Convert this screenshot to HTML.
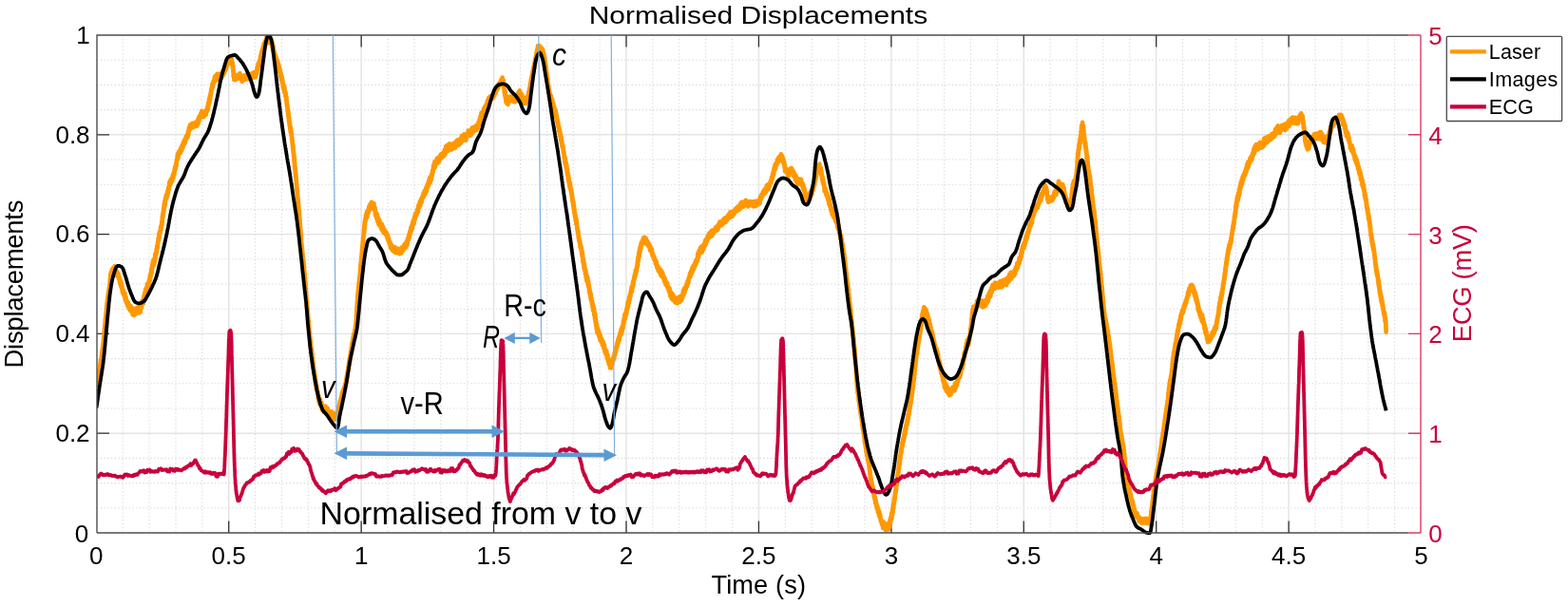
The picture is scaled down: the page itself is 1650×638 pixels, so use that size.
<!DOCTYPE html>
<html lang="en"><head><meta charset="utf-8"><title>Normalised Displacements</title>
<style>html,body{margin:0;padding:0;background:#fff}body{width:1650px;height:638px;overflow:hidden}svg{display:block}text{font-family:"Liberation Sans",sans-serif}</style></head><body>
<svg width="1650" height="638" viewBox="0 0 1650 638">
<rect x="0" y="0" width="1650" height="638" fill="#fff"/>
<path d="M129.19,37.0V561.0 M157.07,37.0V561.0 M184.96,37.0V561.0 M212.84,37.0V561.0 M268.61,37.0V561.0 M296.50,37.0V561.0 M324.38,37.0V561.0 M352.27,37.0V561.0 M408.04,37.0V561.0 M435.92,37.0V561.0 M463.81,37.0V561.0 M491.69,37.0V561.0 M547.46,37.0V561.0 M575.35,37.0V561.0 M603.23,37.0V561.0 M631.12,37.0V561.0 M686.88,37.0V561.0 M714.77,37.0V561.0 M742.66,37.0V561.0 M770.54,37.0V561.0 M826.31,37.0V561.0 M854.20,37.0V561.0 M882.08,37.0V561.0 M909.97,37.0V561.0 M965.74,37.0V561.0 M993.62,37.0V561.0 M1021.51,37.0V561.0 M1049.39,37.0V561.0 M1105.16,37.0V561.0 M1133.05,37.0V561.0 M1160.93,37.0V561.0 M1188.82,37.0V561.0 M1244.59,37.0V561.0 M1272.47,37.0V561.0 M1300.36,37.0V561.0 M1328.24,37.0V561.0 M1384.01,37.0V561.0 M1411.90,37.0V561.0 M1439.78,37.0V561.0 M1467.67,37.0V561.0" stroke="#d8d8d8" stroke-width="1.1" stroke-dasharray="1.3 2.45" fill="none"/>
<path d="M102.0,534.80H1495.0 M102.0,508.60H1495.0 M102.0,482.40H1495.0 M102.0,430.00H1495.0 M102.0,403.80H1495.0 M102.0,377.60H1495.0 M102.0,325.20H1495.0 M102.0,299.00H1495.0 M102.0,272.80H1495.0 M102.0,220.40H1495.0 M102.0,194.20H1495.0 M102.0,168.00H1495.0 M102.0,115.60H1495.0 M102.0,89.40H1495.0 M102.0,63.20H1495.0" stroke="#d8d8d8" stroke-width="1.1" stroke-dasharray="1.3 2.45" fill="none"/>
<path d="M240.73,37.0V561.0 M380.15,37.0V561.0 M519.58,37.0V561.0 M659.00,37.0V561.0 M798.42,37.0V561.0 M937.85,37.0V561.0 M1077.28,37.0V561.0 M1216.70,37.0V561.0 M1356.12,37.0V561.0 M102.0,456.20H1495.0 M102.0,351.40H1495.0 M102.0,246.60H1495.0 M102.0,141.80H1495.0" stroke="#e3e3e3" stroke-width="1.4" fill="none"/>
<path d="M240.73,561.0v-12.5 M240.73,37.0v12.5 M380.15,561.0v-12.5 M380.15,37.0v12.5 M519.58,561.0v-12.5 M519.58,37.0v12.5 M659.00,561.0v-12.5 M659.00,37.0v12.5 M798.42,561.0v-12.5 M798.42,37.0v12.5 M937.85,561.0v-12.5 M937.85,37.0v12.5 M1077.28,561.0v-12.5 M1077.28,37.0v12.5 M1216.70,561.0v-12.5 M1216.70,37.0v12.5 M1356.12,561.0v-12.5 M1356.12,37.0v12.5 M102.0,456.20h13 M102.0,351.40h13 M102.0,246.60h13 M102.0,141.80h13" stroke="#333" stroke-width="1.3" fill="none"/>
<clipPath id="pc"><rect x="102.0" y="37.0" width="1393.0" height="526.2"/></clipPath>
<g clip-path="url(#pc)">
<path d="M101.5,411.0 L101.8,406.7 L102.0,409.8 L102.3,404.3 L102.6,406.7 L102.9,400.2 L103.1,404.4 L103.4,397.6 L103.6,400.8 L103.9,393.2 L104.2,396.8 L104.5,389.1 L104.7,392.7 L105.0,386.3 L105.2,389.5 L105.4,383.1 L105.7,387.4 L105.9,379.0 L106.1,384.0 L106.4,377.6 L106.6,380.8 L106.8,374.2 L107.0,376.6 L107.2,371.0 L107.5,374.7 L107.7,367.4 L107.9,371.7 L108.1,365.2 L108.3,366.7 L108.5,361.4 L108.7,364.0 L108.9,357.8 L109.1,360.6 L109.2,353.4 L109.4,356.2 L109.5,349.9 L109.7,353.7 L109.9,346.0 L110.0,349.5 L110.2,342.9 L110.3,347.6 L110.5,340.8 L110.6,343.7 L110.8,336.3 L110.9,340.8 L111.1,334.5 L111.2,338.3 L111.4,331.7 L111.5,334.7 L111.7,328.3 L111.8,331.7 L112.0,324.8 L112.1,328.6 L112.3,321.9 L112.4,325.3 L112.6,318.6 L112.8,322.0 L113.0,315.2 L113.2,318.2 L113.5,312.3 L113.7,315.2 L113.9,308.2 L114.1,312.3 L114.4,306.1 L114.6,308.4 L114.8,302.8 L115.1,306.6 L115.3,299.3 L115.5,302.1 L115.7,295.8 L115.8,299.3 L115.9,293.4 L116.0,295.9 L116.2,289.1 L116.3,293.5 L116.6,287.0 L117.1,289.9 L117.8,283.9 L118.4,286.2 L119.1,282.1 L119.8,285.2 L120.5,280.4 L121.2,285.6 L121.9,283.9 L122.5,290.0 L123.1,285.8 L123.8,290.9 L124.4,287.7 L125.0,293.5 L125.5,291.1 L126.0,298.4 L126.5,294.1 L127.0,301.1 L127.5,296.8 L128.0,303.9 L128.4,300.2 L128.8,307.7 L129.3,304.5 L129.7,309.8 L130.3,306.8 L130.8,312.1 L131.4,308.7 L131.9,316.1 L132.5,312.6 L133.0,318.9 L133.7,316.6 L134.3,322.0 L135.0,318.4 L135.6,324.8 L136.2,321.1 L136.9,326.6 L137.6,322.1 L138.3,328.2 L138.9,324.0 L139.6,331.4 L140.4,326.9 L141.0,332.0 L141.6,324.8 L142.3,330.8 L142.9,325.2 L143.6,330.3 L144.3,323.9 L145.0,328.4 L145.6,323.3 L146.2,329.5 L147.0,323.7 L147.7,328.4 L148.3,321.7 L148.9,324.0 L149.6,317.0 L150.1,320.1 L150.6,315.0 L151.0,319.4 L151.3,311.8 L151.7,314.8 L152.2,308.5 L152.6,311.9 L153.1,304.5 L153.6,307.4 L154.0,303.0 L154.5,304.8 L155.0,298.8 L155.5,304.7 L156.0,298.6 L156.4,301.3 L156.9,295.0 L157.3,297.0 L157.7,290.6 L158.1,294.5 L158.4,288.0 L158.8,290.5 L159.2,283.9 L159.6,287.7 L160.0,279.6 L160.4,282.4 L160.8,275.6 L161.2,279.9 L161.6,273.5 L162.0,279.1 L162.3,272.8 L162.8,276.0 L163.2,267.7 L163.6,272.4 L164.0,265.8 L164.3,268.4 L164.7,261.7 L165.0,265.9 L165.3,258.7 L165.7,261.4 L166.0,254.9 L166.3,256.6 L166.6,250.9 L167.0,253.8 L167.3,246.2 L167.6,250.5 L167.9,244.1 L168.2,246.4 L168.5,242.9 L168.8,245.0 L169.1,238.9 L169.4,242.3 L169.7,237.1 L170.0,239.0 L170.3,233.0 L170.6,236.6 L170.8,227.7 L171.1,230.6 L171.4,224.7 L171.6,228.1 L171.8,222.3 L172.1,224.6 L172.3,217.8 L172.6,221.6 L172.8,214.4 L173.1,218.9 L173.5,211.2 L173.8,215.6 L174.1,208.2 L174.5,210.6 L174.8,205.3 L175.2,209.4 L175.6,204.2 L176.0,207.2 L176.4,201.0 L176.8,203.8 L177.3,197.1 L177.8,199.6 L178.3,191.9 L178.9,195.5 L179.5,189.1 L180.1,192.8 L180.7,187.6 L181.2,190.5 L181.8,184.3 L182.3,187.5 L182.8,182.0 L183.3,183.7 L183.6,178.4 L184.0,180.6 L184.3,175.5 L184.7,177.8 L185.1,172.4 L185.5,174.8 L185.9,168.1 L186.4,169.1 L186.9,162.4 L187.4,166.7 L187.9,160.1 L188.5,162.0 L189.1,158.4 L189.8,161.0 L190.4,155.2 L191.1,158.8 L191.8,152.4 L192.4,155.4 L193.1,149.3 L193.7,152.4 L194.4,146.8 L195.0,150.0 L195.7,143.8 L196.3,146.4 L196.9,141.7 L197.5,144.6 L198.0,138.0 L198.4,141.8 L198.8,134.6 L199.3,137.6 L200.0,131.5 L200.6,135.5 L201.3,130.5 L202.0,134.5 L202.6,129.7 L203.3,134.3 L204.0,130.5 L204.7,132.9 L205.4,128.9 L206.0,132.9 L206.7,129.1 L207.3,132.4 L208.0,126.5 L208.5,130.3 L208.8,124.2 L209.2,128.4 L209.7,122.5 L210.3,124.8 L211.0,120.1 L211.6,121.5 L212.3,116.8 L212.9,121.0 L213.6,118.8 L214.2,123.3 L214.8,118.6 L215.5,121.7 L216.2,116.8 L216.8,120.8 L217.4,115.1 L218.1,117.2 L218.5,111.6 L219.0,115.1 L219.3,108.0 L219.7,111.0 L220.1,104.1 L220.5,108.4 L220.8,101.0 L221.1,104.6 L221.4,98.7 L221.7,101.4 L222.0,95.5 L222.2,98.6 L222.5,92.8 L222.9,95.0 L223.4,88.5 L223.9,91.8 L224.6,85.6 L225.2,86.7 L225.9,80.9 L226.6,85.2 L227.2,79.4 L227.8,83.0 L228.5,77.8 L229.2,83.9 L230.0,79.0 L230.6,82.5 L231.3,78.0 L231.9,83.0 L232.5,78.2 L233.3,82.0 L234.0,75.4 L234.7,79.6 L235.3,74.2 L235.9,77.2 L236.5,71.5 L237.0,74.8 L237.5,68.9 L238.0,72.7 L238.6,65.5 L239.3,69.1 L240.0,61.3 L240.6,66.2 L241.3,60.7 L241.9,64.5 L242.5,59.7 L243.2,65.5 L243.7,60.9 L244.2,68.0 L244.6,65.7 L245.0,72.4 L245.2,68.9 L245.4,76.2 L245.6,73.9 L245.7,80.6 L246.0,78.0 L246.3,84.0 L247.0,79.4 L247.6,84.2 L248.4,79.1 L249.0,83.4 L249.7,79.1 L250.4,82.5 L251.1,78.2 L251.7,81.4 L252.5,77.0 L253.2,83.0 L254.0,80.4 L254.8,85.9 L255.5,80.6 L256.3,84.0 L257.1,79.4 L257.8,83.9 L258.6,79.2 L259.4,83.4 L260.2,78.3 L261.0,83.3 L261.6,78.4 L262.3,82.3 L262.9,78.1 L263.6,82.1 L264.3,77.9 L264.9,82.8 L265.6,77.1 L266.3,81.6 L267.0,76.4 L267.7,80.8 L268.3,77.4 L269.0,81.3 L269.6,75.3 L270.1,77.9 L270.6,71.0 L271.1,73.5 L271.6,67.1 L272.1,70.1 L272.6,65.3 L273.0,68.9 L273.4,63.1 L273.8,66.0 L274.1,59.3 L274.5,63.6 L274.9,55.6 L275.3,59.3 L275.8,52.6 L276.3,56.8 L276.8,49.2 L277.3,53.7 L277.8,45.7 L278.4,50.8 L279.0,43.2 L279.7,46.8 L280.3,39.8 L280.9,45.7 L281.6,37.2 L282.3,42.5 L283.0,36.3 L283.7,43.7 L284.3,39.8 L285.0,45.6 L285.6,41.7 L286.2,48.7 L286.7,45.3 L287.2,53.3 L287.6,48.5 L288.0,56.1 L288.3,52.7 L288.7,58.2 L289.1,56.0 L289.5,61.7 L290.0,58.4 L290.4,64.1 L290.9,61.0 L291.4,67.0 L291.9,63.6 L292.4,70.8 L292.9,66.6 L293.3,72.5 L293.8,69.5 L294.3,76.4 L294.8,73.5 L295.3,81.2 L295.7,77.2 L296.1,84.6 L296.5,80.4 L296.8,87.2 L297.2,83.2 L297.6,91.1 L297.9,87.3 L298.3,93.5 L298.7,89.8 L299.0,96.1 L299.4,91.8 L299.8,98.0 L300.1,95.6 L300.5,101.9 L300.8,98.1 L301.1,105.7 L301.4,102.1 L301.7,109.7 L301.9,106.8 L302.1,112.6 L302.4,110.6 L302.6,116.7 L302.8,112.9 L303.0,119.8 L303.3,116.6 L303.5,123.4 L303.7,120.0 L303.9,127.4 L304.2,123.5 L304.4,129.9 L304.6,126.8 L304.8,132.8 L305.1,129.8 L305.3,136.1 L305.5,132.9 L305.7,139.3 L306.0,134.6 L306.2,140.3 L306.4,137.9 L306.6,143.0 L306.8,140.0 L307.1,147.2 L307.3,144.5 L307.5,150.0 L307.7,147.6 L307.9,154.2 L308.1,151.2 L308.3,157.7 L308.5,154.4 L308.7,161.6 L308.9,158.7 L309.1,165.4 L309.2,161.6 L309.4,169.1 L309.6,164.5 L309.7,171.2 L309.9,167.6 L310.0,175.2 L310.2,171.0 L310.4,178.8 L310.5,175.4 L310.7,181.3 L310.8,176.7 L311.0,183.6 L311.1,181.3 L311.3,187.3 L311.5,184.0 L311.6,190.5 L311.7,187.3 L311.9,194.2 L312.0,190.2 L312.2,196.4 L312.3,194.2 L312.5,200.6 L312.6,198.1 L312.8,204.4 L312.9,200.5 L313.0,207.0 L313.2,204.2 L313.3,209.7 L313.5,207.9 L313.6,213.5 L313.7,209.7 L313.9,216.6 L314.0,214.0 L314.1,218.5 L314.3,216.4 L314.4,222.4 L314.5,219.5 L314.7,226.3 L314.8,221.7 L314.9,228.3 L315.1,225.8 L315.2,232.7 L315.3,228.7 L315.4,234.6 L315.6,231.5 L315.7,238.7 L315.8,235.8 L316.0,241.5 L316.1,238.3 L316.2,245.2 L316.4,241.8 L316.5,248.7 L316.6,244.9 L316.8,252.4 L316.9,247.6 L317.0,256.4 L317.2,254.4 L317.4,261.2 L317.5,256.9 L317.7,264.7 L317.9,260.3 L318.0,266.3 L318.2,263.9 L318.3,270.3 L318.5,266.9 L318.7,273.2 L318.8,269.3 L319.0,276.6 L319.2,271.9 L319.3,278.1 L319.5,274.2 L319.6,280.9 L319.8,278.8 L320.0,284.5 L320.1,281.2 L320.3,289.3 L320.4,285.9 L320.6,291.3 L320.7,288.5 L320.8,294.9 L321.0,292.0 L321.1,297.5 L321.2,294.4 L321.4,301.8 L321.5,297.6 L321.6,305.0 L321.7,300.7 L321.9,309.3 L322.0,304.6 L322.1,312.5 L322.3,309.0 L322.4,316.6 L322.5,313.9 L322.7,321.3 L322.8,317.0 L322.9,323.2 L323.0,318.9 L323.2,326.1 L323.3,321.9 L323.4,328.5 L323.5,324.2 L323.7,330.6 L323.8,326.7 L323.9,332.8 L324.1,330.5 L324.2,336.1 L324.4,334.7 L324.5,339.6 L324.7,337.4 L324.9,343.8 L325.0,341.5 L325.2,347.9 L325.3,344.6 L325.5,351.5 L325.6,348.2 L325.8,354.6 L326.0,350.8 L326.1,356.8 L326.3,354.4 L326.5,359.9 L326.6,357.3 L326.8,363.4 L327.0,360.0 L327.2,367.0 L327.4,364.5 L327.6,370.8 L327.8,367.0 L328.0,372.4 L328.1,369.4 L328.3,374.7 L328.5,372.9 L328.7,378.5 L328.9,376.1 L329.1,382.2 L329.3,379.6 L329.5,385.5 L329.7,382.9 L329.9,389.1 L330.2,386.0 L330.4,392.7 L330.7,390.2 L330.9,395.3 L331.1,393.5 L331.4,398.8 L331.6,396.3 L331.8,402.4 L332.1,398.8 L332.3,405.6 L332.5,402.7 L332.8,409.3 L333.1,405.6 L333.4,411.5 L333.7,409.5 L334.1,414.6 L334.4,412.1 L334.8,419.6 L335.2,416.6 L335.6,423.1 L336.0,419.2 L336.5,425.7 L337.1,420.4 L337.7,427.1 L338.4,424.0 L339.0,431.5 L339.7,428.7 L340.4,433.5 L341.1,430.0 L341.7,433.1 L342.3,427.5 L343.1,434.2 L343.7,428.7 L344.3,435.5 L345.0,430.0 L345.6,435.7 L346.3,433.4 L346.9,438.6 L347.6,434.8 L348.2,438.0 L348.9,433.2 L349.5,439.4 L350.2,434.4 L350.9,440.3 L351.5,437.0 L352.2,441.7 L352.9,436.4 L353.5,441.2 L354.1,434.9 L354.8,438.4 L355.2,433.5 L355.7,436.6 L356.1,428.8 L356.6,433.9 L357.0,425.6 L357.5,429.3 L357.8,422.1 L358.1,426.7 L358.4,420.3 L358.7,422.7 L359.1,417.4 L359.4,421.0 L359.9,413.4 L360.4,417.4 L361.0,410.5 L361.6,413.5 L362.3,407.1 L362.9,410.1 L363.4,404.0 L363.9,405.6 L364.3,398.8 L364.6,403.2 L364.9,395.5 L365.2,398.4 L365.5,392.5 L365.7,395.3 L366.0,390.0 L366.2,391.5 L366.4,386.5 L366.6,389.6 L366.9,383.2 L367.1,385.6 L367.4,380.2 L367.6,382.9 L367.9,376.5 L368.2,379.9 L368.4,374.3 L368.7,377.1 L368.9,370.4 L369.2,374.3 L369.5,368.0 L369.7,370.6 L370.0,364.5 L370.3,368.0 L370.5,361.0 L370.8,364.9 L371.1,358.5 L371.3,360.9 L371.6,355.1 L371.9,357.7 L372.2,351.7 L372.5,355.2 L372.8,350.8 L373.1,354.3 L373.4,347.1 L373.7,349.7 L374.0,343.3 L374.2,347.4 L374.4,340.7 L374.5,343.5 L374.7,336.5 L374.9,340.5 L375.0,331.4 L375.2,334.4 L375.3,327.6 L375.4,331.4 L375.5,323.6 L375.6,327.1 L375.7,321.1 L375.8,324.1 L375.9,317.0 L376.1,320.4 L376.2,314.4 L376.3,318.0 L376.4,311.0 L376.5,313.9 L376.6,308.0 L376.7,311.2 L376.9,305.1 L377.0,308.8 L377.2,302.7 L377.3,305.6 L377.5,298.5 L377.7,302.6 L377.8,296.2 L378.0,299.2 L378.2,293.0 L378.3,297.3 L378.5,290.8 L378.6,294.0 L378.8,287.7 L379.0,290.2 L379.1,283.5 L379.3,286.9 L379.4,278.9 L379.6,282.0 L379.7,276.3 L379.9,279.8 L380.0,273.9 L380.2,276.8 L380.3,270.4 L380.5,272.7 L380.6,266.9 L380.7,269.6 L380.9,263.5 L381.0,265.4 L381.2,260.4 L381.3,263.0 L381.5,257.1 L381.6,260.5 L381.8,254.2 L382.0,257.1 L382.1,250.9 L382.3,254.4 L382.4,248.0 L382.5,249.9 L382.7,244.9 L382.8,247.7 L383.0,240.8 L383.2,245.2 L383.4,237.0 L383.6,241.1 L383.8,233.0 L384.1,236.9 L384.4,230.3 L384.7,232.8 L385.1,226.0 L385.5,230.0 L385.9,223.3 L386.4,228.6 L387.0,221.5 L387.6,224.6 L388.3,217.4 L388.9,221.2 L389.6,214.8 L390.3,219.5 L390.9,212.9 L391.5,218.2 L392.2,213.6 L392.8,219.0 L393.4,214.0 L394.0,221.2 L394.6,218.8 L395.1,227.0 L395.7,223.2 L396.3,230.0 L396.8,225.3 L397.3,233.4 L397.9,228.9 L398.5,236.6 L399.2,231.4 L399.9,237.8 L400.5,234.2 L401.1,240.8 L401.8,235.9 L402.4,242.8 L403.1,238.6 L403.7,245.3 L404.4,241.2 L405.0,245.7 L405.6,243.3 L406.2,247.3 L406.9,245.1 L407.5,250.8 L408.0,247.3 L408.5,253.3 L409.1,250.9 L409.6,256.3 L410.3,254.5 L410.9,260.7 L411.5,256.9 L412.2,262.6 L412.8,259.5 L413.5,264.0 L414.2,259.7 L414.8,265.2 L415.6,260.1 L416.4,266.1 L417.2,262.1 L417.9,266.2 L418.6,261.7 L419.3,266.2 L420.0,263.1 L420.6,267.3 L421.3,262.7 L421.9,266.7 L422.5,260.6 L423.2,265.2 L423.9,260.1 L424.6,263.3 L425.3,257.7 L426.0,261.5 L426.6,256.0 L427.3,260.6 L427.9,253.9 L428.5,258.0 L429.2,250.7 L429.8,252.9 L430.3,247.0 L430.8,250.0 L431.3,243.5 L431.8,246.2 L432.4,239.8 L432.9,242.9 L433.3,237.4 L433.8,240.7 L434.2,234.1 L434.7,236.9 L435.1,231.5 L435.7,235.5 L436.1,228.4 L436.6,231.2 L437.1,224.9 L437.6,227.8 L438.1,224.2 L438.6,226.1 L439.2,220.5 L439.8,223.4 L440.4,216.1 L441.1,218.6 L441.8,212.3 L442.4,216.3 L443.0,209.7 L443.6,213.3 L444.3,207.3 L444.9,208.4 L445.6,203.3 L446.2,206.7 L446.9,200.5 L447.6,204.3 L448.3,197.6 L448.9,201.4 L449.6,194.6 L450.2,197.3 L450.8,191.1 L451.4,194.4 L452.0,187.5 L452.6,192.2 L453.2,185.8 L453.8,189.4 L454.3,183.1 L454.8,185.2 L455.2,179.2 L455.7,181.4 L456.1,174.0 L456.7,177.4 L457.3,170.5 L457.9,175.8 L458.5,169.3 L459.2,172.1 L459.8,166.7 L460.4,171.6 L461.1,165.9 L461.8,170.8 L462.5,164.7 L463.1,168.0 L463.8,162.6 L464.4,166.2 L465.0,161.8 L465.7,165.5 L466.3,160.7 L467.0,164.6 L467.8,157.8 L468.5,162.6 L469.2,154.0 L469.8,159.1 L470.4,153.1 L471.1,159.0 L471.7,152.3 L472.3,157.9 L472.9,151.2 L473.6,157.4 L474.3,153.2 L474.9,157.7 L475.6,153.0 L476.3,155.7 L477.0,151.0 L477.7,156.3 L478.4,150.2 L479.1,155.6 L479.7,149.3 L480.4,153.5 L481.1,147.6 L481.7,152.9 L482.4,147.4 L483.0,152.5 L483.6,146.9 L484.2,151.2 L484.8,145.2 L485.4,150.0 L486.1,142.7 L486.7,148.4 L487.3,142.9 L487.9,147.5 L488.5,141.4 L489.1,146.2 L489.7,143.1 L490.4,147.7 L491.2,141.9 L491.9,143.0 L492.7,137.6 L493.4,142.8 L494.1,138.7 L494.9,143.0 L495.5,137.1 L496.1,141.8 L496.7,134.5 L497.4,139.5 L498.1,134.0 L498.8,138.5 L499.5,134.0 L500.1,137.6 L500.8,132.2 L501.5,136.9 L502.1,131.6 L502.8,135.0 L503.4,128.9 L504.1,131.5 L504.6,125.9 L505.0,128.7 L505.5,122.6 L506.0,124.3 L506.5,118.8 L507.1,121.5 L507.7,117.9 L508.4,119.9 L509.0,114.4 L509.6,117.3 L510.2,112.2 L510.9,115.0 L511.6,110.0 L512.3,111.8 L512.9,106.0 L513.5,108.5 L514.2,103.1 L514.9,106.6 L515.6,101.5 L516.3,105.3 L517.0,101.2 L517.6,104.5 L518.2,100.6 L518.9,103.3 L519.5,97.9 L520.2,100.8 L520.8,95.8 L521.5,98.1 L522.2,92.9 L522.8,95.3 L523.5,90.5 L524.1,93.2 L524.8,88.1 L525.4,90.5 L526.1,86.5 L526.7,89.3 L527.4,83.9 L528.0,86.5 L528.6,81.6 L529.3,88.3 L529.7,84.4 L530.0,91.3 L530.3,89.8 L530.7,97.3 L531.0,93.5 L531.3,100.8 L531.7,96.4 L531.9,104.0 L532.2,99.9 L532.4,107.4 L532.7,101.6 L533.1,108.6 L533.8,104.8 L534.5,110.0 L535.1,102.2 L535.8,106.7 L536.5,101.6 L537.3,106.5 L538.1,101.6 L538.9,105.6 L539.7,101.7 L540.3,106.9 L541.0,101.7 L541.6,107.4 L542.3,101.9 L543.0,106.6 L543.7,102.3 L544.3,106.1 L544.8,99.1 L545.2,102.3 L545.7,96.7 L546.3,99.5 L546.9,95.4 L547.6,101.4 L548.2,97.9 L548.9,103.8 L549.5,99.9 L550.1,107.0 L550.8,102.8 L551.4,108.5 L552.1,103.5 L552.7,109.2 L553.3,103.6 L553.9,108.3 L554.6,101.7 L555.1,104.7 L555.5,100.5 L555.9,103.9 L556.3,96.7 L556.7,99.7 L557.1,93.2 L557.5,95.4 L557.9,88.6 L558.3,91.1 L558.7,83.9 L559.0,88.0 L559.3,81.3 L559.6,84.3 L559.9,78.5 L560.2,81.3 L560.5,75.1 L560.9,78.8 L561.1,72.4 L561.4,75.9 L561.7,69.5 L561.9,73.5 L562.2,67.3 L562.5,71.4 L562.7,64.8 L563.1,66.8 L563.4,60.8 L563.8,64.0 L564.2,56.3 L564.7,58.0 L565.1,52.3 L565.5,54.4 L566.0,48.2 L566.6,54.4 L567.2,48.0 L567.8,52.3 L568.5,49.0 L569.2,54.3 L569.9,50.2 L570.5,57.0 L571.1,52.0 L571.6,57.8 L572.0,55.3 L572.3,61.0 L572.7,58.4 L572.9,64.5 L573.2,60.9 L573.4,67.8 L573.6,64.4 L573.9,71.7 L574.1,66.9 L574.3,73.4 L574.5,69.4 L574.7,75.8 L575.0,73.2 L575.2,78.6 L575.5,76.9 L575.7,84.4 L575.9,80.4 L576.2,87.8 L576.4,83.4 L576.6,91.1 L576.9,88.3 L577.1,93.9 L577.4,90.7 L577.7,98.3 L578.0,94.7 L578.4,101.3 L578.8,98.1 L579.3,105.2 L579.9,100.9 L580.5,108.2 L581.2,104.4 L581.8,111.7 L582.3,108.7 L582.8,116.0 L583.2,111.8 L583.6,118.3 L584.0,115.0 L584.3,119.4 L584.6,115.7 L584.9,123.0 L585.2,119.2 L585.5,124.4 L585.9,121.7 L586.2,128.0 L586.5,125.1 L586.9,131.0 L587.2,128.2 L587.5,134.0 L587.9,131.8 L588.2,138.2 L588.5,134.5 L588.9,141.1 L589.2,137.6 L589.5,143.7 L589.9,140.9 L590.2,147.9 L590.6,143.9 L590.9,150.7 L591.2,148.4 L591.6,154.6 L591.9,151.7 L592.3,157.1 L592.6,154.8 L593.0,161.2 L593.4,159.8 L593.7,166.5 L594.0,164.1 L594.4,170.8 L594.7,166.0 L594.9,172.9 L595.2,169.6 L595.5,175.0 L595.8,171.3 L596.1,177.5 L596.4,173.9 L596.7,182.0 L597.0,178.2 L597.3,184.7 L597.6,182.3 L597.9,189.4 L598.2,184.6 L598.5,192.0 L598.8,188.0 L599.1,195.6 L599.5,191.7 L599.8,198.1 L600.1,193.6 L600.4,199.9 L600.7,197.5 L601.1,203.5 L601.4,200.6 L601.7,207.1 L601.9,204.1 L602.2,210.8 L602.4,207.5 L602.7,213.5 L603.0,211.1 L603.2,217.1 L603.5,212.7 L603.7,219.4 L604.0,216.1 L604.3,224.1 L604.5,220.1 L604.8,227.2 L605.0,224.0 L605.3,229.2 L605.6,226.7 L605.8,232.3 L606.1,229.5 L606.3,235.6 L606.6,231.0 L606.9,237.2 L607.1,234.4 L607.4,242.0 L607.7,239.7 L608.0,245.3 L608.4,243.2 L608.7,250.4 L609.0,248.3 L609.3,253.6 L609.6,251.4 L609.9,255.9 L610.2,253.3 L610.5,260.2 L610.8,256.9 L611.1,260.8 L611.4,259.0 L611.7,264.2 L612.0,261.2 L612.2,268.1 L612.5,264.2 L612.8,270.6 L613.1,267.5 L613.4,276.0 L613.7,272.1 L614.0,278.2 L614.3,275.2 L614.6,282.8 L615.0,278.0 L615.3,285.0 L615.7,282.6 L616.0,288.9 L616.4,284.6 L616.7,292.2 L617.0,288.7 L617.4,295.8 L617.7,290.5 L618.1,296.9 L618.4,292.2 L618.8,300.4 L619.1,296.4 L619.4,302.4 L619.8,299.7 L620.1,307.6 L620.4,303.4 L620.8,310.4 L621.1,307.2 L621.5,314.1 L621.8,309.7 L622.1,316.8 L622.5,313.8 L622.8,319.6 L623.2,317.3 L623.5,322.8 L623.8,319.7 L624.1,326.9 L624.4,322.1 L624.7,327.9 L625.0,324.0 L625.3,332.0 L625.7,328.5 L626.0,335.7 L626.3,330.6 L626.6,339.7 L626.9,335.9 L627.2,342.6 L627.5,339.3 L627.8,346.6 L628.1,342.0 L628.5,350.3 L628.9,345.4 L629.4,351.8 L629.9,347.8 L630.4,354.6 L630.9,350.8 L631.5,358.2 L632.0,353.5 L632.7,359.9 L633.3,357.0 L634.0,363.6 L634.6,359.5 L635.3,366.7 L635.9,363.1 L636.5,370.8 L637.2,368.2 L637.7,373.4 L638.3,369.4 L638.8,377.1 L639.4,373.5 L639.9,380.7 L640.4,377.4 L640.8,383.6 L641.3,381.1 L641.9,387.3 L642.5,383.3 L643.1,387.5 L643.8,381.4 L644.3,383.5 L644.8,377.6 L645.3,380.1 L645.8,374.6 L646.3,377.6 L646.8,370.7 L647.3,373.4 L647.8,367.4 L648.2,370.4 L648.6,364.7 L649.1,366.5 L649.6,360.3 L650.0,363.5 L650.5,357.0 L650.9,360.5 L651.4,354.4 L651.9,357.3 L652.4,350.9 L652.9,353.2 L653.4,347.3 L653.8,352.2 L654.2,345.2 L654.7,349.0 L655.1,343.1 L655.5,345.5 L656.0,337.6 L656.4,340.3 L656.8,335.0 L657.2,336.7 L657.5,330.7 L657.9,335.9 L658.3,329.5 L658.6,332.6 L659.0,327.0 L659.4,329.8 L659.8,323.5 L660.2,325.6 L660.6,318.6 L661.0,323.0 L661.4,316.3 L661.8,319.2 L662.2,312.6 L662.6,315.6 L663.0,310.0 L663.4,312.1 L663.8,306.0 L664.2,308.0 L664.6,302.1 L665.0,307.0 L665.4,300.5 L665.7,303.1 L666.1,296.5 L666.4,300.6 L666.8,293.8 L667.1,295.8 L667.5,290.9 L667.8,293.3 L668.1,288.1 L668.5,290.2 L668.8,284.6 L669.2,288.4 L669.5,283.5 L669.8,285.6 L670.2,280.0 L670.5,282.2 L670.8,275.4 L671.2,279.3 L671.5,270.3 L671.8,274.3 L672.2,266.6 L672.5,270.6 L672.8,263.7 L673.1,267.2 L673.4,260.7 L673.6,265.5 L673.9,258.9 L674.3,262.7 L674.7,255.7 L675.2,258.5 L675.8,253.4 L676.5,256.4 L677.1,250.4 L677.7,256.0 L678.3,249.7 L679.0,253.7 L679.7,250.7 L680.4,256.7 L681.1,253.6 L681.7,258.4 L682.3,255.6 L682.9,259.7 L683.6,257.9 L684.2,263.8 L684.8,260.3 L685.3,265.1 L685.9,262.3 L686.5,269.1 L687.1,267.3 L687.7,271.9 L688.3,270.0 L688.9,274.6 L689.5,273.0 L690.1,278.2 L690.8,275.5 L691.5,282.1 L692.1,280.0 L692.7,285.3 L693.4,281.6 L694.0,286.8 L694.6,283.8 L695.3,289.8 L695.9,284.6 L696.5,291.2 L697.2,286.9 L697.8,292.4 L698.4,290.5 L699.0,296.3 L699.7,292.9 L700.3,299.2 L700.9,296.4 L701.5,301.0 L702.1,297.8 L702.8,303.7 L703.4,301.9 L704.0,307.0 L704.6,303.2 L705.3,311.7 L705.9,307.4 L706.5,314.1 L707.2,308.7 L707.8,315.7 L708.4,310.6 L709.1,316.6 L709.7,312.7 L710.4,318.5 L711.1,313.2 L711.8,318.7 L712.4,315.0 L713.0,319.5 L713.7,315.2 L714.4,317.5 L715.0,312.4 L715.6,317.8 L716.3,312.7 L716.9,316.5 L717.6,310.5 L718.2,313.8 L718.9,305.9 L719.5,310.3 L720.0,303.7 L720.6,307.7 L721.2,302.0 L721.8,304.5 L722.5,298.8 L723.1,301.5 L723.7,295.5 L724.3,298.1 L724.8,292.4 L725.4,292.9 L726.0,287.7 L726.6,290.9 L727.2,285.0 L727.8,288.2 L728.4,281.9 L729.0,285.5 L729.6,279.8 L730.2,283.2 L730.8,277.9 L731.4,280.1 L731.9,274.8 L732.5,277.7 L733.1,272.9 L733.7,275.0 L734.4,266.5 L735.0,270.8 L735.6,263.9 L736.3,267.1 L736.9,261.0 L737.5,264.5 L738.1,259.6 L738.8,265.6 L739.4,258.9 L740.1,263.1 L740.7,257.1 L741.4,259.7 L742.0,253.4 L742.7,257.5 L743.4,251.2 L744.0,254.3 L744.7,248.8 L745.3,250.5 L746.0,245.8 L746.6,249.9 L747.3,244.9 L748.0,249.1 L748.8,242.9 L749.5,248.1 L750.3,242.3 L751.0,245.6 L751.7,241.7 L752.4,243.3 L753.1,239.2 L753.8,243.0 L754.5,238.3 L755.3,242.0 L756.0,236.2 L756.7,238.7 L757.4,233.5 L758.1,237.6 L758.8,234.2 L759.5,237.2 L760.2,232.4 L760.9,235.4 L761.6,230.5 L762.3,234.4 L763.0,229.2 L763.7,233.8 L764.4,229.3 L765.1,232.0 L765.9,226.7 L766.6,230.0 L767.2,225.4 L767.8,228.9 L768.4,223.4 L769.1,228.2 L769.7,222.7 L770.3,228.2 L771.0,223.6 L771.6,226.5 L772.2,222.3 L772.8,224.8 L773.5,220.4 L774.2,222.9 L774.9,219.1 L775.6,222.3 L776.3,217.5 L776.9,221.1 L777.6,216.7 L778.4,220.6 L779.0,214.9 L779.6,218.7 L780.3,212.8 L781.0,217.4 L781.8,212.9 L782.5,217.6 L783.3,212.2 L784.1,215.9 L784.9,210.8 L785.6,216.0 L786.4,213.6 L787.2,217.4 L787.8,213.3 L788.4,216.2 L789.0,212.1 L789.6,216.2 L790.2,212.3 L791.0,216.2 L791.8,212.4 L792.6,217.2 L793.3,212.4 L794.0,217.3 L794.8,211.7 L795.5,217.0 L796.2,212.1 L796.9,215.5 L797.6,211.7 L798.2,215.2 L798.9,210.1 L799.5,214.2 L800.2,207.0 L800.9,209.6 L801.5,204.7 L802.1,207.5 L802.8,202.0 L803.4,204.4 L804.1,200.1 L804.8,203.7 L805.5,198.2 L806.1,202.2 L806.8,195.3 L807.5,198.9 L808.1,194.3 L808.8,199.2 L809.4,193.5 L810.0,195.9 L810.7,190.7 L811.4,192.8 L812.0,186.5 L812.6,189.0 L813.1,182.7 L813.5,185.8 L813.9,179.9 L814.2,183.5 L814.6,176.8 L815.0,179.5 L815.5,173.6 L816.1,177.4 L816.7,171.7 L817.3,173.9 L818.0,168.0 L818.7,171.0 L819.3,165.7 L820.0,169.8 L820.6,164.5 L821.3,169.0 L821.9,162.4 L822.6,168.3 L823.2,164.0 L823.9,170.7 L824.4,167.4 L824.8,172.7 L825.2,170.7 L825.6,176.5 L825.9,173.3 L826.1,180.4 L826.4,176.1 L826.9,180.7 L827.6,178.5 L828.2,182.8 L829.0,178.8 L829.6,185.7 L830.3,180.4 L831.0,183.7 L831.6,177.5 L832.2,182.0 L833.0,176.9 L833.6,183.1 L834.3,179.2 L834.9,185.3 L835.5,181.2 L835.9,186.5 L836.3,183.7 L837.0,189.8 L837.6,184.7 L838.3,192.0 L839.0,187.7 L839.6,194.0 L840.3,188.8 L840.9,193.8 L841.7,188.5 L842.3,194.3 L843.0,188.8 L843.6,194.9 L844.3,192.5 L844.9,198.6 L845.4,194.4 L846.0,200.8 L846.5,198.3 L847.0,204.5 L847.5,202.7 L847.9,210.9 L848.4,206.1 L849.1,212.2 L849.7,207.0 L850.4,211.1 L851.1,205.0 L851.7,208.9 L852.4,202.6 L853.0,206.8 L853.7,200.6 L854.3,204.7 L854.9,198.0 L855.5,200.5 L856.0,194.9 L856.4,196.9 L856.7,191.7 L857.1,195.4 L857.4,188.7 L857.8,191.4 L858.1,185.7 L858.4,188.6 L858.7,182.4 L859.0,186.1 L859.3,179.1 L859.7,182.9 L860.2,175.8 L860.6,180.0 L861.2,174.0 L861.8,176.8 L862.4,172.6 L863.1,179.5 L863.6,176.4 L864.1,183.9 L864.5,179.8 L864.8,186.3 L865.0,183.7 L865.3,189.5 L865.6,185.8 L865.8,192.3 L866.2,188.5 L866.7,195.1 L867.2,192.7 L867.6,201.1 L868.1,197.3 L868.6,202.4 L869.0,199.0 L869.5,205.5 L869.9,202.2 L870.4,207.5 L870.8,204.6 L871.3,210.6 L871.7,206.9 L872.3,214.7 L872.8,209.9 L873.4,217.5 L874.0,215.9 L874.6,222.3 L875.2,219.0 L875.7,225.8 L876.3,221.0 L876.9,228.0 L877.4,223.1 L878.0,229.8 L878.6,225.6 L879.2,232.7 L879.8,229.2 L880.4,234.9 L880.9,232.7 L881.4,239.6 L881.9,235.9 L882.3,241.8 L882.8,239.7 L883.3,246.1 L883.7,242.5 L884.1,250.3 L884.5,247.6 L884.8,252.4 L885.1,247.7 L885.4,254.2 L885.7,251.6 L886.0,257.8 L886.2,254.5 L886.5,260.4 L886.8,257.2 L887.1,264.6 L887.3,261.5 L887.6,267.0 L887.9,264.9 L888.2,271.7 L888.4,267.7 L888.7,274.8 L889.0,271.7 L889.3,278.4 L889.5,277.0 L889.7,283.3 L890.0,280.8 L890.2,287.6 L890.4,284.8 L890.5,291.0 L890.7,286.8 L890.9,293.6 L891.0,289.9 L891.2,295.9 L891.4,293.9 L891.5,299.0 L891.7,297.1 L891.9,300.7 L892.1,297.7 L892.2,303.9 L892.4,302.1 L892.6,308.4 L892.8,304.0 L892.9,311.1 L893.1,308.2 L893.3,315.1 L893.5,311.5 L893.6,317.3 L893.8,313.1 L894.0,321.8 L894.2,317.4 L894.4,324.8 L894.5,320.9 L894.7,328.1 L894.9,323.3 L895.1,331.3 L895.3,326.6 L895.4,334.0 L895.6,330.8 L895.8,336.8 L896.0,334.2 L896.2,341.1 L896.3,337.0 L896.5,343.7 L896.7,340.2 L896.9,347.5 L897.1,344.5 L897.2,350.7 L897.4,348.4 L897.6,353.4 L897.8,350.8 L897.9,356.8 L898.1,354.5 L898.2,360.4 L898.4,355.5 L898.5,362.0 L898.6,358.7 L898.8,364.9 L898.9,363.1 L899.1,368.2 L899.2,365.5 L899.4,371.4 L899.5,368.1 L899.6,374.9 L899.8,371.9 L899.9,378.3 L900.0,375.2 L900.2,380.6 L900.3,378.7 L900.4,384.0 L900.5,381.8 L900.7,389.2 L900.8,387.1 L900.9,393.1 L901.0,389.6 L901.1,395.6 L901.2,393.9 L901.4,398.7 L901.5,397.5 L901.6,402.5 L901.7,400.6 L901.8,406.1 L902.0,404.1 L902.1,409.7 L902.3,406.8 L902.5,413.5 L902.6,409.7 L902.8,413.9 L903.0,411.3 L903.2,416.7 L903.4,414.7 L903.6,421.9 L903.9,419.0 L904.1,424.0 L904.3,422.1 L904.5,428.0 L904.7,425.2 L905.0,431.6 L905.2,428.4 L905.5,435.2 L905.7,431.7 L905.9,437.2 L906.2,433.4 L906.4,440.3 L906.6,437.1 L906.9,443.6 L907.1,441.4 L907.4,448.4 L907.6,444.1 L907.9,452.0 L908.1,446.8 L908.3,453.6 L908.6,450.6 L908.8,457.1 L909.1,454.0 L909.3,460.3 L909.6,457.5 L909.8,465.1 L910.1,460.8 L910.4,467.8 L910.7,465.1 L910.9,471.3 L911.2,468.3 L911.5,475.9 L911.8,472.2 L912.1,478.9 L912.4,474.8 L912.6,480.8 L912.9,478.0 L913.2,484.9 L913.5,482.0 L913.8,487.2 L914.1,484.4 L914.3,490.5 L914.5,487.7 L914.7,493.6 L914.9,490.9 L915.1,496.6 L915.3,494.1 L915.5,500.0 L915.7,496.3 L915.9,503.7 L916.2,500.9 L916.4,506.7 L916.7,503.0 L917.0,510.7 L917.3,506.8 L917.6,513.2 L918.0,511.1 L918.3,516.0 L918.6,512.9 L919.0,519.9 L919.4,516.6 L919.8,523.5 L920.1,520.6 L920.5,526.2 L920.9,523.6 L921.2,529.8 L921.6,526.5 L922.0,532.3 L922.4,530.5 L922.9,536.0 L923.4,532.9 L923.9,539.3 L924.4,536.3 L924.8,542.4 L925.3,538.7 L925.8,544.9 L926.3,541.9 L926.8,548.5 L927.3,547.0 L928.0,552.2 L928.6,548.8 L929.2,556.0 L929.8,549.5 L930.5,556.6 L931.2,552.0 L931.8,558.1 L932.5,552.9 L933.2,557.9 L933.9,551.4 L934.6,557.8 L935.3,552.6 L935.9,555.3 L936.5,547.4 L937.0,550.3 L937.4,544.3 L937.8,547.0 L938.1,540.6 L938.4,546.1 L938.7,539.2 L939.0,542.5 L939.3,535.3 L939.6,539.8 L939.9,532.6 L940.2,535.2 L940.5,529.3 L940.8,530.6 L941.0,524.9 L941.3,528.0 L941.5,522.0 L941.7,525.1 L942.0,517.8 L942.2,521.0 L942.4,515.7 L942.6,519.2 L942.9,511.5 L943.1,515.7 L943.3,508.4 L943.5,511.4 L943.8,504.8 L944.0,508.4 L944.2,501.6 L944.5,505.7 L944.7,499.3 L944.9,501.9 L945.2,496.0 L945.4,498.2 L945.6,492.5 L945.8,494.6 L946.0,488.3 L946.2,493.1 L946.4,485.3 L946.6,489.6 L946.9,481.2 L947.1,485.0 L947.3,479.5 L947.5,482.4 L947.8,475.3 L948.0,479.2 L948.3,472.8 L948.6,476.4 L948.9,469.4 L949.2,471.4 L949.5,465.6 L949.8,469.5 L950.1,462.7 L950.4,465.8 L950.7,460.7 L951.1,463.2 L951.4,457.3 L951.7,460.5 L952.0,453.7 L952.4,457.3 L952.7,450.9 L953.0,453.6 L953.4,447.8 L953.7,451.1 L954.1,444.2 L954.4,447.8 L954.8,441.4 L955.2,444.1 L955.5,436.9 L955.9,440.3 L956.2,434.6 L956.5,437.0 L956.7,430.2 L957.0,433.6 L957.3,427.0 L957.5,430.6 L957.8,424.6 L958.1,427.0 L958.3,421.4 L958.6,424.3 L958.8,418.3 L959.1,420.9 L959.3,415.6 L959.6,417.8 L959.8,411.1 L960.0,414.0 L960.3,408.4 L960.5,410.6 L960.7,405.5 L960.9,407.7 L961.1,402.0 L961.2,404.4 L961.4,397.6 L961.6,401.7 L961.8,394.5 L962.0,398.7 L962.2,391.6 L962.4,394.7 L962.6,389.3 L962.8,390.1 L963.0,384.2 L963.2,386.2 L963.4,380.8 L963.5,383.9 L963.7,376.8 L963.9,379.8 L964.1,374.4 L964.3,377.0 L964.5,371.8 L964.7,373.2 L964.9,368.0 L965.1,372.7 L965.3,366.2 L965.5,368.7 L965.7,362.7 L966.0,365.3 L966.2,359.1 L966.5,361.8 L966.7,356.4 L967.0,359.5 L967.3,353.2 L967.6,355.1 L967.8,350.1 L968.1,352.4 L968.4,346.3 L968.7,349.1 L968.9,342.9 L969.1,346.3 L969.3,340.4 L969.5,344.2 L969.6,337.4 L969.8,339.7 L970.0,334.1 L970.2,336.7 L970.5,330.2 L970.8,334.0 L971.1,327.8 L971.6,331.1 L972.2,323.4 L972.8,327.8 L973.5,324.4 L974.1,329.7 L974.8,326.5 L975.4,333.0 L976.0,330.6 L976.5,337.2 L976.9,334.1 L977.4,339.9 L977.9,336.6 L978.3,343.0 L978.7,341.1 L979.1,348.0 L979.5,344.1 L979.8,350.7 L980.2,347.9 L980.5,353.6 L980.9,349.3 L981.3,355.1 L981.6,352.2 L982.0,359.2 L982.4,356.7 L982.8,361.7 L983.2,359.8 L983.6,365.4 L984.0,362.9 L984.3,368.2 L984.7,365.6 L985.1,370.3 L985.5,366.7 L985.9,373.3 L986.3,369.9 L986.7,376.1 L987.1,372.5 L987.5,380.4 L987.8,378.3 L988.2,384.0 L988.6,380.1 L989.0,387.2 L989.4,383.4 L989.7,389.9 L990.1,387.0 L990.5,393.3 L991.0,390.4 L991.4,396.4 L991.9,395.0 L992.3,401.0 L992.7,398.1 L993.1,403.3 L993.5,400.2 L993.9,407.9 L994.4,402.5 L995.0,409.7 L995.6,404.6 L996.3,412.4 L996.9,407.4 L997.6,414.0 L998.3,410.4 L999.0,416.2 L999.7,410.1 L1000.5,415.5 L1001.1,409.2 L1001.8,412.5 L1002.5,407.5 L1003.1,411.8 L1003.8,407.1 L1004.5,411.3 L1005.1,403.5 L1005.8,408.5 L1006.4,402.7 L1007.0,405.5 L1007.5,399.4 L1008.1,401.3 L1008.7,393.9 L1009.2,398.2 L1009.7,391.5 L1010.1,397.0 L1010.6,390.0 L1011.0,394.1 L1011.4,386.8 L1011.8,389.8 L1012.2,384.1 L1012.6,388.0 L1013.1,379.4 L1013.5,384.2 L1014.0,377.1 L1014.3,379.2 L1014.7,371.3 L1015.1,375.8 L1015.5,369.4 L1015.9,371.4 L1016.3,365.1 L1016.6,368.1 L1017.0,361.4 L1017.4,366.5 L1017.8,358.1 L1018.3,363.2 L1018.7,359.0 L1019.2,362.9 L1019.6,355.3 L1020.1,358.4 L1020.5,353.3 L1020.9,352.7 L1021.3,345.7 L1021.6,349.3 L1021.9,342.1 L1022.0,346.8 L1022.2,339.4 L1022.3,343.4 L1022.4,335.2 L1022.5,338.9 L1022.7,333.6 L1022.8,337.3 L1023.0,329.2 L1023.2,333.6 L1023.5,325.8 L1023.8,329.9 L1024.4,322.9 L1025.0,327.5 L1025.6,323.3 L1026.3,326.6 L1026.9,321.0 L1027.5,324.6 L1028.2,316.7 L1028.8,320.8 L1029.5,315.3 L1030.2,321.0 L1030.8,316.6 L1031.6,321.8 L1032.4,316.4 L1033.1,322.5 L1033.9,316.7 L1034.6,323.4 L1035.2,316.9 L1035.8,321.2 L1036.5,316.2 L1037.2,322.1 L1037.9,316.2 L1038.5,319.4 L1039.2,311.8 L1039.8,317.3 L1040.5,309.1 L1041.1,313.3 L1041.8,306.3 L1042.4,311.9 L1043.1,303.6 L1043.8,307.2 L1044.4,300.1 L1045.1,304.5 L1045.8,299.3 L1046.5,304.2 L1047.1,297.5 L1047.7,302.2 L1048.4,299.2 L1049.1,302.8 L1049.8,298.3 L1050.5,303.0 L1051.2,297.4 L1051.9,301.8 L1052.6,296.1 L1053.3,302.5 L1054.0,296.0 L1054.8,301.7 L1055.5,295.1 L1056.3,299.7 L1056.9,294.7 L1057.6,299.5 L1058.2,294.0 L1059.0,300.3 L1059.7,292.7 L1060.3,297.6 L1060.9,291.9 L1061.7,296.1 L1062.3,288.7 L1063.0,292.9 L1063.6,286.8 L1064.3,293.4 L1065.0,286.7 L1065.6,291.5 L1066.4,286.9 L1067.0,290.5 L1067.7,284.3 L1068.3,288.4 L1069.0,281.2 L1069.6,284.4 L1070.3,277.0 L1070.9,281.9 L1071.5,276.1 L1072.1,278.3 L1072.6,271.7 L1073.0,276.6 L1073.4,270.5 L1073.9,272.8 L1074.3,266.8 L1074.7,270.1 L1075.2,263.0 L1075.7,265.8 L1076.1,259.6 L1076.6,262.3 L1077.0,257.1 L1077.5,261.4 L1078.0,255.3 L1078.4,258.2 L1078.9,252.2 L1079.3,255.2 L1079.8,249.1 L1080.3,252.0 L1080.7,246.0 L1081.2,249.2 L1081.6,243.6 L1082.1,245.8 L1082.6,240.5 L1083.0,243.0 L1083.4,236.5 L1083.9,239.3 L1084.3,235.4 L1084.9,237.4 L1085.4,231.2 L1086.0,234.5 L1086.5,226.1 L1087.1,228.9 L1087.6,222.9 L1088.2,225.8 L1088.8,218.7 L1089.5,222.3 L1090.1,216.4 L1090.7,219.7 L1091.4,216.0 L1092.0,219.0 L1092.6,213.7 L1093.3,214.8 L1093.9,209.1 L1094.4,212.3 L1095.0,206.1 L1095.5,210.8 L1096.1,203.7 L1096.8,206.5 L1097.4,201.3 L1098.1,203.1 L1098.8,197.8 L1099.4,200.0 L1100.0,195.3 L1100.7,199.4 L1101.1,197.3 L1101.4,202.5 L1101.6,200.4 L1101.8,205.4 L1102.0,204.6 L1102.2,209.8 L1102.6,207.9 L1103.1,212.8 L1103.7,209.9 L1104.5,212.2 L1105.2,207.8 L1106.0,210.8 L1106.8,207.6 L1107.4,211.1 L1108.0,206.1 L1108.7,208.8 L1109.3,202.6 L1110.0,205.2 L1110.6,200.2 L1111.3,205.3 L1111.8,199.1 L1112.3,201.7 L1112.8,196.1 L1113.3,196.4 L1114.0,190.9 L1114.7,195.3 L1115.5,192.9 L1116.2,198.9 L1117.0,193.9 L1117.7,197.6 L1118.4,194.2 L1119.0,200.6 L1119.6,197.7 L1120.0,205.7 L1120.4,201.9 L1120.8,208.8 L1121.1,205.2 L1121.6,211.5 L1122.1,208.2 L1122.7,214.6 L1123.4,211.3 L1124.1,216.3 L1124.7,212.0 L1125.4,218.2 L1126.0,212.4 L1126.6,217.0 L1126.9,210.8 L1127.2,214.5 L1127.4,207.7 L1127.6,211.3 L1127.7,203.6 L1127.9,206.6 L1128.1,200.1 L1128.3,202.9 L1128.5,197.1 L1128.8,199.9 L1129.1,193.4 L1129.4,196.5 L1130.0,190.6 L1130.6,193.6 L1131.2,189.1 L1131.7,191.0 L1132.2,185.2 L1132.5,188.7 L1132.7,182.0 L1132.9,184.1 L1133.1,177.5 L1133.2,181.9 L1133.4,175.3 L1133.5,175.2 L1133.6,169.5 L1133.8,171.5 L1133.9,164.9 L1134.1,168.0 L1134.2,161.4 L1134.4,165.1 L1134.6,158.5 L1134.8,162.2 L1135.0,156.5 L1135.2,158.7 L1135.4,152.4 L1135.6,157.2 L1135.8,152.3 L1136.0,155.3 L1136.2,147.9 L1136.5,151.5 L1136.7,145.1 L1136.9,147.6 L1137.1,142.5 L1137.4,145.2 L1137.6,138.1 L1137.8,138.6 L1138.1,132.3 L1138.4,135.2 L1139.1,128.9 L1139.6,136.3 L1140.0,132.3 L1140.2,140.0 L1140.4,136.8 L1140.7,144.0 L1140.9,142.1 L1141.1,147.5 L1141.3,145.1 L1141.6,151.3 L1141.8,149.1 L1142.0,154.7 L1142.3,150.4 L1142.5,157.2 L1142.7,154.0 L1142.8,159.2 L1143.0,156.9 L1143.2,162.3 L1143.4,159.2 L1143.6,166.7 L1143.8,162.9 L1144.0,170.0 L1144.3,165.0 L1144.5,175.7 L1144.7,170.4 L1144.9,177.9 L1145.1,174.5 L1145.4,182.1 L1145.6,178.4 L1145.8,183.8 L1146.0,180.7 L1146.2,187.8 L1146.5,183.7 L1146.7,189.5 L1146.9,185.4 L1147.1,192.7 L1147.4,189.4 L1147.6,196.6 L1147.8,193.3 L1148.0,199.3 L1148.2,195.9 L1148.5,201.6 L1148.7,199.2 L1148.9,206.9 L1149.1,204.8 L1149.4,209.6 L1149.6,207.3 L1149.8,213.6 L1150.0,210.9 L1150.2,217.7 L1150.4,215.1 L1150.7,222.0 L1150.9,219.5 L1151.1,225.9 L1151.3,220.6 L1151.4,225.5 L1151.6,222.4 L1151.8,228.9 L1151.9,226.3 L1152.1,232.5 L1152.3,229.7 L1152.4,235.9 L1152.6,231.8 L1152.8,238.9 L1152.9,235.3 L1153.1,243.1 L1153.3,238.7 L1153.4,247.8 L1153.6,243.6 L1153.8,251.1 L1153.9,246.3 L1154.1,253.4 L1154.2,249.4 L1154.4,256.4 L1154.6,254.0 L1154.7,259.8 L1154.9,255.8 L1155.1,262.3 L1155.2,259.2 L1155.4,266.5 L1155.5,261.6 L1155.7,267.8 L1155.9,265.0 L1156.0,270.9 L1156.2,268.1 L1156.3,273.8 L1156.5,271.7 L1156.6,277.7 L1156.8,275.6 L1157.0,282.0 L1157.1,278.6 L1157.3,284.2 L1157.4,280.3 L1157.6,287.1 L1157.7,283.2 L1157.9,289.9 L1158.1,285.7 L1158.2,292.9 L1158.4,289.7 L1158.5,295.9 L1158.7,293.1 L1158.9,300.1 L1159.0,296.1 L1159.2,301.8 L1159.4,300.0 L1159.5,306.2 L1159.7,302.1 L1159.8,309.7 L1160.0,306.7 L1160.1,311.8 L1160.2,308.9 L1160.4,315.9 L1160.5,312.2 L1160.7,318.2 L1160.8,315.6 L1161.0,322.4 L1161.1,318.7 L1161.3,325.3 L1161.5,322.4 L1161.7,328.5 L1161.9,325.9 L1162.1,331.7 L1162.4,330.0 L1162.6,336.3 L1162.9,334.2 L1163.3,340.0 L1163.6,336.5 L1164.1,343.8 L1164.5,340.6 L1164.8,347.5 L1165.2,345.0 L1165.5,350.5 L1165.8,348.0 L1166.1,354.8 L1166.4,352.2 L1166.6,357.2 L1166.8,353.9 L1167.1,359.7 L1167.3,357.8 L1167.5,362.7 L1167.7,360.3 L1167.9,366.0 L1168.1,363.4 L1168.3,369.8 L1168.5,367.2 L1168.7,373.6 L1168.9,369.6 L1169.1,375.6 L1169.3,373.3 L1169.5,379.7 L1169.7,376.1 L1169.9,383.1 L1170.1,380.1 L1170.3,386.9 L1170.5,382.6 L1170.7,389.7 L1170.9,385.0 L1171.1,392.9 L1171.3,389.4 L1171.5,395.7 L1171.7,393.6 L1171.9,400.1 L1172.1,396.4 L1172.3,402.8 L1172.5,398.3 L1172.7,405.6 L1172.9,402.5 L1173.1,408.7 L1173.3,403.1 L1173.5,411.1 L1173.7,407.9 L1173.9,413.2 L1174.1,410.4 L1174.3,418.0 L1174.5,414.6 L1174.7,421.2 L1174.9,416.7 L1175.1,423.4 L1175.3,421.0 L1175.4,427.2 L1175.6,423.9 L1175.8,429.8 L1176.0,426.8 L1176.2,433.3 L1176.4,429.0 L1176.6,436.9 L1176.8,432.7 L1177.0,439.9 L1177.2,435.9 L1177.4,441.9 L1177.6,438.1 L1177.8,445.8 L1178.0,441.9 L1178.2,450.1 L1178.5,445.6 L1178.7,453.6 L1178.9,450.1 L1179.2,456.5 L1179.4,453.7 L1179.7,460.2 L1179.9,456.5 L1180.2,463.7 L1180.4,458.9 L1180.7,466.3 L1180.9,462.4 L1181.2,468.6 L1181.4,465.3 L1181.7,472.2 L1181.9,467.7 L1182.2,473.7 L1182.4,470.8 L1182.7,478.5 L1182.9,473.9 L1183.1,481.1 L1183.2,477.3 L1183.4,485.1 L1183.5,480.9 L1183.7,488.4 L1183.8,485.0 L1184.0,491.8 L1184.1,487.1 L1184.3,494.2 L1184.4,493.6 L1184.6,500.9 L1184.9,497.6 L1185.1,504.3 L1185.4,501.7 L1185.8,508.4 L1186.1,504.1 L1186.5,510.9 L1186.9,506.7 L1187.2,513.6 L1187.6,509.7 L1188.0,517.6 L1188.4,513.8 L1188.8,520.9 L1189.2,517.5 L1189.6,524.5 L1190.0,520.6 L1190.3,526.4 L1190.7,524.7 L1191.0,528.8 L1191.3,525.8 L1191.7,531.3 L1192.1,528.6 L1192.6,534.7 L1193.0,532.3 L1193.5,540.4 L1194.1,536.5 L1194.7,543.5 L1195.4,540.1 L1196.0,544.5 L1196.6,540.3 L1197.3,545.7 L1197.9,543.4 L1198.6,548.9 L1199.2,544.8 L1199.9,548.5 L1200.6,545.9 L1201.3,550.6 L1202.1,546.2 L1202.9,550.4 L1203.6,546.5 L1204.4,550.6 L1205.2,545.7 L1206.0,550.6 L1206.8,547.0 L1207.4,551.0 L1208.1,546.1 L1208.8,551.1 L1209.5,547.4 L1210.2,551.7 L1210.6,546.2 L1210.8,549.1 L1211.0,542.2 L1211.1,545.9 L1211.3,538.1 L1211.6,541.3 L1211.8,535.2 L1212.0,539.4 L1212.3,532.3 L1212.5,535.4 L1212.7,527.9 L1212.9,532.4 L1213.1,525.2 L1213.3,529.8 L1213.5,521.7 L1213.7,524.3 L1213.9,518.5 L1214.1,522.1 L1214.3,516.0 L1214.5,518.0 L1214.7,511.8 L1214.9,515.6 L1215.1,508.4 L1215.4,511.1 L1215.6,506.2 L1215.9,508.5 L1216.2,502.4 L1216.6,504.8 L1216.9,498.0 L1217.2,501.7 L1217.6,494.4 L1217.9,498.6 L1218.2,492.6 L1218.5,495.9 L1218.8,489.7 L1219.1,493.6 L1219.4,485.8 L1219.6,489.2 L1219.8,482.3 L1220.1,486.7 L1220.3,478.5 L1220.5,483.1 L1220.8,476.0 L1221.0,478.7 L1221.2,473.0 L1221.5,476.0 L1221.7,469.6 L1222.0,472.4 L1222.2,465.6 L1222.4,470.0 L1222.7,461.7 L1222.9,466.5 L1223.2,460.0 L1223.4,463.7 L1223.6,456.0 L1223.9,459.3 L1224.1,452.9 L1224.4,455.8 L1224.6,449.9 L1224.8,451.8 L1225.1,445.9 L1225.3,448.6 L1225.6,442.0 L1225.8,445.3 L1226.0,439.1 L1226.2,441.9 L1226.4,436.6 L1226.7,439.6 L1226.9,433.6 L1227.1,437.6 L1227.3,430.8 L1227.5,434.4 L1227.7,427.5 L1227.9,431.5 L1228.2,425.2 L1228.4,427.6 L1228.6,422.0 L1228.8,425.0 L1229.0,418.7 L1229.2,420.1 L1229.4,413.5 L1229.7,416.8 L1229.9,409.9 L1230.1,413.6 L1230.3,406.8 L1230.5,410.0 L1230.7,403.3 L1231.0,407.5 L1231.2,400.1 L1231.4,405.5 L1231.6,399.0 L1231.8,403.2 L1232.0,396.5 L1232.3,400.7 L1232.5,394.4 L1232.7,396.5 L1232.9,390.6 L1233.1,393.6 L1233.3,388.4 L1233.5,390.2 L1233.7,382.1 L1233.9,384.5 L1234.1,379.1 L1234.3,382.3 L1234.6,375.1 L1234.8,378.4 L1235.0,371.4 L1235.2,374.7 L1235.5,369.2 L1235.7,371.7 L1236.0,366.1 L1236.3,369.3 L1236.6,362.1 L1236.9,366.0 L1237.2,360.1 L1237.4,362.8 L1237.7,356.9 L1238.0,358.2 L1238.3,352.7 L1238.6,354.5 L1238.9,348.8 L1239.3,351.5 L1239.6,346.0 L1239.9,348.5 L1240.3,341.7 L1240.6,344.8 L1241.0,338.7 L1241.3,342.2 L1241.6,336.6 L1242.0,340.0 L1242.3,332.9 L1242.7,336.8 L1243.0,330.7 L1243.4,332.4 L1243.9,326.7 L1244.3,330.1 L1244.8,326.0 L1245.3,328.2 L1245.7,322.1 L1246.2,324.8 L1246.7,319.8 L1247.2,321.6 L1247.7,316.9 L1248.2,318.6 L1248.9,313.3 L1249.5,314.0 L1250.1,307.6 L1250.8,310.7 L1251.4,303.7 L1252.1,306.1 L1252.8,300.5 L1253.4,305.2 L1254.1,299.8 L1254.7,305.6 L1255.4,301.4 L1256.0,308.0 L1256.7,305.3 L1257.3,311.8 L1257.8,308.1 L1258.3,315.8 L1258.9,311.7 L1259.3,318.6 L1259.7,315.9 L1260.0,321.2 L1260.4,318.8 L1260.7,326.2 L1261.1,321.7 L1261.5,328.3 L1262.0,325.6 L1262.5,331.9 L1263.0,328.3 L1263.5,334.8 L1264.1,331.5 L1264.6,337.8 L1265.1,331.3 L1265.6,339.6 L1266.1,335.7 L1266.6,341.4 L1267.0,339.7 L1267.4,346.1 L1267.8,342.4 L1268.3,350.1 L1268.8,345.7 L1269.2,352.8 L1269.7,349.7 L1270.1,356.8 L1270.5,354.1 L1271.0,360.2 L1271.7,356.0 L1272.3,359.7 L1272.9,354.0 L1273.6,357.8 L1274.3,353.1 L1274.9,355.8 L1275.6,350.0 L1276.3,353.2 L1277.0,347.9 L1277.6,350.4 L1278.2,344.9 L1278.8,348.1 L1279.4,342.5 L1279.8,346.1 L1280.2,338.6 L1280.5,341.0 L1280.8,335.3 L1281.1,337.8 L1281.5,332.1 L1281.8,333.9 L1282.2,328.2 L1282.4,330.9 L1282.7,322.6 L1283.0,326.2 L1283.3,318.9 L1283.5,323.3 L1283.8,317.2 L1284.1,319.0 L1284.4,312.8 L1284.6,316.3 L1284.9,311.6 L1285.2,314.7 L1285.4,308.4 L1285.7,311.9 L1286.0,306.6 L1286.2,309.6 L1286.5,303.2 L1286.7,305.0 L1287.0,299.3 L1287.3,301.3 L1287.5,296.6 L1287.8,298.8 L1288.0,293.6 L1288.2,295.8 L1288.5,289.7 L1288.7,293.4 L1288.9,286.9 L1289.2,289.6 L1289.4,282.2 L1289.6,286.0 L1289.9,279.1 L1290.1,282.5 L1290.4,275.2 L1290.7,278.6 L1291.0,271.0 L1291.3,274.4 L1291.6,267.6 L1291.9,270.4 L1292.2,263.7 L1292.5,266.8 L1292.8,260.8 L1293.1,263.9 L1293.5,257.6 L1293.8,261.5 L1294.1,256.6 L1294.3,260.1 L1294.7,253.9 L1295.0,257.3 L1295.3,250.9 L1295.6,254.4 L1295.8,248.6 L1296.1,249.8 L1296.4,244.9 L1296.6,247.2 L1296.9,241.3 L1297.1,243.2 L1297.4,237.8 L1297.7,240.9 L1297.9,235.2 L1298.2,237.0 L1298.4,232.3 L1298.7,234.9 L1298.9,228.2 L1299.2,230.9 L1299.4,225.0 L1299.7,228.1 L1299.9,221.9 L1300.2,224.7 L1300.4,216.4 L1300.7,219.6 L1301.0,212.8 L1301.3,216.5 L1301.7,208.7 L1302.0,212.7 L1302.4,206.2 L1302.8,210.5 L1303.2,203.3 L1303.6,207.1 L1304.0,199.4 L1304.4,204.1 L1304.8,196.2 L1305.2,199.4 L1305.7,192.0 L1306.2,196.1 L1306.6,189.6 L1307.1,193.4 L1307.6,186.0 L1308.1,189.9 L1308.7,183.5 L1309.2,186.3 L1309.9,181.2 L1310.4,184.1 L1311.0,177.9 L1311.5,181.1 L1312.1,173.4 L1312.7,177.5 L1313.3,170.5 L1313.8,175.4 L1314.4,169.7 L1315.0,172.0 L1315.5,166.3 L1316.1,169.6 L1316.8,164.5 L1317.4,167.9 L1318.1,161.3 L1318.7,163.8 L1319.3,156.6 L1320.0,161.3 L1320.6,153.9 L1321.2,157.5 L1321.9,152.1 L1322.5,157.5 L1323.2,153.0 L1323.9,157.5 L1324.6,151.4 L1325.3,155.5 L1326.0,149.7 L1326.7,155.7 L1327.4,151.3 L1328.1,155.5 L1328.8,150.6 L1329.5,154.1 L1330.2,145.9 L1330.8,152.1 L1331.4,145.0 L1332.0,150.8 L1332.7,144.5 L1333.3,150.1 L1333.9,144.0 L1334.5,148.9 L1335.1,143.3 L1335.7,146.6 L1336.5,143.0 L1337.2,146.9 L1337.9,141.3 L1338.6,145.6 L1339.3,140.5 L1340.0,144.7 L1340.7,139.8 L1341.3,143.4 L1342.0,136.3 L1342.8,141.1 L1343.5,134.3 L1344.1,137.8 L1344.7,132.2 L1345.4,137.7 L1346.1,134.5 L1346.8,139.9 L1347.5,134.4 L1348.3,137.3 L1349.0,131.9 L1349.8,135.2 L1350.5,131.8 L1351.2,136.2 L1351.9,130.7 L1352.6,137.1 L1353.3,130.1 L1353.9,135.8 L1354.6,130.1 L1355.2,133.2 L1355.9,127.4 L1356.5,133.0 L1357.2,126.3 L1357.9,130.4 L1358.5,125.0 L1359.3,129.8 L1360.0,123.5 L1360.8,128.9 L1361.4,123.8 L1362.1,129.6 L1362.7,123.7 L1363.3,128.4 L1363.9,125.6 L1364.7,130.3 L1365.4,124.0 L1366.0,130.3 L1366.7,123.0 L1367.4,126.6 L1368.0,121.0 L1368.6,125.9 L1369.2,119.4 L1369.9,124.4 L1370.4,121.7 L1370.7,125.9 L1370.9,122.6 L1371.2,129.8 L1371.4,126.9 L1371.6,134.2 L1371.9,130.0 L1372.1,136.3 L1372.3,133.5 L1372.4,139.6 L1372.6,136.9 L1372.8,143.1 L1373.0,142.3 L1373.3,148.6 L1373.6,146.1 L1374.0,152.1 L1374.4,149.1 L1374.8,154.7 L1375.4,152.1 L1376.0,157.5 L1376.6,153.2 L1377.3,156.5 L1377.9,148.5 L1378.6,151.9 L1379.2,145.7 L1379.8,150.4 L1380.4,144.0 L1381.1,148.6 L1381.8,143.9 L1382.5,146.7 L1383.1,141.0 L1383.7,146.4 L1384.4,142.5 L1385.0,146.1 L1385.8,140.5 L1386.6,145.9 L1387.4,140.7 L1388.1,146.1 L1388.8,139.4 L1389.5,143.4 L1390.1,139.1 L1390.8,146.6 L1391.2,141.2 L1391.7,148.7 L1392.3,144.3 L1393.0,149.9 L1393.7,145.7 L1394.4,149.5 L1395.0,144.1 L1395.7,150.6 L1396.3,145.2 L1397.0,147.9 L1397.6,142.6 L1398.3,144.7 L1398.9,138.3 L1399.5,140.4 L1400.0,133.7 L1400.6,137.5 L1401.1,132.1 L1401.6,134.8 L1402.2,130.4 L1402.9,132.7 L1403.5,127.5 L1404.1,130.6 L1404.8,125.6 L1405.5,127.8 L1406.1,123.4 L1406.8,127.5 L1407.4,123.0 L1408.1,126.1 L1408.9,121.1 L1409.7,125.4 L1410.3,120.8 L1411.0,124.7 L1411.6,120.9 L1412.2,126.7 L1412.7,123.9 L1413.1,131.0 L1413.6,126.5 L1414.1,132.1 L1414.6,129.3 L1415.1,135.9 L1415.6,132.4 L1416.0,140.0 L1416.5,136.9 L1416.9,143.4 L1417.4,139.6 L1417.9,144.5 L1418.4,140.0 L1418.8,147.1 L1419.3,144.0 L1419.8,150.4 L1420.3,148.9 L1420.9,156.0 L1421.5,152.7 L1422.1,158.7 L1422.7,153.3 L1423.3,160.0 L1423.9,156.4 L1424.5,163.2 L1425.1,162.1 L1425.8,168.6 L1426.4,164.5 L1427.0,171.4 L1427.6,167.8 L1428.1,174.1 L1428.6,171.4 L1429.1,178.2 L1429.6,175.0 L1430.1,182.4 L1430.5,178.5 L1431.0,184.5 L1431.5,181.6 L1431.9,188.5 L1432.3,184.9 L1432.7,190.9 L1433.1,188.1 L1433.4,195.0 L1433.7,190.1 L1434.0,196.7 L1434.3,193.1 L1434.6,198.3 L1435.0,195.3 L1435.3,201.2 L1435.6,199.3 L1435.9,205.9 L1436.2,203.0 L1436.6,209.0 L1436.9,205.6 L1437.2,211.2 L1437.5,209.2 L1437.8,215.6 L1438.0,213.0 L1438.3,219.4 L1438.6,216.8 L1439.0,223.2 L1439.3,219.9 L1439.5,225.7 L1439.8,224.5 L1440.1,230.6 L1440.4,226.7 L1440.6,232.2 L1440.8,229.1 L1441.1,236.5 L1441.3,232.4 L1441.5,238.8 L1441.8,236.4 L1442.0,242.1 L1442.2,239.4 L1442.5,247.4 L1442.7,245.0 L1442.9,250.0 L1443.2,246.6 L1443.4,254.2 L1443.6,249.5 L1443.9,257.2 L1444.1,253.2 L1444.4,259.7 L1444.6,256.3 L1444.8,260.0 L1445.1,257.3 L1445.3,263.4 L1445.5,259.9 L1445.8,266.0 L1446.0,263.5 L1446.3,269.5 L1446.5,267.0 L1446.7,273.0 L1447.0,271.5 L1447.2,278.1 L1447.4,275.9 L1447.7,281.4 L1447.9,278.9 L1448.1,285.0 L1448.4,282.1 L1448.6,287.9 L1448.8,284.3 L1449.1,289.9 L1449.3,286.1 L1449.6,291.8 L1449.8,289.2 L1450.1,295.9 L1450.4,293.5 L1450.6,300.0 L1450.9,295.2 L1451.1,303.0 L1451.4,300.8 L1451.7,308.0 L1451.9,304.6 L1452.2,309.9 L1452.4,306.6 L1452.7,312.9 L1453.0,309.7 L1453.3,316.9 L1453.6,312.3 L1453.9,319.0 L1454.3,315.9 L1454.6,322.3 L1455.0,319.6 L1455.4,326.0 L1455.7,323.6 L1456.1,330.7 L1456.5,327.8 L1456.9,334.0 L1457.2,329.8 L1457.5,338.2 L1457.8,334.4 L1458.0,340.1 L1458.2,337.5 L1458.3,344.6 L1458.4,340.9 L1458.5,347.6 L1458.5,343.3 L1458.6,349.6 L1458.6,346.3 L1458.6,349.7" stroke="#ff9800" stroke-width="4.6" fill="none" stroke-linejoin="round" stroke-linecap="butt"/>
<path d="M101.5,429.5 L101.6,428.5 L101.8,427.5 L101.9,426.5 L102.1,425.5 L102.2,424.5 L102.3,423.6 L102.5,422.6 L102.6,421.6 L102.8,420.6 L102.9,419.6 L103.1,418.6 L103.2,417.6 L103.3,416.6 L103.5,415.6 L103.6,414.6 L103.8,413.7 L103.9,412.7 L104.1,411.7 L104.2,410.7 L104.4,409.7 L104.5,408.7 L104.6,407.7 L104.8,406.7 L104.9,405.7 L105.1,404.8 L105.2,403.8 L105.4,402.8 L105.5,401.8 L105.7,400.8 L105.9,399.8 L106.0,398.8 L106.2,397.8 L106.3,396.8 L106.5,395.9 L106.7,394.9 L106.8,393.9 L107.0,392.9 L107.1,391.9 L107.3,390.9 L107.4,389.9 L107.6,388.9 L107.7,388.0 L107.9,387.0 L108.0,386.0 L108.2,385.0 L108.3,384.0 L108.5,383.0 L108.6,382.0 L108.7,381.0 L108.8,380.0 L108.9,379.0 L109.1,378.0 L109.2,377.1 L109.3,376.1 L109.4,375.1 L109.5,374.1 L109.6,373.1 L109.7,372.1 L109.8,371.1 L109.9,370.1 L110.0,369.1 L110.1,368.1 L110.2,367.1 L110.3,366.1 L110.4,365.1 L110.5,364.1 L110.6,363.1 L110.7,362.1 L110.7,361.1 L110.8,360.1 L110.9,359.1 L111.0,358.1 L111.1,357.1 L111.2,356.1 L111.3,355.1 L111.4,354.2 L111.5,353.2 L111.6,352.2 L111.7,351.2 L111.8,350.2 L111.9,349.2 L111.9,348.2 L112.0,347.2 L112.1,346.2 L112.2,345.2 L112.3,344.2 L112.4,343.2 L112.5,342.2 L112.6,341.2 L112.7,340.2 L112.7,339.2 L112.8,338.2 L112.9,337.2 L113.0,336.2 L113.1,335.2 L113.2,334.2 L113.3,333.2 L113.4,332.2 L113.5,331.2 L113.6,330.2 L113.7,329.3 L113.8,328.3 L113.9,327.3 L114.0,326.3 L114.1,325.3 L114.2,324.3 L114.3,323.3 L114.4,322.3 L114.4,321.3 L114.5,320.3 L114.6,319.3 L114.7,318.3 L114.8,317.3 L115.0,316.3 L115.1,315.3 L115.2,314.3 L115.3,313.3 L115.4,312.3 L115.5,311.3 L115.6,310.3 L115.8,309.4 L115.9,308.4 L116.0,307.4 L116.2,306.4 L116.3,305.4 L116.5,304.4 L116.6,303.4 L116.8,302.4 L116.9,301.4 L117.1,300.4 L117.3,299.4 L117.4,298.4 L117.6,297.4 L117.8,296.4 L118.0,295.4 L118.2,294.5 L118.4,293.5 L118.7,292.5 L118.9,291.6 L119.2,290.6 L119.4,289.7 L119.7,288.7 L120.0,287.6 L120.4,286.5 L120.7,285.3 L121.1,284.1 L121.6,283.0 L122.0,281.9 L122.5,281.1 L123.1,280.4 L123.7,279.9 L124.3,279.8 L125.1,279.9 L126.2,280.2 L127.2,280.6 L128.0,281.0 L128.6,281.6 L129.0,282.3 L129.5,283.2 L129.9,284.1 L130.2,285.2 L130.6,286.3 L130.9,287.3 L131.2,288.4 L131.5,289.4 L131.9,290.3 L132.2,291.3 L132.5,292.2 L132.8,293.2 L133.0,294.1 L133.3,295.1 L133.6,296.1 L133.9,297.0 L134.1,298.0 L134.4,299.0 L134.7,299.9 L135.0,300.9 L135.3,301.8 L135.6,302.8 L135.9,303.7 L136.3,304.7 L136.6,305.6 L136.9,306.5 L137.3,307.5 L137.7,308.4 L138.0,309.4 L138.4,310.3 L138.8,311.2 L139.2,312.1 L139.6,313.1 L140.0,314.1 L140.4,315.2 L140.9,316.1 L141.4,317.0 L142.0,317.7 L142.6,318.2 L143.4,318.7 L144.4,319.0 L145.4,319.3 L146.4,319.4 L147.4,319.2 L148.4,318.9 L149.4,318.5 L150.3,317.9 L151.0,317.4 L151.7,316.9 L152.4,316.2 L152.9,315.4 L153.5,314.5 L154.0,313.6 L154.5,312.7 L155.0,311.7 L155.5,310.8 L156.0,309.9 L156.5,309.1 L157.0,308.2 L157.4,307.3 L157.9,306.4 L158.3,305.5 L158.8,304.6 L159.2,303.7 L159.7,302.8 L160.1,301.9 L160.5,301.0 L160.9,300.1 L161.3,299.2 L161.8,298.3 L162.2,297.4 L162.6,296.4 L163.0,295.5 L163.4,294.6 L163.8,293.7 L164.1,292.7 L164.4,291.8 L164.7,290.9 L165.0,289.9 L165.3,288.9 L165.5,288.0 L165.8,287.0 L166.0,286.0 L166.3,285.1 L166.5,284.1 L166.7,283.1 L166.9,282.1 L167.1,281.1 L167.4,280.2 L167.6,279.2 L167.8,278.2 L168.1,277.2 L168.3,276.3 L168.6,275.3 L168.8,274.3 L169.1,273.4 L169.3,272.4 L169.5,271.4 L169.8,270.5 L170.0,269.5 L170.3,268.5 L170.5,267.6 L170.8,266.6 L171.0,265.6 L171.3,264.6 L171.5,263.7 L171.8,262.7 L172.0,261.7 L172.2,260.8 L172.5,259.8 L172.7,258.8 L172.9,257.8 L173.1,256.9 L173.4,255.9 L173.6,254.9 L173.8,253.9 L174.0,253.0 L174.2,252.0 L174.4,251.0 L174.7,250.0 L174.9,249.0 L175.1,248.1 L175.3,247.1 L175.5,246.1 L175.7,245.1 L175.9,244.2 L176.1,243.2 L176.3,242.2 L176.5,241.2 L176.7,240.2 L176.9,239.2 L177.1,238.3 L177.2,237.3 L177.4,236.3 L177.6,235.3 L177.8,234.3 L178.0,233.3 L178.1,232.4 L178.3,231.4 L178.5,230.4 L178.7,229.4 L178.8,228.4 L179.0,227.4 L179.2,226.4 L179.4,225.5 L179.6,224.5 L179.8,223.5 L180.0,222.5 L180.2,221.5 L180.4,220.6 L180.6,219.6 L180.8,218.6 L181.0,217.6 L181.3,216.7 L181.5,215.7 L181.7,214.7 L182.0,213.8 L182.2,212.8 L182.5,211.8 L182.7,210.8 L183.0,209.9 L183.3,208.9 L183.5,208.0 L183.8,207.0 L184.1,206.0 L184.4,205.1 L184.6,204.1 L184.9,203.1 L185.2,202.2 L185.5,201.2 L185.9,200.3 L186.2,199.3 L186.5,198.4 L186.9,197.5 L187.2,196.5 L187.6,195.6 L188.0,194.7 L188.5,193.8 L189.0,193.0 L189.5,192.1 L190.0,191.2 L190.5,190.4 L191.0,189.5 L191.6,188.7 L192.1,187.8 L192.6,186.9 L193.1,186.0 L193.5,185.1 L193.9,184.2 L194.3,183.3 L194.6,182.4 L195.0,181.4 L195.3,180.5 L195.7,179.5 L196.0,178.6 L196.4,177.7 L196.8,176.8 L197.2,175.8 L197.6,175.0 L198.1,174.1 L198.6,173.2 L199.0,172.3 L199.5,171.5 L200.1,170.6 L200.6,169.8 L201.1,168.9 L201.7,168.1 L202.2,167.2 L202.8,166.4 L203.3,165.5 L203.8,164.7 L204.4,163.8 L204.9,163.0 L205.5,162.2 L206.1,161.3 L206.6,160.5 L207.2,159.7 L207.8,158.9 L208.3,158.0 L208.9,157.2 L209.4,156.3 L209.9,155.5 L210.3,154.6 L210.8,153.7 L211.2,152.8 L211.6,151.9 L212.1,151.0 L212.5,150.1 L212.9,149.2 L213.4,148.3 L213.8,147.4 L214.3,146.5 L214.8,145.6 L215.3,144.8 L215.8,143.9 L216.4,143.1 L216.9,142.2 L217.4,141.3 L217.9,140.5 L218.4,139.6 L218.8,138.7 L219.2,137.8 L219.6,136.9 L219.9,136.0 L220.3,135.0 L220.6,134.1 L220.9,133.1 L221.2,132.2 L221.5,131.2 L221.8,130.2 L222.1,129.3 L222.4,128.3 L222.7,127.4 L223.0,126.4 L223.2,125.4 L223.5,124.5 L223.7,123.5 L224.0,122.5 L224.2,121.6 L224.5,120.6 L224.7,119.6 L225.0,118.6 L225.2,117.7 L225.4,116.7 L225.6,115.7 L225.9,114.8 L226.1,113.8 L226.3,112.8 L226.6,111.8 L226.8,110.9 L227.0,109.9 L227.2,108.9 L227.4,107.9 L227.6,106.9 L227.8,106.0 L228.1,105.0 L228.3,104.0 L228.5,103.0 L228.7,102.1 L228.9,101.1 L229.1,100.1 L229.3,99.1 L229.5,98.1 L229.7,97.2 L229.9,96.2 L230.1,95.2 L230.3,94.2 L230.5,93.2 L230.7,92.3 L230.9,91.3 L231.0,90.3 L231.2,89.3 L231.4,88.3 L231.6,87.3 L231.8,86.4 L232.0,85.4 L232.2,84.4 L232.5,83.4 L232.7,82.5 L232.9,81.5 L233.1,80.5 L233.4,79.5 L233.6,78.6 L233.9,77.6 L234.2,76.6 L234.4,75.7 L234.7,74.7 L235.0,73.7 L235.3,72.8 L235.5,71.8 L235.8,70.9 L236.1,69.9 L236.4,68.9 L236.7,67.9 L237.0,66.8 L237.3,65.8 L237.6,64.7 L237.9,63.7 L238.3,62.8 L238.7,61.9 L239.1,61.1 L239.6,60.5 L240.3,59.9 L241.2,59.5 L242.2,59.1 L243.2,58.7 L244.1,58.5 L245.2,58.2 L246.2,58.0 L247.1,57.9 L247.9,58.2 L248.7,58.8 L249.4,59.7 L250.1,60.5 L250.8,61.3 L251.5,62.0 L252.2,62.7 L252.8,63.5 L253.5,64.3 L254.1,65.1 L254.7,65.9 L255.3,66.7 L255.9,67.5 L256.4,68.4 L256.9,69.2 L257.4,70.1 L257.9,70.9 L258.4,71.8 L258.9,72.7 L259.3,73.6 L259.8,74.5 L260.2,75.4 L260.6,76.3 L261.0,77.2 L261.4,78.2 L261.8,79.1 L262.2,80.0 L262.6,80.9 L262.9,81.9 L263.3,82.8 L263.6,83.7 L264.0,84.7 L264.3,85.6 L264.7,86.6 L265.0,87.5 L265.3,88.4 L265.6,89.4 L265.9,90.4 L266.1,91.4 L266.4,92.3 L266.6,93.3 L266.8,94.3 L267.1,95.3 L267.4,96.2 L267.7,97.2 L268.0,98.1 L268.3,99.0 L268.7,100.0 L269.2,101.2 L269.8,102.0 L270.3,102.1 L271.0,101.5 L271.6,100.4 L272.0,99.4 L272.3,98.5 L272.5,97.6 L272.7,96.6 L272.9,95.7 L273.1,94.7 L273.2,93.7 L273.4,92.7 L273.5,91.7 L273.6,90.7 L273.8,89.6 L273.9,88.6 L274.0,87.6 L274.1,86.6 L274.2,85.6 L274.3,84.6 L274.5,83.6 L274.6,82.6 L274.7,81.6 L274.9,80.6 L275.0,79.6 L275.2,78.6 L275.3,77.6 L275.4,76.6 L275.5,75.6 L275.7,74.6 L275.8,73.7 L275.9,72.7 L276.1,71.7 L276.2,70.7 L276.3,69.7 L276.4,68.7 L276.6,67.7 L276.7,66.7 L276.8,65.7 L277.0,64.7 L277.1,63.7 L277.2,62.7 L277.4,61.8 L277.5,60.8 L277.6,59.8 L277.8,58.8 L277.9,57.8 L278.0,56.8 L278.1,55.8 L278.2,54.8 L278.4,53.7 L278.5,52.7 L278.6,51.7 L278.7,50.7 L278.9,49.7 L279.0,48.8 L279.2,47.8 L279.3,46.8 L279.5,45.8 L279.7,44.8 L279.9,43.9 L280.1,42.9 L280.4,42.0 L280.7,40.9 L281.0,39.7 L281.5,38.5 L281.9,37.6 L282.4,36.9 L282.9,36.8 L283.4,37.3 L284.0,38.2 L284.6,39.4 L285.0,40.5 L285.3,41.4 L285.6,42.3 L285.8,43.3 L286.0,44.2 L286.2,45.2 L286.4,46.1 L286.5,47.1 L286.7,48.1 L286.8,49.1 L287.0,50.1 L287.1,51.1 L287.2,52.1 L287.4,53.1 L287.5,54.2 L287.6,55.2 L287.7,56.2 L287.8,57.2 L287.9,58.2 L288.0,59.2 L288.2,60.2 L288.3,61.2 L288.4,62.2 L288.5,63.2 L288.7,64.2 L288.8,65.2 L288.9,66.2 L289.0,67.2 L289.2,68.2 L289.3,69.2 L289.4,70.2 L289.5,71.1 L289.6,72.1 L289.7,73.1 L289.8,74.1 L290.0,75.1 L290.1,76.1 L290.2,77.1 L290.3,78.1 L290.4,79.1 L290.5,80.1 L290.6,81.1 L290.7,82.1 L290.8,83.1 L290.9,84.1 L291.1,85.1 L291.2,86.1 L291.3,87.1 L291.4,88.0 L291.5,89.0 L291.6,90.0 L291.7,91.0 L291.8,92.0 L292.0,93.0 L292.1,94.0 L292.2,95.0 L292.3,96.0 L292.4,97.0 L292.6,98.0 L292.7,99.0 L292.8,100.0 L292.9,101.0 L293.0,102.0 L293.1,102.9 L293.3,103.9 L293.4,104.9 L293.5,105.9 L293.6,106.9 L293.7,107.9 L293.9,108.9 L294.0,109.9 L294.1,110.9 L294.2,111.9 L294.4,112.9 L294.5,113.9 L294.6,114.9 L294.7,115.9 L294.8,116.8 L295.0,117.8 L295.1,118.8 L295.2,119.8 L295.3,120.8 L295.5,121.8 L295.6,122.8 L295.7,123.8 L295.9,124.8 L296.0,125.8 L296.1,126.8 L296.3,127.8 L296.4,128.8 L296.5,129.7 L296.7,130.7 L296.8,131.7 L296.9,132.7 L297.1,133.7 L297.2,134.7 L297.4,135.7 L297.5,136.7 L297.6,137.7 L297.8,138.7 L297.9,139.6 L298.1,140.6 L298.2,141.6 L298.4,142.6 L298.5,143.6 L298.7,144.6 L298.8,145.6 L299.0,146.6 L299.1,147.6 L299.3,148.5 L299.4,149.5 L299.6,150.5 L299.7,151.5 L299.9,152.5 L300.1,153.5 L300.2,154.5 L300.4,155.5 L300.5,156.4 L300.7,157.4 L300.9,158.4 L301.0,159.4 L301.2,160.4 L301.3,161.4 L301.5,162.4 L301.7,163.4 L301.8,164.3 L302.0,165.3 L302.1,166.3 L302.3,167.3 L302.5,168.3 L302.6,169.3 L302.8,170.3 L303.0,171.2 L303.2,172.2 L303.3,173.2 L303.5,174.2 L303.7,175.2 L303.8,176.2 L304.0,177.2 L304.2,178.1 L304.4,179.1 L304.5,180.1 L304.7,181.1 L304.9,182.1 L305.0,183.1 L305.2,184.1 L305.3,185.1 L305.5,186.0 L305.7,187.0 L305.8,188.0 L306.0,189.0 L306.1,190.0 L306.3,191.0 L306.4,192.0 L306.6,193.0 L306.7,193.9 L306.9,194.9 L307.0,195.9 L307.2,196.9 L307.3,197.9 L307.5,198.9 L307.6,199.9 L307.7,200.9 L307.9,201.9 L308.0,202.9 L308.2,203.8 L308.3,204.8 L308.5,205.8 L308.6,206.8 L308.8,207.8 L308.9,208.8 L309.1,209.8 L309.2,210.8 L309.4,211.8 L309.5,212.7 L309.7,213.7 L309.8,214.7 L310.0,215.7 L310.1,216.7 L310.3,217.7 L310.4,218.7 L310.6,219.7 L310.7,220.7 L310.9,221.6 L311.1,222.6 L311.2,223.6 L311.4,224.6 L311.5,225.6 L311.7,226.6 L311.8,227.6 L311.9,228.6 L312.1,229.6 L312.2,230.5 L312.4,231.5 L312.5,232.5 L312.6,233.5 L312.8,234.5 L312.9,235.5 L313.0,236.5 L313.1,237.5 L313.3,238.5 L313.4,239.5 L313.5,240.5 L313.6,241.5 L313.7,242.4 L313.9,243.4 L314.0,244.4 L314.1,245.4 L314.2,246.4 L314.3,247.4 L314.4,248.4 L314.5,249.4 L314.7,250.4 L314.8,251.4 L314.9,252.4 L315.0,253.4 L315.1,254.4 L315.2,255.4 L315.3,256.4 L315.4,257.4 L315.5,258.4 L315.6,259.3 L315.7,260.3 L315.9,261.3 L316.0,262.3 L316.1,263.3 L316.2,264.3 L316.3,265.3 L316.4,266.3 L316.5,267.3 L316.6,268.3 L316.7,269.3 L316.8,270.3 L316.9,271.3 L317.1,272.3 L317.2,273.3 L317.3,274.3 L317.4,275.3 L317.5,276.3 L317.6,277.2 L317.7,278.2 L317.8,279.2 L317.9,280.2 L318.0,281.2 L318.1,282.2 L318.2,283.2 L318.3,284.2 L318.4,285.2 L318.5,286.2 L318.6,287.2 L318.7,288.2 L318.9,289.2 L319.0,290.2 L319.1,291.2 L319.2,292.2 L319.3,293.2 L319.4,294.2 L319.5,295.2 L319.6,296.1 L319.7,297.1 L319.8,298.1 L319.9,299.1 L320.0,300.1 L320.1,301.1 L320.3,302.1 L320.4,303.1 L320.5,304.1 L320.6,305.1 L320.7,306.1 L320.8,307.1 L320.9,308.1 L321.1,309.1 L321.2,310.1 L321.3,311.1 L321.4,312.0 L321.5,313.0 L321.6,314.0 L321.7,315.0 L321.8,316.0 L322.0,317.0 L322.1,318.0 L322.2,319.0 L322.3,320.0 L322.3,321.0 L322.4,322.0 L322.5,323.0 L322.6,324.0 L322.7,325.0 L322.8,326.0 L322.9,327.0 L322.9,328.0 L323.0,329.0 L323.1,330.0 L323.2,331.0 L323.2,332.0 L323.3,333.0 L323.4,334.0 L323.5,335.0 L323.5,336.0 L323.6,337.0 L323.7,337.9 L323.8,338.9 L323.8,339.9 L323.9,340.9 L324.0,341.9 L324.1,342.9 L324.2,343.9 L324.3,344.9 L324.4,345.9 L324.5,346.9 L324.6,347.9 L324.7,348.9 L324.8,349.9 L324.9,350.9 L325.0,351.9 L325.1,352.9 L325.2,353.9 L325.3,354.9 L325.4,355.9 L325.5,356.9 L325.6,357.9 L325.7,358.9 L325.8,359.9 L325.9,360.8 L326.0,361.8 L326.1,362.8 L326.2,363.8 L326.3,364.8 L326.4,365.8 L326.6,366.8 L326.7,367.8 L326.8,368.8 L326.9,369.8 L327.0,370.8 L327.2,371.8 L327.3,372.8 L327.4,373.8 L327.5,374.8 L327.7,375.7 L327.8,376.7 L327.9,377.7 L328.1,378.7 L328.2,379.7 L328.3,380.7 L328.5,381.7 L328.6,382.7 L328.8,383.7 L328.9,384.7 L329.1,385.6 L329.2,386.6 L329.4,387.6 L329.5,388.6 L329.7,389.6 L329.9,390.6 L330.0,391.6 L330.2,392.6 L330.3,393.6 L330.5,394.5 L330.7,395.5 L330.9,396.5 L331.0,397.5 L331.2,398.5 L331.4,399.5 L331.6,400.4 L331.7,401.4 L331.9,402.4 L332.1,403.4 L332.3,404.4 L332.5,405.4 L332.7,406.3 L332.9,407.3 L333.1,408.3 L333.3,409.3 L333.4,410.3 L333.6,411.3 L333.9,412.2 L334.1,413.2 L334.3,414.2 L334.5,415.2 L334.7,416.1 L334.9,417.1 L335.2,418.1 L335.4,419.1 L335.7,420.0 L335.9,421.0 L336.2,422.0 L336.5,422.9 L336.7,423.9 L337.0,424.9 L337.3,425.9 L337.6,426.8 L338.0,427.8 L338.3,428.7 L338.7,429.6 L339.1,430.5 L339.5,431.4 L340.0,432.2 L340.6,433.0 L341.2,433.8 L341.9,434.5 L342.6,435.3 L343.3,436.0 L343.9,436.8 L344.5,437.6 L345.1,438.5 L345.6,439.3 L346.2,440.1 L346.7,441.0 L347.2,441.8 L347.8,442.7 L348.4,443.5 L348.9,444.3 L349.6,445.1 L350.3,446.1 L351.1,447.0 L351.9,448.0 L352.6,448.9 L353.4,449.7 L354.0,450.2 L354.5,450.5 L354.8,450.5 L355.1,450.3 L355.4,449.8 L355.7,449.0 L355.9,448.1 L356.1,447.1 L356.3,446.0 L356.5,444.7 L356.6,443.4 L356.8,442.1 L357.0,440.9 L357.2,439.6 L357.4,438.4 L357.6,437.4 L357.8,436.4 L358.0,435.4 L358.2,434.4 L358.4,433.5 L358.6,432.5 L358.8,431.5 L359.1,430.5 L359.3,429.6 L359.5,428.6 L359.7,427.6 L359.9,426.6 L360.1,425.6 L360.3,424.7 L360.5,423.7 L360.7,422.7 L360.9,421.7 L361.1,420.7 L361.3,419.8 L361.5,418.8 L361.7,417.8 L361.9,416.8 L362.1,415.8 L362.3,414.9 L362.5,413.9 L362.7,412.9 L362.8,411.9 L363.0,410.9 L363.2,409.9 L363.4,409.0 L363.6,408.0 L363.8,407.0 L363.9,406.0 L364.1,405.0 L364.3,404.0 L364.5,403.1 L364.7,402.1 L364.8,401.1 L365.0,400.1 L365.2,399.1 L365.3,398.1 L365.5,397.1 L365.7,396.2 L365.8,395.2 L366.0,394.2 L366.1,393.2 L366.3,392.2 L366.5,391.2 L366.6,390.2 L366.8,389.2 L366.9,388.3 L367.1,387.3 L367.2,386.3 L367.4,385.3 L367.6,384.3 L367.7,383.3 L367.9,382.3 L368.1,381.3 L368.3,380.4 L368.4,379.4 L368.6,378.4 L368.8,377.4 L369.0,376.4 L369.2,375.5 L369.4,374.5 L369.6,373.5 L369.8,372.5 L370.0,371.5 L370.3,370.6 L370.5,369.6 L370.7,368.6 L370.9,367.6 L371.1,366.7 L371.3,365.7 L371.6,364.7 L371.8,363.7 L372.0,362.8 L372.2,361.8 L372.4,360.8 L372.6,359.8 L372.9,358.8 L373.1,357.9 L373.3,356.9 L373.6,355.9 L373.8,354.9 L374.0,354.0 L374.2,353.0 L374.5,352.0 L374.7,351.0 L374.9,350.1 L375.1,349.1 L375.3,348.1 L375.5,347.1 L375.6,346.1 L375.8,345.2 L375.9,344.2 L376.0,343.2 L376.2,342.2 L376.3,341.2 L376.4,340.2 L376.5,339.2 L376.6,338.2 L376.7,337.2 L376.8,336.2 L376.9,335.2 L377.0,334.2 L377.1,333.2 L377.2,332.2 L377.3,331.2 L377.4,330.2 L377.5,329.3 L377.6,328.3 L377.7,327.3 L377.8,326.3 L377.9,325.3 L377.9,324.3 L378.0,323.3 L378.1,322.3 L378.2,321.3 L378.3,320.3 L378.4,319.3 L378.5,318.3 L378.6,317.3 L378.7,316.3 L378.8,315.3 L378.9,314.3 L379.0,313.3 L379.1,312.3 L379.2,311.3 L379.3,310.3 L379.4,309.3 L379.5,308.3 L379.6,307.3 L379.7,306.3 L379.8,305.3 L379.9,304.4 L380.0,303.4 L380.1,302.4 L380.2,301.4 L380.3,300.4 L380.4,299.4 L380.5,298.4 L380.6,297.4 L380.7,296.4 L380.8,295.4 L380.9,294.4 L381.0,293.4 L381.1,292.4 L381.2,291.4 L381.3,290.4 L381.4,289.4 L381.5,288.4 L381.6,287.4 L381.8,286.4 L381.9,285.4 L382.0,284.5 L382.1,283.5 L382.2,282.5 L382.3,281.5 L382.4,280.5 L382.5,279.5 L382.7,278.5 L382.8,277.5 L382.9,276.5 L383.0,275.5 L383.2,274.5 L383.3,273.5 L383.4,272.5 L383.6,271.5 L383.7,270.6 L383.9,269.6 L384.0,268.6 L384.2,267.6 L384.3,266.6 L384.5,265.6 L384.7,264.6 L384.9,263.6 L385.0,262.7 L385.2,261.7 L385.5,260.7 L385.7,259.7 L385.9,258.7 L386.1,257.6 L386.4,256.5 L386.6,255.4 L387.0,254.4 L387.3,253.6 L387.7,252.9 L388.2,252.3 L389.1,251.8 L390.1,251.4 L391.2,251.1 L392.1,251.2 L393.1,251.5 L394.0,252.0 L394.8,252.7 L395.5,253.3 L396.1,254.0 L396.7,254.8 L397.2,255.7 L397.6,256.7 L398.1,257.6 L398.6,258.5 L399.1,259.4 L399.6,260.3 L400.2,261.1 L400.7,261.9 L401.3,262.8 L401.8,263.7 L402.2,264.5 L402.6,265.4 L403.0,266.3 L403.3,267.3 L403.6,268.2 L403.9,269.2 L404.2,270.2 L404.5,271.2 L404.8,272.2 L405.0,273.1 L405.4,274.1 L405.7,275.0 L406.1,275.9 L406.5,276.8 L407.0,277.6 L407.6,278.4 L408.2,279.2 L408.8,280.0 L409.4,280.8 L410.1,281.6 L410.8,282.4 L411.4,283.1 L412.1,283.9 L412.8,284.6 L413.5,285.3 L414.2,286.0 L415.0,286.7 L415.7,287.3 L416.5,288.1 L417.3,288.8 L418.1,289.3 L419.0,289.5 L420.0,289.5 L421.0,289.5 L422.0,289.5 L422.9,289.3 L423.8,288.7 L424.6,288.0 L425.4,287.3 L426.2,286.7 L427.0,286.1 L427.8,285.4 L428.5,284.7 L429.0,284.0 L429.5,283.1 L429.9,282.2 L430.3,281.3 L430.6,280.3 L431.0,279.3 L431.3,278.4 L431.7,277.4 L432.1,276.5 L432.4,275.6 L432.8,274.6 L433.2,273.7 L433.6,272.8 L433.9,271.9 L434.3,270.9 L434.7,270.0 L435.0,269.1 L435.4,268.1 L435.8,267.2 L436.1,266.3 L436.5,265.3 L436.9,264.4 L437.3,263.5 L437.6,262.6 L438.0,261.6 L438.4,260.7 L438.8,259.8 L439.1,258.9 L439.5,257.9 L439.9,257.0 L440.3,256.1 L440.7,255.2 L441.1,254.2 L441.5,253.3 L441.9,252.4 L442.3,251.5 L442.7,250.6 L443.1,249.7 L443.5,248.8 L444.0,247.9 L444.4,247.0 L444.9,246.1 L445.3,245.2 L445.8,244.3 L446.3,243.4 L446.7,242.5 L447.2,241.7 L447.7,240.8 L448.1,239.9 L448.6,239.0 L449.0,238.1 L449.4,237.2 L449.8,236.3 L450.2,235.4 L450.6,234.4 L451.0,233.5 L451.3,232.6 L451.7,231.6 L452.0,230.7 L452.4,229.8 L452.7,228.8 L453.0,227.9 L453.4,226.9 L453.7,226.0 L454.0,225.0 L454.4,224.1 L454.7,223.1 L455.0,222.2 L455.4,221.2 L455.7,220.3 L456.1,219.4 L456.5,218.4 L456.8,217.5 L457.2,216.6 L457.6,215.7 L458.0,214.8 L458.4,213.9 L458.8,212.9 L459.2,212.0 L459.7,211.1 L460.1,210.2 L460.5,209.3 L461.0,208.4 L461.4,207.5 L461.8,206.6 L462.3,205.7 L462.7,204.8 L463.2,203.9 L463.7,203.0 L464.1,202.1 L464.6,201.3 L465.1,200.4 L465.6,199.5 L466.1,198.7 L466.6,197.8 L467.1,196.9 L467.6,196.1 L468.1,195.2 L468.7,194.4 L469.2,193.6 L469.8,192.7 L470.3,191.9 L470.9,191.1 L471.5,190.2 L472.1,189.4 L472.7,188.6 L473.3,187.8 L473.9,187.0 L474.5,186.2 L475.1,185.4 L475.7,184.7 L476.4,183.9 L477.1,183.2 L477.7,182.5 L478.4,181.7 L479.1,181.0 L479.8,180.3 L480.5,179.5 L481.2,178.8 L481.8,178.0 L482.4,177.2 L482.9,176.4 L483.5,175.5 L484.0,174.7 L484.5,173.8 L485.1,173.0 L485.6,172.1 L486.2,171.3 L486.8,170.5 L487.4,169.7 L488.0,168.9 L488.6,168.1 L489.2,167.3 L489.8,166.5 L490.5,165.8 L491.2,165.0 L491.9,164.3 L492.6,163.6 L493.4,163.0 L494.2,162.4 L495.1,161.9 L496.0,161.3 L496.8,160.7 L497.4,160.0 L497.8,159.3 L498.2,158.4 L498.6,157.6 L498.9,156.6 L499.1,155.6 L499.4,154.6 L499.7,153.6 L499.9,152.6 L500.2,151.6 L500.5,150.6 L500.8,149.6 L501.2,148.7 L501.6,147.8 L502.1,146.9 L502.5,146.0 L503.0,145.1 L503.5,144.2 L504.0,143.3 L504.5,142.4 L504.9,141.6 L505.3,140.7 L505.7,139.7 L506.1,138.8 L506.4,137.9 L506.7,136.9 L507.0,136.0 L507.3,135.0 L507.6,134.1 L507.9,133.1 L508.1,132.1 L508.4,131.2 L508.7,130.2 L508.9,129.2 L509.2,128.3 L509.5,127.3 L509.8,126.3 L510.1,125.4 L510.4,124.4 L510.7,123.5 L511.1,122.6 L511.4,121.6 L511.7,120.7 L512.0,119.7 L512.4,118.8 L512.7,117.8 L513.0,116.9 L513.3,115.9 L513.6,115.0 L514.0,114.0 L514.3,113.1 L514.6,112.1 L514.8,111.2 L515.1,110.2 L515.4,109.2 L515.7,108.3 L515.9,107.3 L516.2,106.3 L516.5,105.4 L516.8,104.4 L517.1,103.5 L517.4,102.5 L517.7,101.6 L518.0,100.6 L518.3,99.7 L518.7,98.7 L519.0,97.7 L519.3,96.7 L519.7,95.8 L520.1,94.8 L520.5,93.9 L521.0,93.1 L521.5,92.3 L522.0,91.5 L522.7,90.8 L523.5,90.1 L524.4,89.5 L525.3,89.1 L526.2,88.8 L527.2,88.5 L528.2,88.4 L529.2,88.3 L530.2,88.5 L531.2,88.8 L532.1,89.2 L533.0,89.7 L533.8,90.3 L534.5,90.9 L535.1,91.6 L535.6,92.5 L536.1,93.4 L536.6,94.4 L537.2,95.2 L537.8,96.0 L538.5,96.7 L539.2,97.4 L540.0,98.1 L540.7,98.8 L541.4,99.5 L542.1,100.2 L542.7,101.0 L543.4,101.8 L544.0,102.6 L544.5,103.4 L545.1,104.2 L545.6,105.1 L546.2,105.9 L546.7,106.8 L547.1,107.7 L547.6,108.5 L548.0,109.5 L548.4,110.4 L548.7,111.4 L549.0,112.4 L549.4,113.3 L549.8,114.2 L550.2,115.1 L550.7,116.0 L551.2,116.8 L551.9,117.7 L552.7,118.6 L553.5,119.2 L554.1,119.4 L554.7,119.0 L555.3,118.2 L555.8,117.1 L556.2,115.9 L556.5,114.9 L556.7,114.0 L556.9,113.0 L557.1,112.1 L557.3,111.1 L557.4,110.1 L557.6,109.1 L557.7,108.1 L557.8,107.1 L557.9,106.1 L558.1,105.1 L558.2,104.1 L558.3,103.1 L558.4,102.1 L558.5,101.1 L558.6,100.1 L558.7,99.1 L558.9,98.1 L559.0,97.1 L559.1,96.1 L559.3,95.1 L559.4,94.1 L559.5,93.1 L559.6,92.1 L559.8,91.1 L559.9,90.1 L560.0,89.1 L560.1,88.1 L560.3,87.2 L560.4,86.2 L560.5,85.2 L560.7,84.2 L560.8,83.2 L560.9,82.2 L561.1,81.2 L561.2,80.2 L561.3,79.2 L561.5,78.2 L561.6,77.2 L561.8,76.3 L561.9,75.3 L562.1,74.3 L562.2,73.3 L562.4,72.2 L562.5,71.2 L562.6,70.2 L562.8,69.2 L562.9,68.2 L563.1,67.2 L563.3,66.2 L563.5,65.2 L563.7,64.2 L563.9,63.3 L564.1,62.3 L564.4,61.4 L564.7,60.5 L565.0,59.5 L565.5,58.4 L566.1,57.3 L566.8,56.4 L567.4,55.7 L567.9,55.5 L568.4,55.8 L568.9,56.5 L569.4,57.4 L569.8,58.6 L570.2,59.8 L570.6,60.9 L570.9,61.9 L571.1,62.8 L571.4,63.8 L571.6,64.8 L571.8,65.7 L572.0,66.7 L572.2,67.7 L572.4,68.7 L572.5,69.7 L572.7,70.7 L572.8,71.7 L573.0,72.7 L573.1,73.7 L573.3,74.7 L573.5,75.7 L573.6,76.7 L573.8,77.6 L573.9,78.6 L574.1,79.6 L574.3,80.6 L574.5,81.6 L574.6,82.6 L574.8,83.6 L575.0,84.5 L575.1,85.5 L575.3,86.5 L575.5,87.5 L575.6,88.5 L575.8,89.5 L576.0,90.5 L576.1,91.4 L576.3,92.4 L576.4,93.4 L576.6,94.4 L576.8,95.4 L576.9,96.4 L577.1,97.4 L577.2,98.4 L577.4,99.3 L577.6,100.3 L577.7,101.3 L577.9,102.3 L578.0,103.3 L578.2,104.3 L578.3,105.3 L578.5,106.3 L578.6,107.3 L578.8,108.2 L578.9,109.2 L579.1,110.2 L579.2,111.2 L579.3,112.2 L579.5,113.2 L579.6,114.2 L579.8,115.2 L579.9,116.2 L580.1,117.2 L580.2,118.1 L580.4,119.1 L580.5,120.1 L580.7,121.1 L580.8,122.1 L581.0,123.1 L581.1,124.1 L581.3,125.1 L581.4,126.1 L581.6,127.0 L581.7,128.0 L581.9,129.0 L582.1,130.0 L582.2,131.0 L582.4,132.0 L582.6,133.0 L582.7,133.9 L582.9,134.9 L583.1,135.9 L583.2,136.9 L583.4,137.9 L583.6,138.9 L583.7,139.9 L583.9,140.8 L584.1,141.8 L584.2,142.8 L584.4,143.8 L584.6,144.8 L584.7,145.8 L584.9,146.8 L585.1,147.8 L585.2,148.7 L585.4,149.7 L585.5,150.7 L585.7,151.7 L585.9,152.7 L586.0,153.7 L586.2,154.7 L586.4,155.6 L586.5,156.6 L586.7,157.6 L586.9,158.6 L587.0,159.6 L587.2,160.6 L587.3,161.6 L587.5,162.6 L587.6,163.5 L587.8,164.5 L587.9,165.5 L588.1,166.5 L588.2,167.5 L588.4,168.5 L588.5,169.5 L588.7,170.5 L588.8,171.5 L589.0,172.5 L589.1,173.4 L589.2,174.4 L589.4,175.4 L589.5,176.4 L589.7,177.4 L589.8,178.4 L589.9,179.4 L590.1,180.4 L590.2,181.4 L590.4,182.4 L590.5,183.3 L590.6,184.3 L590.8,185.3 L590.9,186.3 L591.0,187.3 L591.2,188.3 L591.3,189.3 L591.4,190.3 L591.6,191.3 L591.7,192.3 L591.8,193.3 L592.0,194.3 L592.1,195.2 L592.2,196.2 L592.4,197.2 L592.5,198.2 L592.6,199.2 L592.8,200.2 L592.9,201.2 L593.1,202.2 L593.2,203.2 L593.3,204.2 L593.5,205.1 L593.6,206.1 L593.8,207.1 L593.9,208.1 L594.1,209.1 L594.2,210.1 L594.4,211.1 L594.5,212.1 L594.7,213.1 L594.8,214.1 L595.0,215.0 L595.1,216.0 L595.3,217.0 L595.4,218.0 L595.6,219.0 L595.7,220.0 L595.9,221.0 L596.0,222.0 L596.2,223.0 L596.3,223.9 L596.5,224.9 L596.6,225.9 L596.8,226.9 L596.9,227.9 L597.0,228.9 L597.2,229.9 L597.3,230.9 L597.5,231.9 L597.6,232.8 L597.7,233.8 L597.9,234.8 L598.0,235.8 L598.1,236.8 L598.3,237.8 L598.4,238.8 L598.6,239.8 L598.7,240.8 L598.8,241.8 L599.0,242.8 L599.1,243.8 L599.2,244.7 L599.4,245.7 L599.5,246.7 L599.6,247.7 L599.8,248.7 L599.9,249.7 L600.0,250.7 L600.2,251.7 L600.3,252.7 L600.4,253.7 L600.6,254.7 L600.7,255.6 L600.8,256.6 L601.0,257.6 L601.1,258.6 L601.2,259.6 L601.4,260.6 L601.5,261.6 L601.6,262.6 L601.8,263.6 L601.9,264.6 L602.0,265.6 L602.2,266.5 L602.3,267.5 L602.4,268.5 L602.6,269.5 L602.7,270.5 L602.9,271.5 L603.0,272.5 L603.1,273.5 L603.3,274.5 L603.4,275.5 L603.5,276.5 L603.7,277.4 L603.8,278.4 L603.9,279.4 L604.1,280.4 L604.2,281.4 L604.3,282.4 L604.5,283.4 L604.6,284.4 L604.7,285.4 L604.9,286.4 L605.0,287.4 L605.2,288.4 L605.3,289.3 L605.4,290.3 L605.6,291.3 L605.7,292.3 L605.8,293.3 L606.0,294.3 L606.1,295.3 L606.3,296.3 L606.4,297.3 L606.5,298.3 L606.7,299.2 L606.8,300.2 L606.9,301.2 L607.1,302.2 L607.2,303.2 L607.3,304.2 L607.5,305.2 L607.6,306.2 L607.7,307.2 L607.9,308.2 L608.0,309.2 L608.1,310.2 L608.2,311.1 L608.4,312.1 L608.5,313.1 L608.6,314.1 L608.7,315.1 L608.9,316.1 L609.0,317.1 L609.1,318.1 L609.2,319.1 L609.3,320.1 L609.5,321.1 L609.6,322.1 L609.7,323.1 L609.8,324.1 L610.0,325.0 L610.1,326.0 L610.2,327.0 L610.3,328.0 L610.5,329.0 L610.6,330.0 L610.7,331.0 L610.9,332.0 L611.0,333.0 L611.2,334.0 L611.3,335.0 L611.4,335.9 L611.6,336.9 L611.7,337.9 L611.9,338.9 L612.0,339.9 L612.2,340.9 L612.3,341.9 L612.5,342.9 L612.6,343.9 L612.8,344.8 L613.0,345.8 L613.1,346.8 L613.3,347.8 L613.5,348.8 L613.6,349.8 L613.8,350.8 L613.9,351.8 L614.1,352.7 L614.3,353.7 L614.5,354.7 L614.6,355.7 L614.8,356.7 L615.0,357.7 L615.2,358.7 L615.3,359.6 L615.5,360.6 L615.7,361.6 L615.9,362.6 L616.0,363.6 L616.2,364.6 L616.4,365.5 L616.6,366.5 L616.8,367.5 L617.0,368.5 L617.2,369.5 L617.3,370.4 L617.5,371.4 L617.7,372.4 L617.9,373.4 L618.1,374.4 L618.3,375.4 L618.5,376.3 L618.7,377.3 L618.9,378.3 L619.1,379.3 L619.3,380.3 L619.5,381.2 L619.7,382.2 L619.9,383.2 L620.1,384.2 L620.2,385.2 L620.4,386.2 L620.6,387.1 L620.8,388.1 L621.0,389.1 L621.2,390.1 L621.3,391.1 L621.5,392.1 L621.7,393.1 L621.8,394.1 L622.0,395.1 L622.2,396.0 L622.4,397.0 L622.5,398.0 L622.7,399.0 L622.9,400.0 L623.1,401.0 L623.3,402.0 L623.5,402.9 L623.7,403.9 L623.9,404.9 L624.2,405.8 L624.4,406.8 L624.7,407.7 L625.0,408.7 L625.4,409.6 L625.7,410.5 L626.1,411.5 L626.6,412.4 L627.0,413.3 L627.4,414.2 L627.8,415.1 L628.3,416.0 L628.8,416.9 L629.2,417.8 L629.6,418.7 L630.0,419.6 L630.4,420.5 L630.8,421.4 L631.2,422.4 L631.6,423.3 L631.9,424.2 L632.3,425.2 L632.6,426.1 L633.0,427.0 L633.3,428.0 L633.6,428.9 L633.9,429.9 L634.2,430.8 L634.5,431.8 L634.8,432.8 L635.0,433.7 L635.3,434.7 L635.5,435.7 L635.8,436.6 L636.0,437.6 L636.3,438.6 L636.5,439.5 L636.8,440.5 L637.1,441.5 L637.4,442.4 L637.7,443.4 L638.1,444.3 L638.4,445.3 L638.8,446.3 L639.1,447.2 L639.6,448.1 L640.1,448.9 L640.8,449.8 L641.5,450.6 L642.2,450.8 L642.7,450.2 L643.3,449.2 L643.7,448.1 L644.1,447.0 L644.3,446.1 L644.6,445.2 L644.8,444.2 L645.0,443.2 L645.2,442.2 L645.3,441.3 L645.5,440.3 L645.7,439.3 L645.8,438.2 L646.0,437.2 L646.1,436.2 L646.3,435.3 L646.5,434.3 L646.7,433.3 L647.0,432.3 L647.2,431.3 L647.4,430.4 L647.7,429.4 L647.9,428.4 L648.2,427.5 L648.4,426.5 L648.7,425.5 L648.9,424.6 L649.1,423.6 L649.4,422.6 L649.6,421.6 L649.8,420.6 L650.0,419.7 L650.2,418.7 L650.4,417.7 L650.6,416.7 L650.8,415.7 L651.0,414.7 L651.2,413.7 L651.4,412.8 L651.6,411.8 L651.8,410.8 L652.0,409.8 L652.2,408.9 L652.5,407.9 L652.7,406.9 L653.0,406.0 L653.3,405.0 L653.6,404.1 L654.0,403.2 L654.4,402.2 L654.8,401.3 L655.2,400.4 L655.6,399.5 L656.1,398.6 L656.5,397.7 L657.0,396.8 L657.6,396.0 L658.1,395.1 L658.7,394.3 L659.2,393.4 L659.7,392.5 L660.1,391.7 L660.4,390.7 L660.7,389.8 L661.0,388.9 L661.2,387.9 L661.5,387.0 L661.7,386.0 L661.9,385.0 L662.1,384.1 L662.3,383.1 L662.5,382.1 L662.7,381.1 L662.8,380.1 L663.0,379.1 L663.2,378.1 L663.3,377.1 L663.5,376.1 L663.6,375.1 L663.8,374.1 L664.0,373.1 L664.1,372.1 L664.3,371.1 L664.5,370.1 L664.7,369.1 L664.9,368.2 L665.0,367.2 L665.2,366.2 L665.4,365.2 L665.5,364.2 L665.7,363.2 L665.9,362.2 L666.0,361.3 L666.2,360.3 L666.4,359.3 L666.5,358.3 L666.7,357.3 L666.9,356.3 L667.0,355.3 L667.2,354.4 L667.4,353.4 L667.5,352.4 L667.7,351.4 L667.9,350.4 L668.1,349.4 L668.2,348.4 L668.4,347.5 L668.6,346.5 L668.8,345.5 L668.9,344.5 L669.1,343.5 L669.3,342.5 L669.5,341.5 L669.7,340.6 L669.8,339.6 L670.0,338.6 L670.2,337.6 L670.4,336.6 L670.6,335.7 L670.8,334.7 L671.0,333.7 L671.3,332.7 L671.5,331.8 L671.7,330.8 L672.0,329.8 L672.2,328.8 L672.5,327.9 L672.7,326.9 L673.0,325.9 L673.2,325.0 L673.4,324.0 L673.7,323.0 L673.9,322.0 L674.2,321.1 L674.4,320.1 L674.7,319.1 L674.9,318.2 L675.2,317.2 L675.4,316.2 L675.6,315.1 L675.8,314.1 L676.1,313.1 L676.4,312.2 L676.7,311.3 L677.1,310.4 L677.6,309.6 L678.3,308.7 L679.1,307.9 L679.9,307.3 L680.6,307.3 L681.2,307.7 L681.8,308.6 L682.4,309.7 L682.9,310.7 L683.5,311.6 L684.0,312.5 L684.5,313.3 L685.1,314.2 L685.6,315.0 L686.1,315.9 L686.6,316.8 L687.0,317.6 L687.5,318.5 L687.9,319.4 L688.3,320.4 L688.6,321.3 L689.0,322.2 L689.4,323.2 L689.8,324.1 L690.2,325.0 L690.6,325.9 L691.0,326.8 L691.4,327.7 L691.9,328.6 L692.4,329.5 L692.8,330.4 L693.3,331.3 L693.7,332.2 L694.2,333.1 L694.5,334.0 L694.9,334.9 L695.3,335.8 L695.6,336.8 L696.0,337.7 L696.3,338.7 L696.6,339.6 L697.0,340.6 L697.3,341.5 L697.6,342.5 L697.9,343.4 L698.3,344.4 L698.6,345.3 L698.9,346.2 L699.3,347.2 L699.6,348.1 L700.0,349.0 L700.4,350.0 L700.8,350.9 L701.2,351.8 L701.6,352.8 L702.0,353.7 L702.4,354.7 L702.8,355.6 L703.3,356.5 L703.8,357.4 L704.3,358.2 L704.8,359.0 L705.4,359.7 L706.1,360.6 L706.9,361.4 L707.7,362.2 L708.5,362.8 L709.3,363.1 L710.1,363.0 L710.9,362.5 L711.6,361.8 L712.4,361.0 L713.1,360.1 L713.8,359.3 L714.4,358.5 L715.0,357.7 L715.5,356.9 L716.1,356.0 L716.6,355.2 L717.1,354.3 L717.6,353.5 L718.2,352.6 L718.8,351.8 L719.4,351.0 L720.1,350.3 L720.7,349.5 L721.4,348.7 L722.0,348.0 L722.6,347.2 L723.2,346.4 L723.7,345.5 L724.2,344.7 L724.6,343.8 L725.1,342.9 L725.5,342.0 L725.9,341.1 L726.3,340.1 L726.7,339.2 L727.1,338.3 L727.5,337.3 L727.9,336.4 L728.3,335.5 L728.8,334.6 L729.2,333.7 L729.7,332.8 L730.1,331.9 L730.6,331.1 L731.0,330.1 L731.4,329.2 L731.8,328.3 L732.2,327.4 L732.6,326.5 L733.0,325.6 L733.4,324.7 L733.8,323.7 L734.2,322.8 L734.6,321.9 L734.9,320.9 L735.3,320.0 L735.7,319.1 L736.0,318.2 L736.4,317.2 L736.7,316.3 L737.1,315.3 L737.4,314.4 L737.7,313.4 L738.0,312.5 L738.3,311.5 L738.6,310.6 L738.9,309.6 L739.2,308.7 L739.5,307.7 L739.8,306.7 L740.1,305.8 L740.4,304.8 L740.8,303.9 L741.1,303.0 L741.5,302.0 L741.8,301.1 L742.2,300.2 L742.6,299.3 L743.1,298.4 L743.5,297.5 L744.0,296.6 L744.4,295.7 L744.9,294.8 L745.4,293.9 L745.9,293.1 L746.3,292.2 L746.8,291.3 L747.3,290.4 L747.8,289.6 L748.4,288.7 L748.9,287.9 L749.4,287.1 L750.0,286.2 L750.5,285.4 L751.1,284.5 L751.6,283.7 L752.2,282.8 L752.7,282.0 L753.2,281.1 L753.7,280.3 L754.3,279.4 L754.8,278.6 L755.3,277.7 L755.8,276.9 L756.3,276.0 L756.9,275.2 L757.4,274.3 L758.0,273.5 L758.5,272.7 L759.1,271.8 L759.7,271.0 L760.3,270.2 L760.9,269.4 L761.5,268.6 L762.1,267.9 L762.7,267.1 L763.3,266.3 L764.0,265.5 L764.6,264.7 L765.1,263.9 L765.7,263.1 L766.3,262.2 L766.8,261.4 L767.3,260.5 L767.8,259.6 L768.3,258.8 L768.8,257.9 L769.3,257.0 L769.7,256.1 L770.2,255.2 L770.7,254.3 L771.2,253.5 L771.8,252.6 L772.3,251.8 L772.9,251.0 L773.5,250.2 L774.1,249.5 L774.8,248.7 L775.5,247.9 L776.2,247.2 L776.9,246.5 L777.6,245.8 L778.4,245.2 L779.2,244.6 L780.0,244.1 L780.9,243.5 L781.8,243.1 L782.7,242.6 L783.6,242.3 L784.6,242.0 L785.6,241.8 L786.6,241.6 L787.6,241.5 L788.6,241.3 L789.6,241.1 L790.4,240.8 L791.2,240.4 L792.0,239.8 L792.7,239.1 L793.4,238.4 L794.1,237.6 L794.8,236.7 L795.4,235.9 L796.1,235.1 L796.7,234.3 L797.3,233.5 L798.0,232.8 L798.6,232.0 L799.2,231.1 L799.8,230.3 L800.3,229.5 L800.9,228.7 L801.4,227.8 L802.0,227.0 L802.5,226.1 L803.0,225.3 L803.5,224.4 L803.9,223.5 L804.4,222.6 L804.9,221.8 L805.3,220.9 L805.8,220.0 L806.2,219.0 L806.6,218.1 L807.0,217.2 L807.5,216.3 L807.9,215.4 L808.3,214.5 L808.7,213.6 L809.1,212.7 L809.5,211.8 L809.9,210.8 L810.3,209.9 L810.6,209.0 L811.0,208.0 L811.4,207.1 L811.8,206.2 L812.1,205.3 L812.5,204.3 L812.9,203.4 L813.3,202.5 L813.6,201.6 L814.0,200.6 L814.5,199.7 L814.9,198.8 L815.3,197.8 L815.6,196.8 L816.0,195.8 L816.4,194.8 L816.8,193.9 L817.3,192.9 L817.7,192.1 L818.2,191.2 L818.8,190.5 L819.4,189.9 L820.1,189.3 L820.9,188.7 L821.9,188.1 L822.8,187.7 L823.8,187.5 L824.7,187.5 L825.7,187.7 L826.7,188.1 L827.6,188.5 L828.5,189.0 L829.3,189.5 L830.1,190.1 L830.7,190.9 L831.4,191.6 L832.0,192.5 L832.7,193.3 L833.3,194.1 L834.0,194.8 L834.8,195.4 L835.6,196.0 L836.5,196.5 L837.4,197.1 L838.1,197.7 L838.8,198.4 L839.4,199.1 L840.0,199.9 L840.6,200.8 L841.1,201.7 L841.5,202.6 L842.0,203.5 L842.4,204.4 L842.8,205.3 L843.2,206.3 L843.5,207.3 L843.8,208.4 L844.1,209.4 L844.3,210.5 L844.7,211.5 L845.0,212.4 L845.4,213.2 L845.9,213.9 L846.5,214.5 L847.4,215.1 L848.4,215.5 L849.2,215.6 L849.9,215.0 L850.5,214.0 L851.0,213.0 L851.4,212.1 L851.7,211.2 L852.0,210.3 L852.3,209.3 L852.6,208.3 L852.8,207.4 L853.0,206.4 L853.2,205.4 L853.5,204.4 L853.7,203.4 L853.9,202.4 L854.1,201.4 L854.3,200.4 L854.5,199.4 L854.7,198.5 L854.9,197.5 L855.1,196.5 L855.3,195.5 L855.5,194.5 L855.7,193.5 L855.9,192.6 L856.0,191.6 L856.2,190.6 L856.3,189.6 L856.5,188.6 L856.6,187.6 L856.7,186.6 L856.8,185.6 L856.9,184.6 L857.0,183.6 L857.1,182.6 L857.2,181.6 L857.3,180.7 L857.3,179.7 L857.4,178.7 L857.5,177.7 L857.6,176.7 L857.6,175.7 L857.7,174.7 L857.8,173.7 L857.9,172.7 L858.0,171.7 L858.1,170.7 L858.2,169.7 L858.3,168.7 L858.4,167.7 L858.6,166.7 L858.7,165.7 L858.8,164.7 L859.0,163.7 L859.2,162.7 L859.4,161.7 L859.6,160.7 L859.8,159.7 L860.1,158.8 L860.4,157.9 L860.9,156.8 L861.5,155.8 L862.1,155.0 L862.7,154.7 L863.3,155.0 L863.9,155.9 L864.5,156.9 L865.0,158.0 L865.4,158.9 L865.7,159.8 L866.0,160.8 L866.3,161.7 L866.6,162.7 L866.9,163.7 L867.1,164.7 L867.3,165.6 L867.6,166.6 L867.8,167.6 L868.1,168.6 L868.3,169.5 L868.6,170.5 L868.8,171.5 L869.1,172.5 L869.3,173.4 L869.5,174.4 L869.8,175.4 L870.0,176.3 L870.2,177.3 L870.4,178.3 L870.7,179.3 L870.9,180.3 L871.1,181.2 L871.3,182.2 L871.5,183.2 L871.7,184.2 L871.9,185.2 L872.0,186.1 L872.2,187.1 L872.4,188.1 L872.6,189.1 L872.7,190.1 L872.9,191.1 L873.1,192.0 L873.3,193.0 L873.5,194.0 L873.7,195.0 L873.9,196.0 L874.1,196.9 L874.3,197.9 L874.5,198.9 L874.7,199.9 L875.0,200.8 L875.2,201.8 L875.5,202.8 L875.7,203.7 L876.0,204.7 L876.2,205.7 L876.5,206.7 L876.7,207.6 L877.0,208.6 L877.2,209.6 L877.5,210.5 L877.7,211.5 L877.9,212.5 L878.2,213.5 L878.4,214.4 L878.6,215.4 L878.8,216.4 L879.1,217.4 L879.3,218.3 L879.5,219.3 L879.7,220.3 L879.9,221.3 L880.1,222.2 L880.4,223.2 L880.6,224.2 L880.8,225.2 L880.9,226.2 L881.1,227.1 L881.3,228.1 L881.5,229.1 L881.6,230.1 L881.8,231.1 L882.0,232.1 L882.1,233.1 L882.2,234.0 L882.4,235.0 L882.5,236.0 L882.7,237.0 L882.8,238.0 L882.9,239.0 L883.1,240.0 L883.2,241.0 L883.3,242.0 L883.5,243.0 L883.6,244.0 L883.7,245.0 L883.9,245.9 L884.0,246.9 L884.1,247.9 L884.3,248.9 L884.4,249.9 L884.5,250.9 L884.6,251.9 L884.8,252.9 L884.9,253.9 L885.0,254.9 L885.1,255.9 L885.2,256.9 L885.4,257.9 L885.5,258.8 L885.6,259.8 L885.7,260.8 L885.9,261.8 L886.0,262.8 L886.1,263.8 L886.2,264.8 L886.3,265.8 L886.5,266.8 L886.6,267.8 L886.7,268.8 L886.8,269.8 L887.0,270.8 L887.1,271.8 L887.2,272.7 L887.4,273.7 L887.5,274.7 L887.6,275.7 L887.7,276.7 L887.9,277.7 L888.0,278.7 L888.1,279.7 L888.2,280.7 L888.3,281.7 L888.5,282.7 L888.6,283.7 L888.7,284.7 L888.8,285.6 L888.9,286.6 L889.0,287.6 L889.2,288.6 L889.3,289.6 L889.4,290.6 L889.5,291.6 L889.6,292.6 L889.7,293.6 L889.8,294.6 L889.9,295.6 L890.0,296.6 L890.1,297.6 L890.2,298.6 L890.3,299.6 L890.5,300.6 L890.6,301.6 L890.7,302.5 L890.8,303.5 L890.9,304.5 L891.0,305.5 L891.1,306.5 L891.2,307.5 L891.4,308.5 L891.5,309.5 L891.6,310.5 L891.7,311.5 L891.8,312.5 L892.0,313.5 L892.1,314.5 L892.2,315.5 L892.3,316.5 L892.4,317.5 L892.6,318.4 L892.7,319.4 L892.8,320.4 L892.9,321.4 L893.1,322.4 L893.2,323.4 L893.3,324.4 L893.5,325.4 L893.6,326.4 L893.8,327.4 L893.9,328.3 L894.1,329.3 L894.3,330.3 L894.4,331.3 L894.6,332.3 L894.8,333.3 L894.9,334.3 L895.1,335.3 L895.3,336.2 L895.5,337.2 L895.6,338.2 L895.8,339.2 L895.9,340.2 L896.1,341.2 L896.2,342.2 L896.3,343.2 L896.4,344.2 L896.6,345.1 L896.7,346.1 L896.8,347.1 L896.9,348.1 L897.0,349.1 L897.1,350.1 L897.2,351.1 L897.3,352.1 L897.4,353.1 L897.5,354.1 L897.6,355.1 L897.7,356.1 L897.8,357.1 L897.9,358.1 L898.0,359.1 L898.1,360.1 L898.1,361.1 L898.2,362.1 L898.3,363.1 L898.4,364.1 L898.5,365.1 L898.6,366.1 L898.7,367.0 L898.8,368.0 L898.9,369.0 L899.0,370.0 L899.1,371.0 L899.2,372.0 L899.3,373.0 L899.4,374.0 L899.5,375.0 L899.6,376.0 L899.7,377.0 L899.8,378.0 L899.9,379.0 L900.0,380.0 L900.1,381.0 L900.2,382.0 L900.3,383.0 L900.4,384.0 L900.6,385.0 L900.7,386.0 L900.8,386.9 L900.9,387.9 L901.0,388.9 L901.1,389.9 L901.2,390.9 L901.3,391.9 L901.4,392.9 L901.5,393.9 L901.6,394.9 L901.7,395.9 L901.9,396.9 L902.0,397.9 L902.1,398.9 L902.2,399.9 L902.3,400.9 L902.4,401.9 L902.6,402.8 L902.7,403.8 L902.8,404.8 L902.9,405.8 L903.0,406.8 L903.2,407.8 L903.3,408.8 L903.4,409.8 L903.5,410.8 L903.6,411.8 L903.8,412.8 L903.9,413.8 L904.0,414.8 L904.1,415.8 L904.3,416.7 L904.4,417.7 L904.5,418.7 L904.7,419.7 L904.8,420.7 L904.9,421.7 L905.1,422.7 L905.2,423.7 L905.3,424.7 L905.5,425.7 L905.6,426.7 L905.7,427.7 L905.9,428.6 L906.0,429.6 L906.2,430.6 L906.3,431.6 L906.4,432.6 L906.6,433.6 L906.7,434.6 L906.9,435.6 L907.0,436.6 L907.2,437.5 L907.3,438.5 L907.5,439.5 L907.7,440.5 L907.8,441.5 L908.0,442.5 L908.1,443.5 L908.3,444.5 L908.5,445.4 L908.6,446.4 L908.8,447.4 L909.0,448.4 L909.1,449.4 L909.3,450.4 L909.5,451.4 L909.6,452.4 L909.8,453.3 L910.0,454.3 L910.1,455.3 L910.3,456.3 L910.5,457.3 L910.7,458.3 L910.8,459.3 L911.0,460.2 L911.2,461.2 L911.4,462.2 L911.6,463.2 L911.8,464.2 L912.0,465.1 L912.2,466.1 L912.4,467.1 L912.6,468.1 L912.8,469.1 L913.0,470.0 L913.3,471.0 L913.5,472.0 L913.7,473.0 L914.0,473.9 L914.2,474.9 L914.5,475.9 L914.7,476.8 L915.0,477.8 L915.3,478.8 L915.5,479.7 L915.8,480.7 L916.1,481.6 L916.4,482.6 L916.7,483.5 L917.0,484.5 L917.4,485.4 L917.7,486.4 L918.1,487.3 L918.5,488.2 L918.9,489.1 L919.2,490.1 L919.6,491.0 L920.0,491.9 L920.4,492.8 L920.8,493.8 L921.2,494.7 L921.5,495.6 L921.9,496.5 L922.3,497.5 L922.7,498.4 L923.0,499.3 L923.4,500.3 L923.8,501.2 L924.1,502.1 L924.5,503.0 L924.9,504.0 L925.2,504.9 L925.5,505.9 L925.8,506.8 L926.1,507.8 L926.4,508.7 L926.8,509.7 L927.1,510.7 L927.4,511.6 L927.8,512.5 L928.1,513.4 L928.5,514.4 L929.0,515.3 L929.4,516.4 L929.9,517.6 L930.5,518.7 L931.0,519.6 L931.5,520.4 L932.1,520.9 L932.6,520.9 L933.2,520.6 L933.9,519.9 L934.5,518.9 L935.1,517.8 L935.6,516.7 L936.0,515.7 L936.4,514.9 L936.7,513.9 L936.9,513.0 L937.2,512.1 L937.4,511.1 L937.7,510.1 L937.9,509.2 L938.1,508.2 L938.3,507.2 L938.5,506.2 L938.6,505.2 L938.8,504.1 L939.0,503.1 L939.1,502.1 L939.3,501.1 L939.5,500.1 L939.6,499.1 L939.8,498.1 L940.0,497.2 L940.1,496.2 L940.3,495.2 L940.5,494.2 L940.6,493.2 L940.8,492.2 L940.9,491.2 L941.0,490.2 L941.2,489.3 L941.3,488.3 L941.4,487.3 L941.6,486.3 L941.7,485.3 L941.8,484.3 L942.0,483.3 L942.1,482.3 L942.3,481.3 L942.4,480.3 L942.5,479.3 L942.7,478.3 L942.8,477.4 L943.0,476.4 L943.1,475.4 L943.3,474.4 L943.4,473.4 L943.6,472.4 L943.7,471.4 L943.9,470.4 L944.1,469.5 L944.2,468.5 L944.4,467.5 L944.6,466.5 L944.7,465.5 L944.9,464.5 L945.1,463.5 L945.2,462.6 L945.4,461.6 L945.6,460.6 L945.8,459.6 L946.0,458.6 L946.1,457.6 L946.3,456.6 L946.5,455.7 L946.7,454.7 L946.9,453.7 L947.1,452.7 L947.3,451.7 L947.5,450.8 L947.7,449.8 L947.9,448.8 L948.1,447.8 L948.3,446.9 L948.5,445.9 L948.8,444.9 L949.0,443.9 L949.2,443.0 L949.5,442.0 L949.7,441.0 L949.9,440.0 L950.2,439.1 L950.4,438.1 L950.6,437.1 L950.8,436.1 L951.1,435.2 L951.3,434.2 L951.5,433.2 L951.7,432.2 L952.0,431.3 L952.2,430.3 L952.5,429.3 L952.7,428.3 L952.9,427.4 L953.2,426.4 L953.4,425.4 L953.6,424.5 L953.9,423.5 L954.1,422.5 L954.3,421.5 L954.5,420.6 L954.7,419.6 L954.9,418.6 L955.1,417.6 L955.2,416.6 L955.4,415.6 L955.6,414.7 L955.8,413.7 L955.9,412.7 L956.1,411.7 L956.2,410.7 L956.4,409.7 L956.5,408.7 L956.7,407.7 L956.8,406.8 L957.0,405.8 L957.1,404.8 L957.2,403.8 L957.4,402.8 L957.5,401.8 L957.7,400.8 L957.8,399.8 L957.9,398.8 L958.1,397.8 L958.2,396.8 L958.3,395.9 L958.5,394.9 L958.6,393.9 L958.8,392.9 L958.9,391.9 L959.0,390.9 L959.2,389.9 L959.3,388.9 L959.4,387.9 L959.6,386.9 L959.7,385.9 L959.8,385.0 L960.0,384.0 L960.1,383.0 L960.2,382.0 L960.4,381.0 L960.5,380.0 L960.6,379.0 L960.7,378.0 L960.9,377.0 L961.0,376.0 L961.1,375.0 L961.3,374.0 L961.4,373.1 L961.6,372.1 L961.7,371.1 L961.8,370.1 L962.0,369.1 L962.1,368.1 L962.3,367.1 L962.4,366.1 L962.6,365.1 L962.7,364.1 L962.9,363.2 L963.0,362.2 L963.2,361.2 L963.3,360.2 L963.5,359.2 L963.6,358.2 L963.8,357.2 L964.0,356.2 L964.1,355.2 L964.3,354.2 L964.5,353.3 L964.7,352.3 L964.9,351.3 L965.1,350.3 L965.3,349.3 L965.5,348.4 L965.7,347.4 L965.9,346.4 L966.2,345.4 L966.4,344.4 L966.7,343.4 L966.9,342.4 L967.2,341.4 L967.6,340.4 L967.9,339.5 L968.3,338.6 L968.8,337.8 L969.3,337.1 L970.1,336.2 L971.0,335.7 L971.8,335.8 L972.5,336.5 L973.2,337.5 L973.7,338.4 L974.1,339.2 L974.4,340.2 L974.7,341.1 L975.0,342.1 L975.3,343.1 L975.5,344.1 L975.8,345.0 L976.2,346.0 L976.5,346.9 L976.9,347.8 L977.3,348.8 L977.7,349.7 L978.2,350.6 L978.6,351.5 L979.0,352.4 L979.4,353.3 L979.7,354.3 L980.0,355.2 L980.4,356.1 L980.7,357.1 L981.0,358.0 L981.2,359.0 L981.5,360.0 L981.8,360.9 L982.0,361.9 L982.3,362.9 L982.5,363.8 L982.8,364.8 L983.1,365.8 L983.3,366.7 L983.6,367.7 L983.8,368.7 L984.1,369.6 L984.4,370.6 L984.7,371.6 L985.0,372.5 L985.3,373.5 L985.6,374.4 L985.8,375.4 L986.1,376.4 L986.4,377.3 L986.7,378.3 L987.0,379.3 L987.3,380.2 L987.6,381.2 L988.0,382.1 L988.3,383.0 L988.7,384.0 L989.0,384.9 L989.4,385.8 L989.8,386.7 L990.2,387.6 L990.6,388.6 L991.1,389.5 L991.6,390.4 L992.1,391.3 L992.6,392.2 L993.1,393.0 L993.7,393.8 L994.3,394.5 L994.9,395.3 L995.7,396.0 L996.4,396.8 L997.3,397.6 L998.1,398.2 L999.0,398.7 L999.9,399.0 L1000.8,399.0 L1001.7,398.9 L1002.8,398.5 L1003.8,398.1 L1004.7,397.6 L1005.4,397.1 L1006.0,396.5 L1006.6,395.8 L1007.2,395.0 L1007.7,394.1 L1008.2,393.2 L1008.7,392.2 L1009.1,391.2 L1009.5,390.2 L1009.9,389.2 L1010.3,388.3 L1010.7,387.4 L1011.1,386.5 L1011.4,385.6 L1011.8,384.6 L1012.1,383.7 L1012.4,382.7 L1012.7,381.8 L1013.0,380.8 L1013.3,379.9 L1013.6,378.9 L1013.9,377.9 L1014.2,377.0 L1014.5,376.0 L1014.8,375.0 L1015.0,374.1 L1015.3,373.1 L1015.6,372.2 L1015.9,371.2 L1016.2,370.3 L1016.5,369.3 L1016.8,368.3 L1017.1,367.4 L1017.3,366.4 L1017.6,365.5 L1017.9,364.5 L1018.2,363.5 L1018.4,362.6 L1018.7,361.6 L1019.0,360.6 L1019.2,359.7 L1019.5,358.7 L1019.7,357.7 L1020.0,356.8 L1020.2,355.8 L1020.5,354.8 L1020.7,353.9 L1021.0,352.9 L1021.2,351.9 L1021.4,351.0 L1021.7,350.0 L1021.9,349.0 L1022.1,348.0 L1022.4,347.1 L1022.6,346.1 L1022.8,345.1 L1023.0,344.1 L1023.2,343.1 L1023.4,342.2 L1023.6,341.2 L1023.7,340.2 L1023.9,339.2 L1024.1,338.2 L1024.2,337.2 L1024.4,336.2 L1024.6,335.3 L1024.8,334.3 L1025.1,333.3 L1025.3,332.4 L1025.6,331.4 L1025.9,330.4 L1026.2,329.5 L1026.5,328.5 L1026.8,327.6 L1027.0,326.6 L1027.3,325.6 L1027.6,324.7 L1027.8,323.7 L1028.0,322.7 L1028.3,321.8 L1028.5,320.8 L1028.7,319.8 L1029.0,318.8 L1029.2,317.9 L1029.4,316.9 L1029.7,315.9 L1029.9,314.9 L1030.2,314.0 L1030.4,313.0 L1030.7,312.0 L1030.9,311.1 L1031.2,310.1 L1031.5,309.1 L1031.7,308.1 L1032.0,307.1 L1032.3,306.1 L1032.6,305.1 L1032.9,304.2 L1033.2,303.2 L1033.6,302.3 L1034.0,301.4 L1034.4,300.6 L1034.9,299.8 L1035.6,299.1 L1036.3,298.4 L1037.1,297.7 L1037.9,297.1 L1038.6,296.3 L1039.3,295.6 L1040.0,294.8 L1040.6,294.1 L1041.3,293.4 L1042.1,292.7 L1042.8,292.1 L1043.6,291.5 L1044.5,291.1 L1045.5,290.7 L1046.4,290.3 L1047.3,289.8 L1048.1,289.3 L1048.9,288.7 L1049.6,288.0 L1050.3,287.2 L1050.9,286.5 L1051.6,285.7 L1052.3,285.0 L1053.1,284.4 L1053.8,283.7 L1054.6,283.1 L1055.4,282.5 L1056.3,281.9 L1057.1,281.4 L1057.9,280.8 L1058.8,280.3 L1059.7,279.7 L1060.6,279.2 L1061.2,278.6 L1061.8,277.8 L1062.2,277.0 L1062.6,276.1 L1062.9,275.1 L1063.3,274.2 L1063.6,273.1 L1063.9,272.2 L1064.3,271.2 L1064.8,270.3 L1065.3,269.4 L1065.9,268.6 L1066.5,267.9 L1067.2,267.1 L1067.8,266.3 L1068.4,265.5 L1068.8,264.6 L1069.2,263.7 L1069.5,262.8 L1069.9,261.9 L1070.2,260.9 L1070.5,260.0 L1070.8,259.0 L1071.0,258.0 L1071.3,257.0 L1071.6,256.0 L1071.9,255.1 L1072.2,254.1 L1072.5,253.2 L1072.8,252.2 L1073.1,251.3 L1073.4,250.3 L1073.8,249.4 L1074.1,248.4 L1074.4,247.5 L1074.7,246.5 L1075.0,245.6 L1075.3,244.6 L1075.7,243.7 L1076.0,242.8 L1076.4,241.8 L1076.8,240.9 L1077.2,240.0 L1077.6,239.1 L1078.0,238.1 L1078.4,237.2 L1078.8,236.3 L1079.2,235.4 L1079.6,234.5 L1080.1,233.6 L1080.5,232.7 L1081.0,231.8 L1081.5,230.9 L1081.9,230.0 L1082.4,229.1 L1082.8,228.2 L1083.2,227.3 L1083.6,226.4 L1083.9,225.5 L1084.2,224.5 L1084.5,223.6 L1084.8,222.6 L1085.2,221.7 L1085.5,220.7 L1085.7,219.8 L1086.0,218.8 L1086.3,217.8 L1086.7,216.9 L1087.0,215.9 L1087.3,215.0 L1087.6,214.0 L1087.9,213.1 L1088.2,212.1 L1088.5,211.2 L1088.8,210.2 L1089.1,209.3 L1089.4,208.3 L1089.8,207.4 L1090.1,206.4 L1090.5,205.5 L1090.8,204.6 L1091.2,203.6 L1091.5,202.7 L1091.9,201.7 L1092.3,200.8 L1092.7,199.9 L1093.1,199.0 L1093.5,198.1 L1094.0,197.2 L1094.5,196.4 L1095.0,195.5 L1095.6,194.7 L1096.2,193.9 L1096.9,193.1 L1097.6,192.4 L1098.3,191.7 L1099.1,191.0 L1100.0,190.3 L1100.9,189.9 L1101.7,189.9 L1102.6,190.3 L1103.4,190.9 L1104.2,191.7 L1105.0,192.3 L1105.9,192.9 L1106.7,193.5 L1107.5,194.1 L1108.3,194.7 L1109.0,195.3 L1109.8,195.9 L1110.7,196.5 L1111.5,197.1 L1112.3,197.7 L1113.1,198.3 L1113.9,198.9 L1114.7,199.5 L1115.3,200.2 L1116.0,201.0 L1116.6,201.8 L1117.2,202.6 L1117.8,203.5 L1118.3,204.3 L1118.7,205.2 L1119.1,206.1 L1119.5,207.0 L1119.8,208.0 L1120.1,208.9 L1120.5,209.9 L1120.8,210.8 L1121.1,211.8 L1121.4,212.7 L1121.8,213.7 L1122.2,214.6 L1122.6,215.7 L1123.0,216.9 L1123.4,218.1 L1123.8,219.2 L1124.3,220.2 L1124.8,220.9 L1125.3,221.4 L1125.8,221.4 L1126.6,220.9 L1127.4,220.0 L1128.0,219.1 L1128.4,218.3 L1128.6,217.4 L1128.9,216.5 L1129.1,215.5 L1129.3,214.6 L1129.5,213.5 L1129.6,212.5 L1129.8,211.5 L1129.9,210.4 L1130.1,209.4 L1130.2,208.4 L1130.4,207.4 L1130.6,206.4 L1130.8,205.4 L1131.0,204.4 L1131.2,203.4 L1131.4,202.5 L1131.6,201.5 L1131.8,200.5 L1132.0,199.5 L1132.2,198.5 L1132.4,197.6 L1132.6,196.6 L1132.8,195.6 L1132.9,194.6 L1133.1,193.6 L1133.3,192.6 L1133.4,191.6 L1133.5,190.7 L1133.7,189.7 L1133.8,188.7 L1133.9,187.7 L1134.0,186.7 L1134.2,185.7 L1134.3,184.7 L1134.4,183.7 L1134.6,182.7 L1134.7,181.7 L1134.9,180.7 L1135.0,179.7 L1135.2,178.8 L1135.3,177.8 L1135.5,176.8 L1135.7,175.8 L1135.9,174.8 L1136.1,173.8 L1136.3,172.9 L1136.6,171.9 L1136.9,170.9 L1137.2,169.9 L1137.6,169.1 L1138.4,168.5 L1139.2,169.2 L1139.6,170.0 L1139.9,171.0 L1140.2,172.0 L1140.4,173.0 L1140.6,174.0 L1140.8,175.0 L1141.0,176.0 L1141.2,176.9 L1141.3,177.9 L1141.5,178.9 L1141.6,179.9 L1141.8,180.9 L1141.9,181.9 L1142.1,182.9 L1142.2,183.9 L1142.3,184.9 L1142.5,185.8 L1142.6,186.8 L1142.7,187.8 L1142.9,188.8 L1143.0,189.8 L1143.1,190.8 L1143.2,191.8 L1143.3,192.8 L1143.5,193.8 L1143.6,194.8 L1143.7,195.8 L1143.8,196.8 L1143.9,197.8 L1144.1,198.8 L1144.2,199.8 L1144.3,200.7 L1144.4,201.7 L1144.5,202.7 L1144.7,203.7 L1144.8,204.7 L1144.9,205.7 L1145.1,206.7 L1145.2,207.7 L1145.3,208.7 L1145.5,209.7 L1145.6,210.7 L1145.8,211.6 L1145.9,212.6 L1146.1,213.6 L1146.2,214.6 L1146.4,215.6 L1146.5,216.6 L1146.7,217.6 L1146.8,218.6 L1147.0,219.6 L1147.1,220.5 L1147.3,221.5 L1147.4,222.5 L1147.6,223.5 L1147.7,224.5 L1147.9,225.5 L1148.0,226.5 L1148.2,227.5 L1148.3,228.5 L1148.5,229.4 L1148.6,230.4 L1148.8,231.4 L1148.9,232.4 L1149.0,233.4 L1149.2,234.4 L1149.3,235.4 L1149.5,236.4 L1149.6,237.4 L1149.7,238.4 L1149.9,239.4 L1150.0,240.3 L1150.1,241.3 L1150.3,242.3 L1150.4,243.3 L1150.5,244.3 L1150.7,245.3 L1150.8,246.3 L1150.9,247.3 L1151.1,248.3 L1151.2,249.3 L1151.3,250.3 L1151.5,251.3 L1151.6,252.2 L1151.7,253.2 L1151.8,254.2 L1152.0,255.2 L1152.1,256.2 L1152.2,257.2 L1152.3,258.2 L1152.5,259.2 L1152.6,260.2 L1152.7,261.2 L1152.8,262.2 L1152.9,263.2 L1153.0,264.2 L1153.2,265.1 L1153.3,266.1 L1153.4,267.1 L1153.5,268.1 L1153.6,269.1 L1153.7,270.1 L1153.8,271.1 L1153.9,272.1 L1154.0,273.1 L1154.1,274.1 L1154.2,275.1 L1154.3,276.1 L1154.4,277.1 L1154.5,278.1 L1154.6,279.1 L1154.7,280.1 L1154.8,281.1 L1154.9,282.1 L1155.0,283.1 L1155.1,284.1 L1155.2,285.0 L1155.3,286.0 L1155.4,287.0 L1155.5,288.0 L1155.6,289.0 L1155.7,290.0 L1155.8,291.0 L1155.8,292.0 L1155.9,293.0 L1156.0,294.0 L1156.1,295.0 L1156.2,296.0 L1156.3,297.0 L1156.4,298.0 L1156.5,299.0 L1156.6,300.0 L1156.7,301.0 L1156.8,302.0 L1156.9,303.0 L1157.0,304.0 L1157.1,305.0 L1157.3,306.0 L1157.4,306.9 L1157.5,307.9 L1157.6,308.9 L1157.7,309.9 L1157.8,310.9 L1157.9,311.9 L1158.0,312.9 L1158.1,313.9 L1158.2,314.9 L1158.3,315.9 L1158.4,316.9 L1158.5,317.9 L1158.6,318.9 L1158.7,319.9 L1158.8,320.9 L1158.9,321.9 L1159.0,322.9 L1159.1,323.9 L1159.3,324.9 L1159.4,325.8 L1159.5,326.8 L1159.6,327.8 L1159.7,328.8 L1159.8,329.8 L1159.9,330.8 L1160.0,331.8 L1160.2,332.8 L1160.3,333.8 L1160.4,334.8 L1160.5,335.8 L1160.6,336.8 L1160.8,337.8 L1160.9,338.8 L1161.0,339.7 L1161.1,340.7 L1161.3,341.7 L1161.4,342.7 L1161.5,343.7 L1161.6,344.7 L1161.8,345.7 L1161.9,346.7 L1162.0,347.7 L1162.1,348.7 L1162.3,349.7 L1162.4,350.7 L1162.5,351.7 L1162.6,352.7 L1162.7,353.6 L1162.9,354.6 L1163.0,355.6 L1163.1,356.6 L1163.2,357.6 L1163.3,358.6 L1163.4,359.6 L1163.6,360.6 L1163.7,361.6 L1163.8,362.6 L1163.9,363.6 L1164.0,364.6 L1164.2,365.6 L1164.3,366.6 L1164.4,367.6 L1164.5,368.5 L1164.6,369.5 L1164.7,370.5 L1164.9,371.5 L1165.0,372.5 L1165.1,373.5 L1165.2,374.5 L1165.3,375.5 L1165.4,376.5 L1165.5,377.5 L1165.7,378.5 L1165.8,379.5 L1165.9,380.5 L1166.0,381.5 L1166.1,382.5 L1166.2,383.5 L1166.3,384.4 L1166.4,385.4 L1166.6,386.4 L1166.7,387.4 L1166.8,388.4 L1166.9,389.4 L1167.0,390.4 L1167.1,391.4 L1167.2,392.4 L1167.4,393.4 L1167.5,394.4 L1167.6,395.4 L1167.7,396.4 L1167.8,397.4 L1167.9,398.4 L1168.1,399.3 L1168.2,400.3 L1168.3,401.3 L1168.4,402.3 L1168.5,403.3 L1168.7,404.3 L1168.8,405.3 L1168.9,406.3 L1169.0,407.3 L1169.1,408.3 L1169.3,409.3 L1169.4,410.3 L1169.5,411.3 L1169.6,412.3 L1169.8,413.2 L1169.9,414.2 L1170.0,415.2 L1170.1,416.2 L1170.2,417.2 L1170.4,418.2 L1170.5,419.2 L1170.6,420.2 L1170.7,421.2 L1170.9,422.2 L1171.0,423.2 L1171.1,424.2 L1171.3,425.2 L1171.4,426.1 L1171.5,427.1 L1171.6,428.1 L1171.8,429.1 L1171.9,430.1 L1172.0,431.1 L1172.2,432.1 L1172.3,433.1 L1172.4,434.1 L1172.5,435.1 L1172.7,436.1 L1172.8,437.1 L1172.9,438.1 L1173.1,439.0 L1173.2,440.0 L1173.3,441.0 L1173.5,442.0 L1173.6,443.0 L1173.7,444.0 L1173.9,445.0 L1174.0,446.0 L1174.1,447.0 L1174.3,448.0 L1174.4,449.0 L1174.5,449.9 L1174.7,450.9 L1174.8,451.9 L1175.0,452.9 L1175.1,453.9 L1175.3,454.9 L1175.4,455.9 L1175.6,456.9 L1175.7,457.9 L1175.9,458.8 L1176.0,459.8 L1176.2,460.8 L1176.4,461.8 L1176.5,462.8 L1176.7,463.8 L1176.9,464.8 L1177.1,465.7 L1177.3,466.7 L1177.4,467.7 L1177.6,468.7 L1177.8,469.7 L1178.0,470.7 L1178.1,471.7 L1178.3,472.6 L1178.5,473.6 L1178.6,474.6 L1178.8,475.6 L1178.9,476.6 L1179.0,477.6 L1179.2,478.6 L1179.3,479.6 L1179.4,480.6 L1179.5,481.6 L1179.6,482.6 L1179.7,483.5 L1179.8,484.5 L1179.9,485.5 L1180.0,486.5 L1180.1,487.5 L1180.2,488.5 L1180.2,489.5 L1180.3,490.5 L1180.4,491.5 L1180.5,492.5 L1180.6,493.5 L1180.7,494.5 L1180.7,495.5 L1180.8,496.5 L1180.9,497.5 L1181.0,498.5 L1181.1,499.5 L1181.2,500.5 L1181.3,501.5 L1181.5,502.5 L1181.6,503.5 L1181.7,504.5 L1181.9,505.4 L1182.0,506.4 L1182.2,507.4 L1182.3,508.4 L1182.5,509.4 L1182.7,510.4 L1182.9,511.4 L1183.0,512.3 L1183.2,513.3 L1183.4,514.3 L1183.6,515.3 L1183.8,516.3 L1184.0,517.3 L1184.2,518.2 L1184.4,519.2 L1184.7,520.2 L1184.9,521.2 L1185.1,522.1 L1185.3,523.1 L1185.5,524.1 L1185.7,525.1 L1185.9,526.1 L1186.2,527.0 L1186.4,528.0 L1186.6,529.0 L1186.8,530.0 L1187.1,530.9 L1187.3,531.9 L1187.6,532.9 L1187.8,533.8 L1188.1,534.8 L1188.4,535.8 L1188.7,536.7 L1188.9,537.7 L1189.2,538.6 L1189.6,539.6 L1189.9,540.5 L1190.2,541.5 L1190.6,542.4 L1190.9,543.3 L1191.3,544.3 L1191.7,545.2 L1192.1,546.1 L1192.5,547.0 L1192.8,548.0 L1193.2,548.9 L1193.6,549.9 L1194.0,550.9 L1194.5,551.8 L1194.9,552.7 L1195.4,553.5 L1196.0,554.3 L1196.6,554.9 L1197.4,555.5 L1198.3,556.0 L1199.2,556.4 L1200.1,556.9 L1201.0,557.4 L1201.9,558.0 L1202.7,558.6 L1203.5,559.2 L1204.3,559.8 L1205.2,560.3 L1206.1,560.6 L1207.2,560.9 L1208.3,561.1 L1209.2,561.3 L1209.7,561.3 L1210.1,560.9 L1210.5,560.2 L1210.8,559.3 L1211.0,558.2 L1211.2,557.0 L1211.4,555.7 L1211.6,554.4 L1211.8,553.2 L1212.0,552.1 L1212.1,551.1 L1212.3,550.2 L1212.4,549.2 L1212.6,548.2 L1212.7,547.2 L1212.8,546.2 L1213.0,545.2 L1213.1,544.2 L1213.2,543.2 L1213.3,542.2 L1213.4,541.2 L1213.5,540.2 L1213.6,539.2 L1213.8,538.2 L1213.9,537.2 L1214.0,536.2 L1214.1,535.2 L1214.2,534.3 L1214.3,533.3 L1214.4,532.3 L1214.6,531.3 L1214.7,530.3 L1214.8,529.3 L1214.9,528.3 L1215.0,527.3 L1215.2,526.3 L1215.3,525.3 L1215.4,524.3 L1215.5,523.3 L1215.6,522.3 L1215.7,521.3 L1215.8,520.3 L1216.0,519.3 L1216.1,518.4 L1216.2,517.4 L1216.3,516.4 L1216.4,515.4 L1216.6,514.4 L1216.7,513.4 L1216.8,512.4 L1216.9,511.4 L1217.1,510.4 L1217.2,509.4 L1217.3,508.4 L1217.5,507.4 L1217.6,506.4 L1217.7,505.5 L1217.9,504.5 L1218.0,503.5 L1218.2,502.5 L1218.4,501.5 L1218.5,500.5 L1218.7,499.5 L1218.9,498.6 L1219.1,497.6 L1219.3,496.6 L1219.5,495.6 L1219.7,494.6 L1219.9,493.7 L1220.1,492.7 L1220.3,491.7 L1220.5,490.7 L1220.7,489.8 L1220.9,488.8 L1221.1,487.8 L1221.4,486.8 L1221.6,485.8 L1221.8,484.9 L1222.0,483.9 L1222.2,482.9 L1222.4,481.9 L1222.7,481.0 L1222.9,480.0 L1223.1,479.0 L1223.3,478.0 L1223.5,477.0 L1223.7,476.0 L1223.9,475.1 L1224.0,474.1 L1224.2,473.1 L1224.4,472.1 L1224.6,471.1 L1224.7,470.1 L1224.9,469.2 L1225.1,468.2 L1225.3,467.2 L1225.4,466.2 L1225.6,465.2 L1225.8,464.2 L1225.9,463.2 L1226.1,462.3 L1226.2,461.3 L1226.4,460.3 L1226.6,459.3 L1226.7,458.3 L1226.9,457.3 L1227.0,456.3 L1227.2,455.3 L1227.4,454.4 L1227.5,453.4 L1227.7,452.4 L1227.8,451.4 L1228.0,450.4 L1228.1,449.4 L1228.3,448.4 L1228.4,447.4 L1228.6,446.5 L1228.7,445.5 L1228.9,444.5 L1229.1,443.5 L1229.2,442.5 L1229.4,441.5 L1229.5,440.5 L1229.6,439.5 L1229.8,438.5 L1229.9,437.6 L1230.1,436.6 L1230.2,435.6 L1230.4,434.6 L1230.5,433.6 L1230.7,432.6 L1230.8,431.6 L1231.0,430.6 L1231.1,429.6 L1231.2,428.6 L1231.4,427.7 L1231.5,426.7 L1231.7,425.7 L1231.8,424.7 L1231.9,423.7 L1232.1,422.7 L1232.2,421.7 L1232.4,420.7 L1232.5,419.7 L1232.6,418.7 L1232.8,417.7 L1232.9,416.8 L1233.0,415.8 L1233.2,414.8 L1233.3,413.8 L1233.4,412.8 L1233.6,411.8 L1233.7,410.8 L1233.8,409.8 L1234.0,408.8 L1234.1,407.8 L1234.2,406.8 L1234.4,405.9 L1234.5,404.9 L1234.6,403.9 L1234.8,402.9 L1234.9,401.9 L1235.0,400.9 L1235.2,399.9 L1235.3,398.9 L1235.4,397.9 L1235.6,396.9 L1235.7,395.9 L1235.8,394.9 L1235.9,393.9 L1236.1,393.0 L1236.2,392.0 L1236.3,391.0 L1236.4,390.0 L1236.5,389.0 L1236.7,388.0 L1236.8,387.0 L1236.9,386.0 L1237.1,385.0 L1237.2,384.0 L1237.3,383.0 L1237.5,382.0 L1237.6,381.0 L1237.7,380.1 L1237.9,379.1 L1238.0,378.1 L1238.2,377.1 L1238.3,376.1 L1238.5,375.1 L1238.7,374.1 L1238.9,373.2 L1239.0,372.2 L1239.2,371.2 L1239.4,370.2 L1239.6,369.2 L1239.8,368.2 L1240.0,367.2 L1240.2,366.2 L1240.4,365.2 L1240.6,364.2 L1240.8,363.2 L1241.1,362.3 L1241.3,361.3 L1241.6,360.4 L1241.9,359.4 L1242.2,358.5 L1242.6,357.6 L1243.0,356.5 L1243.4,355.5 L1243.9,354.4 L1244.5,353.5 L1245.1,352.8 L1245.7,352.3 L1246.5,352.0 L1247.4,351.8 L1248.5,351.7 L1249.6,351.7 L1250.5,351.8 L1251.4,352.2 L1252.3,352.7 L1253.1,353.4 L1253.9,354.1 L1254.7,354.7 L1255.4,355.4 L1256.1,356.1 L1256.7,356.9 L1257.3,357.7 L1257.9,358.5 L1258.5,359.4 L1259.1,360.2 L1259.6,361.0 L1260.1,361.9 L1260.6,362.8 L1261.1,363.6 L1261.6,364.5 L1262.1,365.4 L1262.5,366.3 L1263.0,367.2 L1263.5,368.1 L1264.0,368.9 L1264.6,369.7 L1265.2,370.6 L1265.7,371.5 L1266.3,372.4 L1266.9,373.3 L1267.6,374.1 L1268.3,374.7 L1269.0,375.2 L1269.8,375.6 L1270.8,375.9 L1271.9,376.2 L1272.9,376.4 L1273.8,376.4 L1274.6,376.1 L1275.4,375.5 L1276.2,374.6 L1276.9,373.8 L1277.5,372.9 L1278.0,372.1 L1278.5,371.3 L1279.0,370.5 L1279.4,369.6 L1279.8,368.7 L1280.2,367.7 L1280.6,366.8 L1281.0,365.8 L1281.3,364.8 L1281.7,363.9 L1282.0,362.9 L1282.4,362.0 L1282.8,361.1 L1283.1,360.1 L1283.5,359.2 L1283.9,358.3 L1284.2,357.3 L1284.6,356.4 L1284.9,355.4 L1285.2,354.5 L1285.6,353.6 L1285.9,352.6 L1286.3,351.7 L1286.6,350.7 L1287.0,349.8 L1287.3,348.9 L1287.7,347.9 L1288.0,347.0 L1288.4,346.0 L1288.7,345.1 L1288.9,344.1 L1289.2,343.2 L1289.4,342.2 L1289.6,341.2 L1289.8,340.2 L1289.9,339.3 L1290.1,338.3 L1290.3,337.3 L1290.4,336.3 L1290.5,335.3 L1290.7,334.3 L1290.8,333.3 L1290.9,332.3 L1291.0,331.3 L1291.2,330.3 L1291.3,329.3 L1291.4,328.3 L1291.6,327.3 L1291.7,326.3 L1291.9,325.4 L1292.0,324.4 L1292.2,323.4 L1292.4,322.4 L1292.5,321.4 L1292.7,320.4 L1292.9,319.5 L1293.1,318.5 L1293.3,317.5 L1293.5,316.5 L1293.7,315.5 L1293.9,314.6 L1294.2,313.6 L1294.4,312.6 L1294.6,311.6 L1294.8,310.6 L1295.0,309.7 L1295.3,308.7 L1295.5,307.7 L1295.7,306.8 L1296.0,305.8 L1296.2,304.8 L1296.5,303.8 L1296.7,302.9 L1297.0,301.9 L1297.2,300.9 L1297.5,300.0 L1297.8,299.0 L1298.0,298.0 L1298.3,297.1 L1298.6,296.1 L1298.9,295.2 L1299.2,294.2 L1299.5,293.2 L1299.8,292.3 L1300.1,291.3 L1300.4,290.4 L1300.7,289.4 L1301.0,288.5 L1301.4,287.6 L1301.7,286.6 L1302.1,285.7 L1302.5,284.8 L1302.8,283.9 L1303.2,282.9 L1303.6,282.0 L1304.0,281.1 L1304.4,280.2 L1304.8,279.2 L1305.2,278.3 L1305.5,277.4 L1305.9,276.4 L1306.2,275.5 L1306.6,274.6 L1306.9,273.6 L1307.2,272.7 L1307.6,271.7 L1307.9,270.8 L1308.3,269.9 L1308.6,268.9 L1309.0,268.0 L1309.4,267.1 L1309.8,266.2 L1310.3,265.3 L1310.8,264.4 L1311.2,263.5 L1311.7,262.6 L1312.2,261.7 L1312.6,260.8 L1313.0,259.9 L1313.4,259.0 L1313.7,258.1 L1314.0,257.1 L1314.3,256.1 L1314.7,255.2 L1315.0,254.2 L1315.3,253.3 L1315.7,252.4 L1316.1,251.4 L1316.5,250.6 L1317.0,249.7 L1317.5,248.9 L1318.1,248.0 L1318.7,247.2 L1319.3,246.4 L1319.9,245.6 L1320.5,244.8 L1321.1,244.0 L1321.7,243.2 L1322.3,242.4 L1323.0,241.7 L1323.7,241.0 L1324.4,240.3 L1325.2,239.7 L1326.1,239.1 L1326.9,238.6 L1327.7,238.0 L1328.5,237.4 L1329.2,236.7 L1329.9,235.9 L1330.5,235.2 L1331.2,234.4 L1331.8,233.6 L1332.4,232.8 L1333.0,232.0 L1333.5,231.1 L1334.0,230.3 L1334.5,229.4 L1335.0,228.6 L1335.5,227.7 L1336.0,226.8 L1336.4,225.9 L1336.9,225.0 L1337.3,224.0 L1337.7,223.1 L1338.0,222.2 L1338.4,221.3 L1338.7,220.3 L1339.1,219.4 L1339.4,218.5 L1339.7,217.5 L1339.9,216.5 L1340.2,215.6 L1340.5,214.6 L1340.8,213.6 L1341.0,212.7 L1341.3,211.7 L1341.6,210.7 L1341.8,209.8 L1342.1,208.8 L1342.4,207.9 L1342.7,206.9 L1343.0,205.9 L1343.3,205.0 L1343.6,204.0 L1343.8,203.1 L1344.1,202.1 L1344.4,201.2 L1344.7,200.2 L1345.0,199.2 L1345.3,198.3 L1345.6,197.3 L1345.9,196.4 L1346.1,195.4 L1346.4,194.4 L1346.7,193.5 L1347.0,192.5 L1347.3,191.6 L1347.6,190.6 L1347.8,189.6 L1348.1,188.7 L1348.4,187.7 L1348.7,186.8 L1349.0,185.8 L1349.3,184.9 L1349.6,183.9 L1349.9,183.0 L1350.3,182.0 L1350.6,181.1 L1350.9,180.1 L1351.3,179.2 L1351.6,178.3 L1352.0,177.3 L1352.3,176.4 L1352.6,175.4 L1353.0,174.5 L1353.3,173.5 L1353.6,172.6 L1353.9,171.6 L1354.2,170.7 L1354.5,169.7 L1354.8,168.8 L1355.0,167.8 L1355.3,166.8 L1355.6,165.9 L1355.8,164.9 L1356.1,163.9 L1356.3,162.9 L1356.6,162.0 L1356.8,161.0 L1357.1,160.0 L1357.3,159.1 L1357.6,158.1 L1357.9,157.1 L1358.2,156.2 L1358.5,155.3 L1358.8,154.3 L1359.2,153.4 L1359.6,152.5 L1360.0,151.5 L1360.4,150.6 L1360.8,149.7 L1361.3,148.8 L1361.8,147.9 L1362.3,147.1 L1362.9,146.3 L1363.5,145.5 L1364.1,144.7 L1364.8,144.0 L1365.6,143.2 L1366.4,142.6 L1367.1,142.0 L1368.0,141.5 L1368.9,141.0 L1369.8,140.5 L1370.8,140.0 L1371.8,139.7 L1372.7,139.4 L1373.6,139.4 L1374.4,139.6 L1375.1,140.2 L1375.8,141.1 L1376.5,142.0 L1377.1,142.9 L1377.8,143.6 L1378.5,144.4 L1379.2,145.1 L1379.8,145.9 L1380.5,146.7 L1381.1,147.5 L1381.6,148.3 L1382.1,149.2 L1382.6,150.0 L1383.0,150.9 L1383.4,151.8 L1383.7,152.8 L1384.1,153.7 L1384.4,154.7 L1384.7,155.6 L1385.0,156.6 L1385.3,157.6 L1385.6,158.5 L1385.9,159.5 L1386.2,160.5 L1386.4,161.5 L1386.7,162.5 L1386.9,163.5 L1387.1,164.5 L1387.3,165.5 L1387.5,166.5 L1387.7,167.5 L1388.0,168.5 L1388.3,169.4 L1388.6,170.4 L1388.9,171.2 L1389.3,172.0 L1389.9,172.9 L1390.7,173.8 L1391.4,174.5 L1392.0,174.6 L1392.5,174.2 L1393.0,173.6 L1393.4,172.7 L1393.9,171.7 L1394.3,170.5 L1394.6,169.3 L1394.9,168.1 L1395.2,166.9 L1395.5,165.9 L1395.7,165.0 L1395.9,164.0 L1396.2,163.1 L1396.4,162.1 L1396.5,161.1 L1396.7,160.1 L1396.9,159.1 L1397.0,158.2 L1397.2,157.2 L1397.4,156.2 L1397.5,155.2 L1397.6,154.2 L1397.8,153.2 L1397.9,152.2 L1398.1,151.2 L1398.2,150.2 L1398.3,149.2 L1398.5,148.2 L1398.6,147.2 L1398.8,146.2 L1398.9,145.2 L1399.1,144.2 L1399.2,143.2 L1399.4,142.2 L1399.5,141.2 L1399.7,140.1 L1399.8,139.0 L1399.9,138.0 L1400.0,136.9 L1400.1,135.8 L1400.3,134.8 L1400.4,133.8 L1400.6,132.7 L1400.7,131.7 L1400.9,130.7 L1401.1,129.8 L1401.3,128.9 L1401.5,128.0 L1401.8,127.2 L1402.1,126.4 L1402.5,125.6 L1403.2,124.7 L1404.2,124.0 L1405.0,123.6 L1405.6,123.7 L1406.1,124.2 L1406.6,125.1 L1407.0,126.2 L1407.4,127.4 L1407.8,128.6 L1408.1,129.6 L1408.3,130.6 L1408.6,131.5 L1408.8,132.5 L1409.0,133.4 L1409.2,134.4 L1409.4,135.4 L1409.6,136.4 L1409.7,137.4 L1409.9,138.4 L1410.1,139.4 L1410.2,140.4 L1410.4,141.4 L1410.5,142.4 L1410.7,143.4 L1410.8,144.3 L1411.0,145.3 L1411.2,146.3 L1411.4,147.3 L1411.5,148.3 L1411.7,149.3 L1411.9,150.3 L1412.1,151.2 L1412.3,152.2 L1412.5,153.2 L1412.7,154.2 L1412.8,155.2 L1413.0,156.2 L1413.2,157.1 L1413.4,158.1 L1413.6,159.1 L1413.8,160.1 L1413.9,161.1 L1414.1,162.1 L1414.3,163.0 L1414.5,164.0 L1414.7,165.0 L1414.9,166.0 L1415.1,167.0 L1415.2,168.0 L1415.4,168.9 L1415.6,169.9 L1415.8,170.9 L1416.0,171.9 L1416.2,172.9 L1416.4,173.9 L1416.5,174.8 L1416.7,175.8 L1416.9,176.8 L1417.1,177.8 L1417.3,178.8 L1417.5,179.8 L1417.6,180.7 L1417.8,181.7 L1418.0,182.7 L1418.1,183.7 L1418.3,184.7 L1418.5,185.7 L1418.6,186.7 L1418.8,187.6 L1418.9,188.6 L1419.1,189.6 L1419.2,190.6 L1419.4,191.6 L1419.5,192.6 L1419.7,193.6 L1419.8,194.6 L1419.9,195.6 L1420.1,196.6 L1420.2,197.5 L1420.4,198.5 L1420.6,199.5 L1420.7,200.5 L1420.9,201.5 L1421.0,202.5 L1421.2,203.5 L1421.4,204.4 L1421.6,205.4 L1421.7,206.4 L1421.9,207.4 L1422.1,208.4 L1422.3,209.4 L1422.5,210.3 L1422.7,211.3 L1422.9,212.3 L1423.1,213.3 L1423.3,214.3 L1423.4,215.3 L1423.6,216.2 L1423.8,217.2 L1424.0,218.2 L1424.2,219.2 L1424.4,220.2 L1424.6,221.2 L1424.7,222.1 L1424.9,223.1 L1425.1,224.1 L1425.2,225.1 L1425.4,226.1 L1425.6,227.1 L1425.7,228.1 L1425.9,229.0 L1426.1,230.0 L1426.2,231.0 L1426.4,232.0 L1426.6,233.0 L1426.7,234.0 L1426.9,235.0 L1427.1,235.9 L1427.2,236.9 L1427.4,237.9 L1427.5,238.9 L1427.7,239.9 L1427.9,240.9 L1428.0,241.9 L1428.2,242.9 L1428.3,243.8 L1428.5,244.8 L1428.6,245.8 L1428.8,246.8 L1428.9,247.8 L1429.1,248.8 L1429.2,249.8 L1429.4,250.8 L1429.5,251.8 L1429.7,252.7 L1429.8,253.7 L1430.0,254.7 L1430.1,255.7 L1430.3,256.7 L1430.4,257.7 L1430.6,258.7 L1430.7,259.7 L1430.9,260.7 L1431.0,261.6 L1431.2,262.6 L1431.3,263.6 L1431.4,264.6 L1431.6,265.6 L1431.7,266.6 L1431.9,267.6 L1432.0,268.6 L1432.2,269.6 L1432.3,270.6 L1432.5,271.5 L1432.6,272.5 L1432.8,273.5 L1432.9,274.5 L1433.1,275.5 L1433.2,276.5 L1433.4,277.5 L1433.5,278.5 L1433.7,279.5 L1433.8,280.4 L1434.0,281.4 L1434.1,282.4 L1434.3,283.4 L1434.4,284.4 L1434.6,285.4 L1434.7,286.4 L1434.9,287.4 L1435.0,288.4 L1435.2,289.3 L1435.3,290.3 L1435.5,291.3 L1435.6,292.3 L1435.7,293.3 L1435.9,294.3 L1436.0,295.3 L1436.2,296.3 L1436.3,297.3 L1436.4,298.3 L1436.6,299.2 L1436.7,300.2 L1436.9,301.2 L1437.0,302.2 L1437.2,303.2 L1437.3,304.2 L1437.4,305.2 L1437.6,306.2 L1437.7,307.2 L1437.8,308.2 L1438.0,309.2 L1438.1,310.1 L1438.2,311.1 L1438.4,312.1 L1438.5,313.1 L1438.6,314.1 L1438.8,315.1 L1438.9,316.1 L1439.0,317.1 L1439.1,318.1 L1439.2,319.1 L1439.3,320.1 L1439.5,321.1 L1439.6,322.1 L1439.7,323.0 L1439.8,324.0 L1439.9,325.0 L1440.0,326.0 L1440.1,327.0 L1440.2,328.0 L1440.3,329.0 L1440.4,330.0 L1440.5,331.0 L1440.6,332.0 L1440.7,333.0 L1440.8,334.0 L1440.9,335.0 L1441.0,336.0 L1441.1,337.0 L1441.3,338.0 L1441.4,339.0 L1441.5,340.0 L1441.6,341.0 L1441.7,341.9 L1441.8,342.9 L1442.0,343.9 L1442.1,344.9 L1442.2,345.9 L1442.3,346.9 L1442.5,347.9 L1442.6,348.9 L1442.7,349.9 L1442.8,350.9 L1443.0,351.9 L1443.1,352.9 L1443.2,353.9 L1443.4,354.8 L1443.5,355.8 L1443.7,356.8 L1443.8,357.8 L1443.9,358.8 L1444.1,359.8 L1444.3,360.8 L1444.4,361.8 L1444.6,362.7 L1444.8,363.7 L1444.9,364.7 L1445.1,365.7 L1445.3,366.7 L1445.5,367.7 L1445.7,368.6 L1445.9,369.6 L1446.1,370.6 L1446.3,371.6 L1446.5,372.6 L1446.7,373.6 L1446.9,374.5 L1447.0,375.5 L1447.2,376.5 L1447.4,377.5 L1447.6,378.5 L1447.8,379.4 L1448.0,380.4 L1448.2,381.4 L1448.4,382.4 L1448.5,383.4 L1448.7,384.4 L1448.9,385.3 L1449.1,386.3 L1449.3,387.3 L1449.5,388.3 L1449.6,389.3 L1449.8,390.3 L1450.0,391.2 L1450.2,392.2 L1450.4,393.2 L1450.6,394.2 L1450.7,395.2 L1450.9,396.2 L1451.1,397.1 L1451.3,398.1 L1451.5,399.1 L1451.7,400.1 L1451.8,401.1 L1452.0,402.1 L1452.2,403.0 L1452.4,404.0 L1452.5,405.0 L1452.7,406.0 L1452.9,407.0 L1453.1,408.0 L1453.3,409.0 L1453.4,409.9 L1453.6,410.9 L1453.8,411.9 L1454.0,412.9 L1454.2,413.9 L1454.4,414.9 L1454.6,415.8 L1454.8,416.8 L1455.0,417.8 L1455.2,418.8 L1455.4,419.7 L1455.6,420.7 L1455.9,421.7 L1456.1,422.7 L1456.3,423.6 L1456.6,424.6 L1456.8,425.6 L1457.1,426.5 L1457.3,427.5 L1457.6,428.5 L1457.8,429.4 L1458.1,430.4 L1458.4,431.4 L1458.6,432.3" stroke="#000" stroke-width="3.8" fill="none" stroke-linejoin="round" stroke-linecap="butt"/>
<path d="M101.9,503.0 L102.8,501.7 L103.6,501.9 L104.4,500.7 L105.3,499.4 L106.2,498.5 L107.1,498.8 L108.0,500.0 L109.0,500.4 L110.0,499.7 L110.8,500.1 L111.6,499.4 L112.4,499.8 L113.2,499.1 L114.2,500.4 L115.2,499.8 L116.1,500.4 L117.1,500.1 L118.1,501.0 L119.0,500.7 L120.0,501.0 L121.0,500.6 L121.9,501.6 L122.9,501.8 L123.9,502.4 L124.9,501.8 L125.9,501.8 L126.9,501.4 L127.7,502.0 L128.5,502.0 L129.3,502.8 L130.1,502.1 L130.9,500.2 L131.7,499.4 L132.7,500.1 L133.7,499.5 L134.7,500.9 L135.7,500.1 L136.6,500.8 L137.6,501.0 L138.6,501.4 L139.6,500.4 L140.6,501.0 L141.5,499.7 L142.5,500.2 L143.5,499.2 L144.5,499.8 L145.4,498.6 L146.4,497.4 L147.4,496.0 L148.4,496.6 L149.4,495.8 L150.3,496.5 L151.3,495.2 L152.3,497.4 L153.3,496.4 L154.3,497.1 L155.3,494.8 L156.3,495.5 L157.3,494.6 L158.3,496.8 L159.3,495.8 L160.3,496.6 L161.2,496.3 L162.2,496.9 L163.2,496.0 L164.2,496.6 L165.2,495.9 L166.2,496.4 L167.2,493.7 L168.2,494.0 L169.2,493.3 L170.2,495.0 L171.2,494.4 L172.2,494.8 L173.2,494.4 L174.2,494.9 L175.2,494.3 L176.2,496.4 L177.2,495.9 L178.2,496.6 L179.2,493.5 L180.2,494.3 L181.2,493.8 L182.2,495.6 L183.2,495.0 L184.0,495.8 L184.8,493.8 L185.6,494.3 L186.5,493.7 L187.3,495.0 L188.1,494.3 L188.9,494.8 L189.9,494.7 L190.9,495.4 L191.8,494.5 L192.7,493.9 L193.6,492.9 L194.5,493.4 L195.4,491.9 L196.3,492.2 L197.1,490.8 L197.9,490.9 L198.8,489.8 L199.7,490.0 L200.5,488.1 L201.3,490.0 L202.2,488.4 L203.1,488.3 L204.1,486.3 L205.0,484.9 L205.8,484.4 L206.6,486.3 L207.5,488.0 L208.3,490.2 L209.2,490.8 L209.9,493.2 L210.7,493.0 L211.6,495.4 L212.5,495.5 L213.4,496.3 L214.2,496.3 L215.1,497.6 L215.9,496.3 L216.8,497.5 L217.7,497.0 L218.7,497.7 L219.7,497.2 L220.5,498.0 L221.3,497.3 L222.1,498.8 L222.9,498.1 L223.8,498.9 L224.7,497.7 L225.7,498.7 L226.5,498.1 L227.4,501.5 L228.2,501.1 L229.0,501.8 L230.0,498.6 L230.9,499.4 L231.9,498.6 L232.9,499.0 L233.7,498.4 L234.7,499.1 L235.5,498.2 L235.7,499.6 L235.9,497.2 L235.9,495.8 L236.1,493.5 L236.2,492.2 L236.3,489.8 L236.4,488.8 L236.4,486.9 L236.5,485.8 L236.6,483.9 L236.6,483.0 L236.7,481.0 L236.8,480.0 L236.9,477.9 L236.9,476.8 L237.0,474.6 L237.1,473.4 L237.1,471.2 L237.2,470.0 L237.3,467.8 L237.3,466.5 L237.4,464.4 L237.4,463.5 L237.5,461.4 L237.6,460.4 L237.6,458.3 L237.7,457.5 L237.7,455.2 L237.8,454.4 L237.8,451.8 L237.9,450.8 L237.9,448.4 L238.0,447.3 L238.0,445.1 L238.1,444.0 L238.1,441.4 L238.2,440.8 L238.3,438.5 L238.3,437.7 L238.3,435.4 L238.4,434.8 L238.4,432.3 L238.5,429.9 L238.5,427.3 L238.6,426.7 L238.7,424.1 L238.7,423.3 L238.8,420.8 L238.8,419.9 L238.9,417.2 L238.9,416.6 L239.0,414.1 L239.0,413.3 L239.1,411.0 L239.1,410.2 L239.2,407.8 L239.2,407.1 L239.3,404.7 L239.4,403.8 L239.4,401.4 L239.5,400.8 L239.5,398.5 L239.6,397.5 L239.6,395.2 L239.7,394.3 L239.8,392.1 L239.8,391.2 L239.9,388.9 L239.9,388.0 L240.0,385.8 L240.0,384.8 L240.1,382.4 L240.1,381.4 L240.2,379.3 L240.3,378.3 L240.3,376.2 L240.4,375.1 L240.4,373.1 L240.5,372.1 L240.5,369.9 L240.5,368.8 L240.6,366.8 L240.6,365.7 L240.7,363.5 L240.7,362.6 L240.8,360.4 L240.8,359.3 L240.9,356.8 L241.0,355.7 L241.1,353.3 L241.2,352.3 L241.3,349.7 L241.5,348.6 L242.5,347.7 L243.1,350.0 L243.2,351.0 L243.3,353.3 L243.4,354.2 L243.4,356.7 L243.5,357.8 L243.6,360.4 L243.6,361.0 L243.6,363.3 L243.7,364.2 L243.7,366.5 L243.7,367.2 L243.8,369.6 L243.8,370.2 L243.8,372.8 L243.8,373.5 L243.9,375.7 L243.9,376.7 L244.0,378.9 L244.0,380.0 L244.0,382.3 L244.1,383.1 L244.1,385.5 L244.2,386.4 L244.2,388.8 L244.2,389.8 L244.3,392.0 L244.3,392.9 L244.4,395.3 L244.4,396.2 L244.4,398.6 L244.5,399.3 L244.5,401.6 L244.6,402.4 L244.6,404.5 L244.6,405.4 L244.7,407.6 L244.7,408.4 L244.8,410.7 L244.8,411.7 L244.8,414.3 L244.9,415.3 L244.9,417.8 L245.0,418.6 L245.0,421.5 L245.0,422.2 L245.1,424.5 L245.1,425.3 L245.2,427.6 L245.2,428.4 L245.2,431.0 L245.3,431.3 L245.3,433.9 L245.4,434.5 L245.4,437.2 L245.4,437.7 L245.5,440.4 L245.5,440.9 L245.6,443.5 L245.6,444.3 L245.6,446.8 L245.7,447.4 L245.7,449.9 L245.8,450.9 L245.8,453.4 L245.8,454.1 L245.9,456.7 L245.9,457.5 L246.0,460.0 L246.0,460.6 L246.0,463.0 L246.1,463.9 L246.1,466.2 L246.1,467.1 L246.2,469.3 L246.2,470.3 L246.3,472.5 L246.3,473.4 L246.3,475.7 L246.4,476.5 L246.4,478.8 L246.5,479.7 L246.5,482.2 L246.6,483.3 L246.6,485.7 L246.7,486.6 L246.8,488.9 L246.8,489.7 L246.9,491.9 L247.0,492.9 L247.0,495.2 L247.1,496.1 L247.2,498.4 L247.2,499.6 L247.3,501.7 L247.4,502.9 L247.5,505.1 L247.6,506.2 L247.7,508.3 L247.8,509.6 L248.0,511.9 L248.2,513.2 L248.3,515.6 L248.5,516.6 L248.7,519.0 L249.0,520.2 L249.4,522.6 L249.8,524.9 L250.3,527.1 L251.2,527.3 L252.0,526.7 L252.6,523.7 L253.2,522.9 L253.8,520.8 L254.4,520.1 L255.0,517.9 L255.6,515.8 L256.3,513.7 L257.0,513.0 L257.9,510.8 L258.8,510.3 L259.7,508.4 L260.5,508.1 L261.4,507.8 L262.3,507.7 L263.2,506.2 L264.2,506.1 L265.1,504.7 L266.0,504.6 L267.0,501.6 L267.8,501.9 L268.6,500.3 L269.5,500.4 L270.3,499.8 L271.2,500.1 L272.1,498.5 L272.9,499.5 L273.8,498.1 L274.7,498.4 L275.6,495.7 L276.5,496.3 L277.4,495.0 L278.3,496.9 L279.2,495.4 L280.1,496.2 L281.0,494.9 L281.9,496.5 L282.8,495.5 L283.7,496.0 L284.6,492.2 L285.5,492.8 L286.4,491.2 L287.2,492.2 L288.0,490.7 L288.8,491.2 L289.8,489.8 L290.7,490.0 L291.6,488.2 L292.5,488.3 L293.4,487.2 L294.3,487.2 L295.2,485.4 L296.0,484.9 L296.9,483.2 L297.7,483.4 L298.5,482.3 L299.4,482.5 L300.2,481.0 L301.1,481.1 L301.9,477.5 L302.8,477.6 L303.7,475.7 L304.5,478.0 L305.4,476.2 L306.4,476.2 L307.3,472.7 L308.2,473.2 L309.1,471.8 L310.0,474.9 L311.0,473.7 L311.9,474.5 L312.9,472.5 L313.7,473.6 L314.7,473.2 L315.6,475.7 L316.5,475.6 L317.3,477.1 L318.2,477.6 L318.9,479.8 L319.6,480.6 L320.4,482.7 L321.2,483.5 L321.9,482.9 L322.6,483.7 L323.3,485.9 L324.1,486.6 L324.8,488.8 L325.6,489.5 L326.3,491.6 L327.0,495.1 L327.7,497.6 L328.2,498.2 L328.6,500.8 L329.1,501.4 L329.6,504.2 L330.1,503.7 L330.8,506.3 L331.5,506.9 L332.3,509.2 L333.1,508.9 L334.0,511.4 L334.8,511.6 L335.7,513.4 L336.6,513.2 L337.4,514.8 L338.2,514.7 L339.1,516.7 L340.0,516.3 L341.0,517.6 L341.9,518.1 L342.7,519.3 L343.5,518.5 L344.4,517.0 L345.2,516.3 L346.2,517.2 L347.1,516.3 L348.0,517.0 L348.9,515.8 L349.8,516.1 L350.7,515.2 L351.6,515.4 L352.4,514.1 L353.3,516.2 L354.1,514.8 L355.0,515.0 L355.8,513.8 L356.6,513.9 L357.5,512.6 L358.3,512.7 L359.1,509.5 L359.9,509.6 L360.8,508.3 L361.6,508.4 L362.4,507.0 L363.2,507.3 L364.1,505.8 L364.9,506.1 L365.7,504.6 L366.6,504.8 L367.4,504.1 L368.3,504.5 L369.2,503.1 L370.0,503.4 L370.9,502.0 L371.8,502.4 L372.7,501.2 L373.6,501.6 L374.6,500.8 L375.5,501.2 L376.5,501.8 L377.5,502.5 L378.3,501.7 L379.1,502.3 L379.9,501.5 L380.7,502.0 L381.5,501.4 L382.5,501.9 L383.5,501.3 L384.5,501.7 L385.5,500.6 L386.3,501.1 L387.1,500.5 L387.9,499.7 L388.7,499.0 L389.5,499.5 L390.3,498.3 L391.1,498.7 L391.9,498.1 L392.7,498.7 L393.5,498.9 L394.3,499.4 L395.1,499.2 L396.0,501.6 L396.8,501.2 L397.6,501.8 L398.4,501.2 L399.2,501.8 L400.0,501.5 L401.0,501.9 L402.0,500.9 L403.0,501.4 L403.9,501.1 L404.9,501.0 L405.9,500.3 L406.9,500.8 L407.9,500.6 L408.9,501.0 L409.8,500.3 L410.8,500.6 L411.8,499.8 L412.8,500.1 L413.8,497.4 L414.7,497.7 L415.7,496.9 L416.7,497.3 L417.7,496.4 L418.6,496.6 L419.6,497.1 L420.6,497.4 L421.6,496.7 L422.6,497.1 L423.6,496.5 L424.5,496.9 L425.5,496.2 L426.5,496.7 L427.5,496.1 L428.3,498.0 L429.1,497.3 L429.9,497.8 L430.8,497.3 L431.6,496.5 L432.4,495.9 L433.2,496.3 L434.2,494.5 L435.2,494.9 L436.1,494.3 L437.1,496.7 L438.1,496.0 L439.1,496.3 L440.1,495.0 L441.1,495.5 L442.1,494.7 L443.1,493.9 L444.1,493.2 L445.1,494.0 L446.1,493.9 L447.1,494.8 L448.1,494.0 L449.1,496.8 L449.9,495.9 L450.7,496.7 L451.5,496.1 L452.3,494.2 L453.1,493.7 L453.9,494.4 L454.7,495.7 L455.5,496.3 L456.3,495.8 L457.1,496.6 L457.9,494.9 L458.7,496.0 L459.5,495.1 L460.3,494.6 L461.1,493.9 L461.9,494.8 L462.7,493.8 L463.5,497.4 L464.3,496.4 L465.1,497.6 L465.9,495.0 L466.9,496.0 L467.9,495.0 L468.9,496.4 L469.7,495.6 L470.5,496.4 L471.3,495.3 L472.2,496.1 L473.0,495.1 L473.8,496.0 L474.6,493.1 L475.5,493.8 L476.3,493.0 L477.2,496.4 L478.2,495.3 L479.1,496.0 L479.9,494.6 L480.8,494.9 L481.7,493.1 L482.6,493.1 L483.5,489.2 L484.4,489.1 L485.3,487.2 L486.2,486.4 L487.1,484.7 L488.0,485.2 L488.8,484.1 L489.8,485.3 L490.6,484.6 L491.4,485.9 L492.4,485.2 L493.2,487.0 L494.1,487.3 L494.9,490.6 L495.7,490.9 L496.6,493.0 L497.4,493.4 L498.2,495.4 L499.0,495.3 L500.0,497.4 L500.8,498.2 L501.8,499.5 L502.7,498.7 L503.6,500.1 L504.6,499.5 L505.4,500.7 L506.3,499.2 L507.1,500.6 L507.9,499.8 L508.9,500.9 L509.9,500.0 L510.9,501.1 L511.9,501.0 L512.7,502.1 L513.5,501.4 L514.3,502.2 L515.1,500.9 L516.1,501.5 L516.9,500.7 L517.7,502.8 L518.5,501.9 L519.5,502.7 L520.5,499.9 L521.3,500.8 L521.8,498.1 L521.9,497.2 L522.0,494.7 L522.1,493.7 L522.2,491.3 L522.3,490.4 L522.4,488.0 L522.5,487.3 L522.6,485.0 L522.6,484.3 L522.7,481.8 L522.8,481.0 L522.9,478.5 L522.9,477.6 L523.1,474.9 L523.2,474.1 L523.3,472.9 L523.4,472.2 L523.5,469.9 L523.6,469.0 L523.7,466.5 L523.8,465.8 L523.9,463.2 L524.0,462.4 L524.0,459.8 L524.1,458.5 L524.2,456.3 L524.2,455.3 L524.3,453.0 L524.3,452.1 L524.4,449.7 L524.4,448.7 L524.4,446.3 L524.5,445.4 L524.5,442.8 L524.6,441.8 L524.6,439.3 L524.7,438.6 L524.7,435.9 L524.8,435.0 L524.8,432.7 L524.9,431.9 L524.9,429.4 L525.0,428.8 L525.0,426.2 L525.1,425.4 L525.1,423.2 L525.2,422.3 L525.2,420.0 L525.3,419.3 L525.3,417.1 L525.4,416.5 L525.4,413.9 L525.5,413.4 L525.6,411.1 L525.6,410.5 L525.7,408.0 L525.7,407.4 L525.8,405.1 L525.8,404.3 L525.9,401.7 L526.0,401.3 L526.0,398.6 L526.1,397.1 L526.1,394.8 L526.2,394.1 L526.2,391.5 L526.3,390.6 L526.4,388.1 L526.4,387.4 L526.5,385.0 L526.5,384.0 L526.5,381.7 L526.6,380.8 L526.6,378.4 L526.7,377.7 L526.7,375.4 L526.8,374.3 L526.8,372.1 L526.8,371.2 L526.9,368.7 L527.0,367.6 L527.1,365.0 L527.2,364.0 L527.3,361.4 L527.4,360.7 L527.6,358.1 L528.6,358.5 L529.2,359.1 L529.3,361.9 L529.4,362.8 L529.5,365.5 L529.5,366.1 L529.6,368.9 L529.7,369.9 L529.7,372.4 L529.7,373.1 L529.8,375.3 L529.8,376.1 L529.8,378.6 L529.9,379.2 L529.9,381.8 L529.9,382.7 L529.9,385.0 L530.0,385.7 L530.0,388.2 L530.1,389.0 L530.1,391.1 L530.1,391.8 L530.2,394.3 L530.2,395.0 L530.3,397.2 L530.3,398.1 L530.3,400.5 L530.4,401.4 L530.4,404.2 L530.5,404.9 L530.5,407.6 L530.5,408.4 L530.6,410.9 L530.6,411.6 L530.7,414.3 L530.7,414.9 L530.7,417.3 L530.8,418.0 L530.8,420.6 L530.9,421.3 L530.9,423.9 L530.9,424.5 L531.0,426.7 L531.0,427.3 L531.1,429.7 L531.1,430.2 L531.1,432.5 L531.2,433.2 L531.2,435.7 L531.3,436.8 L531.3,439.2 L531.3,440.2 L531.4,442.9 L531.4,443.9 L531.5,446.4 L531.5,447.5 L531.5,449.8 L531.6,450.5 L531.6,452.8 L531.7,453.3 L531.7,456.4 L531.7,457.2 L531.8,459.5 L531.8,460.0 L531.9,462.5 L531.9,463.1 L531.9,465.6 L532.0,466.2 L532.0,468.7 L532.1,469.4 L532.1,471.7 L532.1,472.6 L532.2,474.6 L532.2,475.6 L532.2,477.8 L532.3,478.6 L532.3,480.9 L532.3,481.6 L532.4,484.1 L532.4,485.0 L532.5,487.5 L532.5,488.6 L532.6,491.2 L532.6,492.4 L532.7,495.0 L532.7,496.3 L532.8,498.8 L532.9,499.5 L533.0,501.9 L533.1,502.9 L533.2,505.1 L533.3,506.0 L533.4,508.4 L533.6,509.2 L533.7,511.5 L533.9,512.1 L534.1,514.6 L534.3,515.3 L534.5,518.4 L534.8,519.3 L535.1,521.6 L535.4,522.8 L535.8,525.1 L536.3,526.1 L536.9,528.1 L537.7,525.3 L538.4,524.5 L538.9,522.5 L539.5,521.6 L540.1,519.4 L540.7,520.6 L541.4,518.7 L542.1,517.9 L542.8,516.0 L543.6,514.5 L544.4,512.5 L545.3,511.6 L546.2,510.7 L547.0,510.2 L547.9,508.8 L548.8,507.8 L549.7,506.3 L550.6,506.0 L551.5,504.7 L552.4,505.7 L553.3,504.4 L554.2,504.0 L555.1,500.2 L556.0,499.9 L556.9,498.6 L557.9,498.5 L558.7,497.3 L559.5,497.2 L560.4,496.3 L561.2,496.5 L562.1,495.7 L563.0,495.8 L563.9,494.9 L564.9,495.2 L565.8,494.4 L566.7,495.9 L567.6,495.0 L568.5,495.1 L569.4,494.4 L570.3,494.5 L571.2,493.7 L572.1,494.4 L573.0,493.3 L573.8,493.4 L574.7,492.2 L575.5,492.9 L576.3,491.6 L577.1,491.6 L578.0,490.3 L579.0,490.1 L579.8,488.5 L580.7,488.4 L581.5,486.8 L582.3,486.2 L583.2,484.1 L584.1,480.8 L584.9,478.5 L585.8,477.9 L586.7,478.5 L587.6,478.8 L588.5,477.0 L589.4,474.9 L590.3,473.4 L591.3,473.9 L592.2,473.1 L593.2,473.8 L594.1,472.8 L595.1,474.7 L595.9,473.5 L596.7,474.4 L597.6,473.3 L598.4,472.8 L599.3,471.8 L600.3,472.9 L601.1,472.7 L601.9,474.0 L602.7,473.5 L603.7,474.0 L604.6,473.8 L605.5,475.3 L606.4,475.4 L607.2,476.6 L608.0,477.5 L608.7,479.7 L609.3,480.4 L610.0,482.5 L610.5,483.3 L610.9,485.6 L611.3,486.3 L611.7,488.5 L612.2,489.0 L612.6,493.3 L613.2,494.6 L613.8,497.3 L614.4,498.0 L614.9,500.4 L615.5,499.8 L616.1,502.3 L616.7,502.8 L617.3,505.4 L617.8,505.8 L618.4,507.6 L619.1,508.2 L620.0,510.9 L620.9,511.6 L621.8,513.8 L622.7,513.7 L623.6,515.4 L624.5,515.8 L625.4,517.0 L626.3,516.5 L627.2,517.2 L628.2,516.8 L629.2,517.8 L630.1,517.5 L631.0,518.1 L631.9,517.0 L632.8,517.2 L633.6,515.6 L634.5,516.1 L635.3,513.8 L636.2,514.0 L637.1,512.8 L638.0,513.1 L638.8,513.9 L639.7,514.0 L640.6,512.7 L641.4,512.5 L642.3,511.1 L643.2,511.5 L644.0,510.3 L644.9,510.0 L645.7,508.7 L646.6,509.1 L647.5,506.6 L648.3,506.9 L649.2,505.6 L650.0,506.6 L650.9,505.5 L651.8,505.6 L652.6,504.5 L653.5,504.8 L654.4,503.6 L655.3,503.6 L656.2,501.9 L657.1,502.1 L658.0,500.9 L658.9,501.4 L659.8,500.4 L660.8,501.0 L661.8,499.9 L662.8,500.6 L663.8,499.6 L664.8,502.3 L665.6,501.2 L666.4,501.9 L667.2,501.0 L668.2,499.7 L669.1,498.7 L670.1,499.5 L671.1,498.6 L672.1,499.5 L673.1,498.2 L674.1,500.6 L675.1,499.6 L676.1,500.5 L677.1,500.2 L678.1,501.2 L679.1,500.2 L680.1,499.9 L681.1,499.1 L682.1,500.3 L683.1,498.9 L684.1,499.9 L685.1,499.4 L686.1,502.2 L687.1,501.4 L688.1,502.4 L689.1,500.8 L689.9,501.7 L690.7,500.8 L691.5,501.6 L692.3,500.7 L693.1,501.4 L693.9,499.2 L694.7,500.2 L695.7,499.2 L696.7,499.8 L697.7,499.1 L698.6,499.7 L699.6,498.9 L700.6,499.3 L701.5,498.1 L702.5,498.5 L703.4,499.3 L704.4,499.7 L705.3,498.5 L706.3,497.2 L707.2,496.0 L708.2,496.8 L709.2,495.6 L710.2,496.5 L711.2,495.5 L712.0,497.7 L712.8,496.6 L713.6,497.4 L714.4,496.5 L715.2,497.3 L716.0,496.5 L717.0,497.8 L718.0,496.9 L719.0,497.6 L720.0,496.8 L721.0,497.4 L722.0,496.4 L723.0,497.6 L724.0,496.9 L725.0,497.7 L726.0,496.7 L727.0,497.5 L727.9,496.8 L728.9,497.5 L729.9,496.6 L730.9,497.6 L731.7,496.7 L732.5,497.0 L733.3,496.2 L734.1,497.1 L734.9,496.3 L735.7,497.0 L736.6,496.3 L737.4,497.2 L738.2,495.2 L739.2,495.9 L740.1,495.3 L741.1,497.3 L742.1,496.6 L743.1,497.3 L744.1,494.5 L745.1,495.0 L746.1,494.2 L747.1,496.5 L748.1,495.6 L749.0,496.0 L750.0,494.5 L751.0,495.0 L752.0,494.1 L753.0,494.0 L754.0,493.3 L755.0,493.9 L756.0,495.3 L757.0,495.9 L758.0,495.4 L759.0,494.2 L759.8,493.6 L760.6,494.4 L761.4,493.8 L762.2,494.5 L763.2,493.9 L764.2,496.5 L765.2,496.1 L766.2,496.7 L767.0,494.2 L767.8,494.8 L768.7,494.1 L769.5,494.7 L770.4,493.9 L771.2,494.4 L772.1,493.7 L772.9,493.6 L773.8,492.7 L774.7,493.0 L775.5,492.2 L776.4,494.8 L777.2,493.5 L778.1,492.7 L778.9,488.2 L779.7,487.3 L780.5,485.5 L781.4,484.8 L782.2,482.9 L783.1,482.2 L783.9,480.9 L784.8,483.1 L785.6,483.5 L786.5,485.5 L787.3,485.2 L788.1,487.0 L788.9,488.0 L789.5,489.9 L790.2,490.9 L791.0,493.1 L791.9,493.8 L792.8,497.3 L793.7,497.7 L794.7,499.0 L795.5,499.0 L796.3,500.6 L797.2,500.2 L798.1,500.9 L799.1,500.6 L799.9,501.3 L800.7,500.8 L801.6,499.0 L802.4,498.3 L803.2,499.1 L804.0,498.4 L804.8,499.0 L805.8,498.7 L806.8,499.2 L807.6,500.7 L808.4,501.5 L809.2,501.0 L810.0,500.2 L810.9,499.7 L811.7,500.5 L812.7,499.9 L813.5,500.7 L814.5,500.2 L815.4,501.0 L816.2,499.7 L816.5,498.7 L816.6,496.2 L816.7,495.0 L816.8,492.4 L817.0,491.5 L817.1,488.8 L817.1,487.9 L817.2,485.5 L817.3,484.6 L817.3,482.2 L817.4,481.2 L817.5,478.7 L817.6,477.8 L817.7,475.4 L817.8,474.5 L817.9,472.1 L818.0,471.3 L818.1,469.1 L818.3,467.9 L818.4,465.7 L818.5,464.4 L818.5,462.1 L818.6,460.8 L818.7,458.6 L818.8,457.3 L818.8,455.0 L818.9,454.0 L818.9,451.9 L819.0,450.9 L819.0,448.6 L819.1,447.5 L819.1,445.4 L819.2,444.1 L819.2,442.0 L819.2,440.8 L819.3,438.7 L819.3,437.6 L819.4,435.6 L819.4,434.6 L819.5,432.7 L819.5,431.7 L819.6,429.5 L819.6,428.6 L819.7,426.5 L819.7,425.4 L819.8,423.0 L819.8,422.2 L819.9,419.5 L819.9,418.7 L820.0,416.2 L820.1,415.4 L820.1,412.9 L820.2,412.2 L820.2,409.9 L820.3,409.2 L820.3,406.7 L820.4,406.1 L820.4,403.7 L820.5,402.8 L820.6,400.6 L820.6,399.6 L820.7,397.3 L820.7,396.4 L820.8,394.1 L820.8,393.0 L820.9,390.9 L821.0,389.8 L821.0,387.6 L821.1,386.7 L821.1,384.5 L821.2,383.6 L821.2,381.3 L821.3,380.3 L821.3,378.1 L821.3,377.1 L821.4,374.9 L821.4,374.4 L821.5,372.2 L821.5,371.2 L821.6,368.8 L821.6,367.7 L821.7,365.2 L821.8,364.0 L821.9,361.5 L822.0,360.6 L822.1,358.1 L822.4,357.4 L823.3,356.3 L823.9,358.6 L824.0,359.6 L824.1,362.1 L824.2,365.3 L824.3,367.8 L824.3,368.7 L824.4,371.3 L824.4,372.3 L824.5,374.7 L824.5,375.6 L824.6,377.8 L824.6,378.8 L824.6,381.0 L824.7,381.9 L824.7,384.4 L824.7,385.2 L824.8,387.7 L824.8,388.3 L824.9,390.9 L824.9,391.5 L824.9,394.0 L825.0,395.0 L825.0,397.3 L825.1,398.1 L825.1,400.6 L825.2,401.3 L825.2,403.9 L825.2,404.5 L825.3,407.0 L825.3,407.9 L825.3,410.4 L825.4,411.4 L825.4,413.7 L825.5,414.6 L825.5,416.9 L825.5,418.0 L825.6,420.3 L825.6,421.3 L825.7,423.5 L825.7,424.3 L825.7,426.6 L825.8,427.4 L825.8,429.9 L825.9,430.4 L825.9,433.0 L825.9,433.8 L826.0,436.0 L826.0,436.6 L826.1,439.1 L826.1,439.9 L826.1,442.3 L826.2,442.7 L826.2,445.5 L826.3,446.3 L826.3,448.7 L826.3,449.3 L826.4,452.0 L826.4,452.7 L826.5,455.3 L826.5,456.1 L826.5,458.4 L826.6,459.1 L826.6,461.6 L826.7,462.2 L826.7,464.7 L826.7,465.3 L826.8,467.6 L826.8,468.4 L826.9,471.1 L826.9,471.9 L826.9,474.4 L827.0,475.4 L827.0,477.8 L827.0,476.7 L827.0,479.2 L827.1,479.8 L827.1,482.2 L827.1,483.0 L827.2,485.4 L827.2,486.2 L827.2,488.5 L827.3,489.6 L827.3,491.9 L827.4,493.0 L827.5,495.4 L827.5,496.1 L827.6,498.4 L827.7,499.1 L827.7,501.6 L827.8,502.5 L828.0,504.9 L828.1,506.0 L828.2,508.5 L828.3,509.3 L828.5,512.0 L828.7,512.8 L828.9,515.3 L829.1,516.3 L829.3,518.8 L829.6,519.9 L829.9,523.6 L830.3,524.5 L830.8,526.9 L831.7,527.1 L832.4,525.9 L833.0,523.5 L833.5,522.4 L834.1,519.8 L834.8,519.0 L835.4,516.5 L836.1,513.6 L836.8,511.4 L837.6,510.9 L838.5,510.2 L839.3,509.9 L840.2,508.1 L841.1,508.3 L842.0,506.3 L842.8,506.6 L843.7,505.0 L844.5,504.7 L845.4,503.3 L846.2,503.5 L847.0,503.4 L847.9,503.7 L848.7,502.3 L849.6,502.8 L850.4,501.9 L851.3,502.2 L852.2,500.2 L853.1,499.2 L854.0,497.4 L855.0,497.4 L855.8,498.0 L856.6,498.3 L857.5,496.9 L858.5,497.4 L859.5,495.7 L860.5,496.1 L861.5,495.0 L862.4,495.4 L863.4,494.1 L864.3,494.7 L865.2,493.0 L866.0,493.3 L866.9,491.8 L867.8,491.8 L868.6,490.2 L869.4,490.0 L870.2,487.7 L871.0,487.6 L871.9,486.2 L872.7,485.8 L873.6,485.1 L874.5,484.9 L875.5,483.6 L876.4,482.1 L877.3,480.8 L878.3,480.8 L879.2,481.1 L880.1,481.0 L881.0,479.6 L881.9,480.0 L882.7,478.5 L883.6,478.6 L884.4,477.1 L885.3,475.1 L886.1,473.5 L886.9,473.4 L887.7,471.1 L888.7,470.8 L889.6,468.6 L890.5,469.1 L891.3,468.1 L892.2,469.3 L893.2,471.1 L894.0,472.6 L894.9,472.8 L895.8,474.8 L896.7,472.3 L897.5,474.2 L898.4,474.7 L899.3,477.1 L900.1,477.7 L900.9,480.1 L901.8,481.5 L902.5,483.9 L903.3,484.7 L904.0,487.0 L904.7,488.4 L905.4,490.6 L906.1,491.4 L906.8,493.4 L907.3,494.1 L907.8,496.2 L908.3,496.9 L908.8,499.0 L909.4,500.0 L910.0,502.4 L910.7,502.9 L911.3,505.0 L911.9,506.2 L912.6,508.3 L913.3,510.5 L914.1,512.5 L915.0,513.3 L915.8,514.8 L916.6,515.8 L917.5,517.3 L918.4,517.3 L919.2,516.6 L920.1,516.4 L921.0,517.2 L921.9,517.9 L922.9,518.4 L923.7,517.9 L924.5,518.4 L925.4,517.7 L926.2,518.3 L927.0,517.5 L928.0,517.9 L928.9,517.3 L929.8,517.6 L930.7,515.9 L931.5,516.0 L932.3,514.9 L933.2,514.1 L934.0,512.6 L934.8,512.7 L935.6,511.2 L936.4,512.6 L937.3,511.4 L938.1,511.5 L938.9,510.0 L939.8,510.2 L940.6,508.9 L941.4,509.0 L942.3,505.6 L943.1,505.8 L943.9,504.4 L944.8,506.4 L945.8,504.7 L946.7,504.6 L947.6,502.9 L948.5,503.1 L949.3,501.3 L950.2,502.1 L951.1,501.5 L952.0,502.4 L953.0,501.2 L954.0,500.9 L954.8,499.9 L955.6,500.8 L956.4,498.5 L957.2,499.4 L958.1,498.6 L958.9,499.3 L959.7,500.3 L960.7,501.3 L961.6,500.2 L962.6,499.5 L963.5,498.2 L964.5,498.8 L965.4,499.2 L966.4,499.9 L967.3,498.5 L968.3,497.5 L969.2,496.3 L970.2,497.2 L971.1,495.8 L972.1,497.1 L973.1,496.4 L974.0,498.3 L975.0,497.8 L976.0,499.2 L976.9,499.9 L977.9,501.0 L978.9,500.4 L979.9,499.9 L980.9,499.3 L981.8,499.9 L982.8,501.0 L983.8,501.7 L984.8,500.8 L985.8,498.9 L986.8,498.0 L987.8,498.6 L988.8,499.1 L989.8,499.4 L990.8,498.7 L991.8,499.1 L992.8,498.3 L993.8,498.8 L994.8,496.7 L995.7,497.0 L996.7,496.4 L997.7,498.8 L998.7,498.2 L999.7,498.5 L1000.7,497.9 L1001.7,498.3 L1002.5,497.8 L1003.3,497.0 L1004.1,496.4 L1004.9,496.8 L1005.7,496.3 L1006.5,498.7 L1007.5,498.2 L1008.5,498.6 L1009.5,495.4 L1010.5,495.9 L1011.5,495.3 L1012.5,496.3 L1013.5,495.6 L1014.5,495.8 L1015.4,496.3 L1016.4,496.5 L1017.4,495.5 L1018.4,493.9 L1019.3,493.0 L1020.3,493.4 L1021.3,492.5 L1022.3,492.9 L1023.3,492.2 L1024.3,494.2 L1025.2,493.9 L1026.2,494.7 L1027.2,493.0 L1028.2,493.9 L1029.2,493.6 L1030.2,496.5 L1031.2,496.2 L1032.1,497.1 L1033.1,497.4 L1034.1,498.2 L1035.1,497.9 L1036.1,495.7 L1036.9,495.3 L1037.7,495.6 L1038.5,497.7 L1039.4,498.2 L1040.2,497.6 L1041.0,498.0 L1041.8,497.4 L1042.6,497.8 L1043.4,497.3 L1044.4,495.7 L1045.4,495.1 L1046.4,495.4 L1047.3,496.6 L1048.2,496.9 L1049.1,496.0 L1050.0,494.0 L1050.8,493.0 L1051.7,492.8 L1052.5,491.6 L1053.3,492.0 L1054.2,490.6 L1055.2,490.3 L1056.1,488.1 L1057.0,487.7 L1057.9,486.0 L1058.7,487.4 L1059.6,485.6 L1060.4,485.6 L1061.2,484.1 L1062.1,484.5 L1063.0,483.9 L1063.9,485.8 L1064.8,484.9 L1065.6,487.1 L1066.4,487.5 L1067.1,490.6 L1067.8,491.1 L1068.4,493.6 L1069.3,494.3 L1070.2,496.8 L1071.0,497.0 L1071.8,498.8 L1072.8,499.2 L1073.6,500.6 L1074.5,500.5 L1075.4,499.4 L1076.3,499.0 L1077.2,499.7 L1078.2,499.2 L1079.0,499.3 L1079.8,498.7 L1080.6,499.2 L1081.4,500.1 L1082.3,500.7 L1083.1,500.2 L1083.9,500.6 L1084.7,499.3 L1085.5,499.8 L1086.3,499.3 L1087.1,500.4 L1088.1,499.9 L1089.0,500.5 L1090.0,499.4 L1091.0,499.9 L1091.8,499.6 L1092.6,501.2 L1092.9,498.9 L1093.0,497.7 L1093.1,495.3 L1093.2,494.1 L1093.4,491.8 L1093.5,490.5 L1093.5,488.4 L1093.6,487.2 L1093.7,485.1 L1093.8,484.1 L1093.8,482.0 L1093.9,481.0 L1094.0,478.8 L1094.1,478.0 L1094.1,475.7 L1094.2,474.9 L1094.3,472.5 L1094.4,471.5 L1094.5,469.1 L1094.6,468.4 L1094.6,466.0 L1094.7,465.2 L1094.8,462.8 L1094.8,462.1 L1094.9,459.2 L1095.0,458.9 L1095.0,456.1 L1095.1,455.3 L1095.1,452.9 L1095.2,452.1 L1095.2,449.6 L1095.3,448.8 L1095.4,446.3 L1095.4,445.6 L1095.5,443.6 L1095.5,442.9 L1095.5,440.4 L1095.6,439.7 L1095.6,437.2 L1095.7,436.2 L1095.7,433.9 L1095.8,433.2 L1095.8,430.9 L1095.9,429.8 L1095.9,427.5 L1096.0,426.7 L1096.0,424.3 L1096.1,423.5 L1096.1,421.1 L1096.2,420.2 L1096.3,417.8 L1096.3,416.9 L1096.4,414.8 L1096.4,413.9 L1096.5,411.7 L1096.5,410.9 L1096.6,408.8 L1096.6,408.0 L1096.7,405.9 L1096.8,404.9 L1096.8,402.8 L1096.9,401.9 L1096.9,399.8 L1097.0,398.9 L1097.0,396.8 L1097.1,395.8 L1097.2,394.0 L1097.2,392.8 L1097.3,390.5 L1097.3,389.1 L1097.4,386.8 L1097.4,385.5 L1097.5,383.2 L1097.5,382.0 L1097.6,379.6 L1097.6,378.6 L1097.7,376.4 L1097.7,375.6 L1097.8,373.6 L1097.8,372.6 L1097.8,370.5 L1097.9,369.6 L1097.9,367.3 L1098.0,366.5 L1098.1,364.1 L1098.1,362.9 L1098.2,357.9 L1098.3,357.1 L1098.4,354.5 L1098.5,353.5 L1099.2,351.5 L1100.0,352.1 L1100.4,353.0 L1100.5,355.4 L1100.6,356.2 L1100.7,358.6 L1100.8,359.7 L1100.8,362.2 L1100.9,363.3 L1100.9,365.8 L1100.9,366.7 L1101.0,369.1 L1101.0,370.1 L1101.0,373.0 L1101.1,373.9 L1101.1,376.3 L1101.1,376.9 L1101.1,379.2 L1101.2,380.1 L1101.2,382.4 L1101.3,383.1 L1101.3,385.5 L1101.3,386.3 L1101.4,388.7 L1101.4,389.7 L1101.5,392.4 L1101.5,393.4 L1101.5,395.7 L1101.6,396.7 L1101.6,398.9 L1101.7,399.9 L1101.7,401.9 L1101.7,402.8 L1101.8,404.9 L1101.8,405.9 L1101.9,408.0 L1101.9,409.0 L1101.9,411.1 L1102.0,412.3 L1102.0,414.4 L1102.1,415.4 L1102.1,417.6 L1102.1,418.7 L1102.2,420.9 L1102.2,422.1 L1102.3,424.2 L1102.3,425.3 L1102.3,427.4 L1102.4,428.5 L1102.4,430.6 L1102.5,431.8 L1102.5,434.0 L1102.5,434.9 L1102.6,437.1 L1102.6,438.0 L1102.7,440.1 L1102.7,441.2 L1102.7,443.3 L1102.8,444.3 L1102.8,446.4 L1102.9,447.2 L1102.9,449.3 L1102.9,450.2 L1103.0,452.3 L1103.0,453.4 L1103.1,455.5 L1103.1,456.4 L1103.1,458.7 L1103.2,459.7 L1103.2,462.0 L1103.3,463.2 L1103.3,465.4 L1103.3,466.4 L1103.4,468.8 L1103.4,469.7 L1103.4,472.1 L1103.5,473.0 L1103.5,475.5 L1103.5,476.4 L1103.5,478.7 L1103.6,479.8 L1103.6,482.2 L1103.7,483.0 L1103.7,485.4 L1103.7,486.5 L1103.8,488.8 L1103.9,489.2 L1103.9,491.8 L1104.0,492.7 L1104.0,494.9 L1104.1,495.8 L1104.2,498.2 L1104.3,499.1 L1104.3,501.5 L1104.4,502.4 L1104.5,504.6 L1104.6,505.6 L1104.8,507.6 L1104.9,508.5 L1105.1,511.0 L1105.2,512.0 L1105.4,514.4 L1105.6,515.3 L1105.9,517.9 L1106.2,518.8 L1106.5,521.3 L1107.1,524.9 L1107.9,526.8 L1108.7,525.4 L1109.6,524.3 L1110.4,522.0 L1111.2,521.3 L1112.0,519.0 L1112.6,519.0 L1113.3,517.0 L1114.0,516.1 L1114.8,513.8 L1115.6,513.1 L1116.5,511.1 L1117.4,510.8 L1118.2,507.1 L1119.1,506.8 L1120.0,505.4 L1120.9,505.3 L1121.8,505.1 L1122.7,504.8 L1123.7,503.5 L1124.6,502.8 L1125.4,501.5 L1126.3,501.9 L1127.1,501.4 L1128.0,501.4 L1128.8,500.4 L1129.7,500.7 L1130.6,500.1 L1131.5,500.5 L1132.3,499.2 L1133.2,497.7 L1134.1,496.5 L1135.0,496.8 L1135.9,497.3 L1136.8,497.7 L1137.7,496.4 L1138.6,494.9 L1139.5,493.4 L1140.4,493.7 L1141.3,491.7 L1142.2,492.2 L1143.0,490.5 L1143.9,491.1 L1144.8,490.7 L1145.7,491.1 L1146.5,489.7 L1147.4,489.4 L1148.3,487.8 L1149.2,488.1 L1150.0,487.2 L1150.8,487.7 L1151.6,486.2 L1152.6,486.3 L1153.5,483.2 L1154.3,483.3 L1155.2,481.2 L1156.0,482.5 L1156.9,479.9 L1157.7,479.7 L1158.5,478.5 L1159.3,478.2 L1160.2,476.6 L1161.1,476.7 L1162.0,474.2 L1162.9,474.9 L1163.8,473.6 L1164.7,475.3 L1165.7,474.4 L1166.7,475.3 L1167.5,474.7 L1168.3,475.8 L1169.1,475.0 L1169.9,476.3 L1170.9,473.0 L1171.9,474.1 L1172.8,473.7 L1173.7,477.7 L1174.6,477.6 L1175.4,478.7 L1176.3,477.0 L1177.2,478.4 L1178.0,478.8 L1178.9,482.0 L1179.7,482.9 L1180.4,484.8 L1181.1,485.7 L1181.8,488.4 L1182.5,489.6 L1183.2,491.9 L1183.8,492.9 L1184.3,494.9 L1184.9,494.0 L1185.5,496.1 L1186.0,497.0 L1186.7,499.1 L1187.3,500.0 L1187.8,503.9 L1188.4,504.8 L1189.1,506.9 L1189.7,507.7 L1190.5,509.3 L1191.4,510.3 L1192.3,512.3 L1193.1,513.5 L1194.1,515.4 L1194.9,515.7 L1195.8,517.0 L1196.8,517.0 L1197.7,518.2 L1198.7,517.2 L1199.7,518.4 L1200.7,517.8 L1201.6,518.4 L1202.5,517.4 L1203.5,517.9 L1204.4,516.0 L1205.3,516.3 L1206.2,515.1 L1207.1,515.3 L1208.0,515.4 L1208.9,515.4 L1209.7,514.3 L1210.5,511.7 L1211.3,510.3 L1212.3,510.3 L1213.2,510.7 L1214.2,510.5 L1215.0,509.1 L1215.8,509.3 L1216.6,505.8 L1217.4,506.1 L1218.2,504.6 L1219.0,507.3 L1219.9,506.0 L1220.7,506.3 L1221.6,504.9 L1222.4,504.8 L1223.3,503.6 L1224.2,504.1 L1225.1,501.4 L1226.1,501.9 L1227.1,500.9 L1228.0,502.0 L1229.0,500.8 L1230.0,501.5 L1231.0,500.4 L1231.9,501.2 L1232.9,500.4 L1233.9,502.3 L1234.9,501.6 L1235.9,502.3 L1236.9,500.7 L1237.7,501.4 L1238.5,500.7 L1239.3,499.4 L1240.1,498.8 L1240.9,499.3 L1241.9,498.6 L1242.9,499.2 L1243.9,498.2 L1244.9,499.9 L1245.9,499.1 L1246.9,499.5 L1247.9,498.0 L1248.9,498.4 L1249.8,497.6 L1250.8,500.0 L1251.8,499.3 L1252.8,499.8 L1253.8,497.3 L1254.8,498.0 L1255.8,497.8 L1256.8,497.8 L1257.8,497.6 L1258.8,498.3 L1259.8,498.0 L1260.8,498.7 L1261.8,498.3 L1262.8,501.6 L1263.8,501.4 L1264.8,501.8 L1265.8,498.7 L1266.7,499.2 L1267.7,498.5 L1268.7,501.4 L1269.7,500.6 L1270.7,501.0 L1271.6,498.9 L1272.6,499.1 L1273.6,498.3 L1274.6,499.9 L1275.5,499.1 L1276.5,499.5 L1277.5,497.4 L1278.5,497.7 L1279.5,496.7 L1280.5,498.5 L1281.4,497.5 L1282.4,497.8 L1283.4,496.4 L1284.4,496.7 L1285.4,496.1 L1286.3,497.2 L1287.3,496.4 L1288.3,497.0 L1289.3,495.0 L1290.2,495.9 L1291.2,495.4 L1292.2,495.6 L1293.1,495.4 L1294.1,496.3 L1295.1,496.7 L1296.1,497.6 L1297.0,497.1 L1298.0,496.4 L1299.0,495.6 L1300.0,496.2 L1300.9,498.0 L1301.9,498.5 L1302.9,497.7 L1303.9,495.5 L1304.9,494.4 L1305.9,495.2 L1306.9,496.2 L1307.8,496.9 L1308.8,496.0 L1309.8,496.6 L1310.6,495.8 L1311.5,496.6 L1312.3,495.6 L1313.1,495.2 L1313.9,494.2 L1314.7,495.1 L1315.7,495.5 L1316.6,496.1 L1317.6,495.0 L1318.6,494.5 L1319.4,493.3 L1320.3,493.9 L1321.1,492.7 L1321.9,494.1 L1322.9,492.9 L1323.8,493.2 L1324.7,492.5 L1325.6,492.8 L1326.5,490.6 L1327.3,490.6 L1328.1,488.2 L1328.8,487.7 L1329.3,485.2 L1329.8,484.5 L1330.4,482.0 L1331.2,482.1 L1332.1,482.6 L1332.7,482.5 L1333.2,483.1 L1333.8,485.9 L1334.5,486.2 L1335.2,488.6 L1336.0,491.8 L1336.7,494.4 L1337.6,494.7 L1338.4,496.1 L1339.3,496.1 L1340.2,498.3 L1341.1,496.9 L1341.9,498.6 L1342.8,498.1 L1343.7,499.6 L1344.5,499.2 L1345.4,500.4 L1346.4,499.2 L1347.4,501.0 L1348.2,499.8 L1349.0,501.0 L1349.8,499.9 L1350.7,500.7 L1351.5,499.9 L1352.3,500.9 L1353.1,500.6 L1353.9,501.4 L1354.9,500.5 L1355.9,499.7 L1356.9,499.0 L1357.9,500.0 L1358.9,499.3 L1359.7,500.3 L1360.7,499.5 L1361.6,502.0 L1362.4,501.4 L1362.9,500.7 L1363.0,498.1 L1363.1,497.3 L1363.2,494.5 L1363.3,493.9 L1363.5,491.1 L1363.5,490.6 L1363.6,487.9 L1363.7,487.5 L1363.8,484.7 L1363.8,483.8 L1363.9,481.2 L1364.0,480.5 L1364.0,477.7 L1364.1,477.0 L1364.2,474.3 L1364.3,473.5 L1364.3,471.4 L1364.4,470.5 L1364.5,468.5 L1364.5,467.5 L1364.6,465.6 L1364.7,464.6 L1364.7,462.6 L1364.8,461.3 L1364.8,459.0 L1364.9,457.9 L1365.0,455.5 L1365.0,454.3 L1365.1,452.0 L1365.1,451.0 L1365.2,448.4 L1365.2,447.8 L1365.3,445.1 L1365.3,444.6 L1365.4,442.1 L1365.4,441.5 L1365.5,438.6 L1365.5,438.0 L1365.6,435.5 L1365.6,435.2 L1365.7,432.8 L1365.7,432.3 L1365.8,429.8 L1365.8,429.2 L1365.9,426.8 L1365.9,426.1 L1366.0,423.5 L1366.0,422.9 L1366.1,420.4 L1366.1,419.6 L1366.2,417.1 L1366.2,416.5 L1366.3,414.2 L1366.4,413.2 L1366.4,410.9 L1366.5,410.0 L1366.5,407.7 L1366.6,407.0 L1366.6,404.7 L1366.7,403.9 L1366.8,401.6 L1366.8,400.5 L1366.9,398.1 L1366.9,397.0 L1367.0,394.8 L1367.0,391.6 L1367.1,389.3 L1367.1,388.2 L1367.2,386.1 L1367.3,385.2 L1367.3,383.1 L1367.4,382.2 L1367.4,380.0 L1367.5,379.0 L1367.5,377.0 L1367.6,376.0 L1367.6,373.8 L1367.7,372.9 L1367.7,370.6 L1367.7,369.6 L1367.8,367.4 L1367.8,366.5 L1367.9,364.4 L1367.9,363.3 L1368.0,361.3 L1368.0,360.1 L1368.1,357.8 L1368.2,356.7 L1368.3,354.3 L1368.4,353.3 L1368.5,350.7 L1369.3,350.0 L1370.1,350.0 L1370.4,352.4 L1370.5,353.3 L1370.6,355.7 L1370.7,356.6 L1370.8,359.3 L1370.8,360.2 L1370.9,362.9 L1370.9,363.7 L1370.9,366.0 L1371.0,366.9 L1371.0,369.3 L1371.0,370.2 L1371.1,372.5 L1371.1,373.2 L1371.1,375.5 L1371.1,376.3 L1371.2,378.5 L1371.2,379.4 L1371.3,381.5 L1371.3,382.5 L1371.3,384.8 L1371.4,385.7 L1371.4,388.1 L1371.5,389.1 L1371.5,391.3 L1371.5,392.3 L1371.6,394.7 L1371.6,395.6 L1371.7,397.8 L1371.7,398.8 L1371.7,400.9 L1371.8,402.0 L1371.8,404.1 L1371.9,405.0 L1371.9,407.5 L1371.9,408.3 L1372.0,410.8 L1372.0,411.6 L1372.1,414.1 L1372.1,415.1 L1372.1,417.4 L1372.2,418.1 L1372.2,420.4 L1372.3,421.3 L1372.3,423.6 L1372.3,424.2 L1372.4,426.7 L1372.4,427.2 L1372.5,429.7 L1372.5,430.4 L1372.5,432.9 L1372.6,433.5 L1372.6,436.2 L1372.7,436.8 L1372.7,439.3 L1372.7,440.0 L1372.8,442.4 L1372.8,443.2 L1372.9,446.0 L1372.9,446.7 L1372.9,449.2 L1373.0,450.1 L1373.0,452.6 L1373.1,453.4 L1373.1,455.9 L1373.1,456.7 L1373.2,459.3 L1373.2,459.9 L1373.3,462.6 L1373.3,463.5 L1373.3,465.8 L1373.4,466.6 L1373.4,469.0 L1373.4,469.8 L1373.5,472.0 L1373.5,472.8 L1373.5,475.1 L1373.6,475.9 L1373.6,478.2 L1373.6,478.8 L1373.7,481.2 L1373.7,482.1 L1373.8,484.8 L1373.8,485.7 L1373.9,488.4 L1373.9,489.4 L1374.0,491.6 L1374.0,492.5 L1374.1,494.8 L1374.1,495.5 L1374.2,498.1 L1374.3,498.8 L1374.3,501.0 L1374.4,502.0 L1374.5,504.6 L1374.5,505.1 L1374.6,507.9 L1374.7,508.7 L1374.8,511.2 L1375.0,512.4 L1375.1,515.1 L1375.3,515.9 L1375.4,518.5 L1375.6,518.6 L1375.8,521.2 L1376.1,522.2 L1376.5,524.5 L1377.0,525.5 L1377.8,527.0 L1378.6,525.4 L1379.4,524.6 L1380.1,522.3 L1380.8,521.8 L1381.4,519.5 L1382.0,518.9 L1382.5,516.4 L1383.1,515.6 L1383.9,513.0 L1384.7,513.8 L1385.6,511.6 L1386.4,511.6 L1387.3,509.9 L1388.2,510.0 L1389.1,508.0 L1390.0,506.9 L1390.9,505.0 L1391.8,505.3 L1392.7,505.3 L1393.6,505.3 L1394.5,503.6 L1395.4,503.6 L1396.4,502.5 L1397.2,502.9 L1398.0,501.5 L1398.8,499.3 L1399.7,497.9 L1400.6,498.4 L1401.5,497.5 L1402.4,498.1 L1403.4,496.8 L1404.3,498.6 L1405.2,497.3 L1406.1,497.9 L1407.0,496.4 L1407.8,495.7 L1408.7,494.2 L1409.5,494.5 L1410.3,492.4 L1411.2,492.7 L1412.0,491.2 L1412.8,491.4 L1413.7,490.6 L1414.7,490.5 L1415.6,489.0 L1416.5,488.9 L1417.4,487.4 L1418.3,487.5 L1419.2,485.1 L1420.0,485.0 L1420.8,483.1 L1421.7,484.6 L1422.5,482.6 L1423.3,482.8 L1424.2,480.9 L1425.1,480.6 L1426.0,478.8 L1426.8,479.0 L1427.7,477.9 L1428.6,478.2 L1429.6,476.4 L1430.5,477.5 L1431.3,476.0 L1432.2,476.6 L1433.1,473.2 L1434.0,473.6 L1434.9,472.5 L1435.9,473.0 L1436.8,472.0 L1437.8,472.8 L1438.7,473.3 L1439.7,474.2 L1440.5,473.7 L1441.5,476.0 L1442.5,475.8 L1443.3,477.0 L1444.2,477.0 L1445.1,477.2 L1446.0,477.9 L1446.9,479.7 L1447.7,480.1 L1448.5,482.0 L1449.3,482.4 L1450.3,484.0 L1451.1,484.2 L1451.9,485.8 L1452.7,486.7 L1453.2,490.9 L1453.5,492.0 L1453.8,494.5 L1454.1,495.6 L1454.5,498.2 L1455.1,499.1 L1456.0,500.2 L1456.9,500.4 L1457.7,502.2 L1458.1,501.5" stroke="#c8003c" stroke-width="3.8" fill="none" stroke-linejoin="round" stroke-linecap="butt"/>
</g>
<g stroke="#4d4d4d" stroke-width="1.4" fill="none">
<path d="M102.0,561.0 V37.0 H1482.0"/>
<path d="M102.0,561.0 H1482.0"/>
</g>
<g stroke="#dd3a66" stroke-width="1.4" fill="none">
<path d="M1495.0,37.0 V561.0"/>
<path d="M1495.0,561.00h-13 M1495.0,456.20h-13 M1495.0,351.40h-13 M1495.0,246.60h-13 M1495.0,141.80h-13 M1495.0,37.00h-13"/>
</g>
<g stroke="#7fb0e0" stroke-width="1.2" fill="none">
<path d="M350.3,37 L354.4,478"/>
<path d="M566.8,37 L569.6,361"/>
<path d="M643.2,37 L646.6,479"/>
</g>
<path d="M351.5,454.3 L365.0,461.1 L365.0,456.6 L517.5,456.6 L517.5,461.1 L531.0,454.3 L517.5,447.6 L517.5,452.0 L365.0,452.0 L365.0,447.6Z" fill="#5b9bd5"/>
<path d="M351.5,477.3 L365.0,484.1 L365.0,479.7 L635.5,481.4 L635.5,485.9 L649.0,479.2 L635.5,472.4 L635.5,476.8 L365.0,475.1 L365.0,470.6Z" fill="#5b9bd5"/>
<path d="M530.3,355.9 L541.8,361.9 L541.8,356.9 L557.3,356.9 L557.3,361.9 L568.8,355.9 L557.3,349.9 L557.3,354.8 L541.8,354.8 L541.8,349.9Z" fill="#5b9bd5"/>
<rect x="1522.3" y="38.3" width="121.3" height="89.2" rx="1" fill="#fff" stroke="#4a4a4a" stroke-width="1.3"/>
<path d="M1526,54.4H1563.8" stroke="#ff9800" stroke-width="4.2"/>
<path d="M1526,83.4H1563.8" stroke="#000" stroke-width="4.2"/>
<path d="M1526,112.3H1563.8" stroke="#c8003c" stroke-width="4.2"/>
<text x="797.9" y="24.9" font-size="26.6" text-anchor="middle" fill="#000" textLength="356.5" lengthAdjust="spacingAndGlyphs">Normalised Displacements</text>
<text x="798.2" y="625.4" font-size="27.2" text-anchor="middle" fill="#000" textLength="99.6" lengthAdjust="spacing">Time (s)</text>
<text x="24.2" y="299" font-size="27.6" text-anchor="middle" fill="#000" textLength="177" lengthAdjust="spacing" transform="rotate(-90 24.2 299)">Displacements</text>
<text x="1548.1" y="298.1" font-size="27.4" text-anchor="middle" fill="#c8003c" textLength="124.2" lengthAdjust="spacing" transform="rotate(-90 1548.1 298.1)">ECG (mV)</text>
<text x="101.3" y="594.0" font-size="26.0" text-anchor="middle" fill="#000">0</text>
<text x="240.7" y="594.0" font-size="26.0" text-anchor="middle" fill="#000">0.5</text>
<text x="380.2" y="594.0" font-size="26.0" text-anchor="middle" fill="#000">1</text>
<text x="519.6" y="594.0" font-size="26.0" text-anchor="middle" fill="#000">1.5</text>
<text x="659.0" y="594.0" font-size="26.0" text-anchor="middle" fill="#000">2</text>
<text x="798.4" y="594.0" font-size="26.0" text-anchor="middle" fill="#000">2.5</text>
<text x="937.9" y="594.0" font-size="26.0" text-anchor="middle" fill="#000">3</text>
<text x="1077.3" y="594.0" font-size="26.0" text-anchor="middle" fill="#000">3.5</text>
<text x="1216.7" y="594.0" font-size="26.0" text-anchor="middle" fill="#000">4</text>
<text x="1356.1" y="594.0" font-size="26.0" text-anchor="middle" fill="#000">4.5</text>
<text x="1495.5" y="594.0" font-size="26.0" text-anchor="middle" fill="#000">5</text>
<text x="93.3" y="571.2" font-size="26.0" text-anchor="end" fill="#000">0</text>
<text x="1503.3" y="570.9" font-size="26.0" text-anchor="start" fill="#c8003c">0</text>
<text x="94.6" y="464.9" font-size="26.0" text-anchor="end" fill="#000">0.2</text>
<text x="1503.3" y="466.1" font-size="26.0" text-anchor="start" fill="#c8003c">1</text>
<text x="94.6" y="360.1" font-size="26.0" text-anchor="end" fill="#000">0.4</text>
<text x="1503.3" y="361.3" font-size="26.0" text-anchor="start" fill="#c8003c">2</text>
<text x="94.6" y="255.3" font-size="26.0" text-anchor="end" fill="#000">0.6</text>
<text x="1503.3" y="256.5" font-size="26.0" text-anchor="start" fill="#c8003c">3</text>
<text x="94.6" y="150.5" font-size="26.0" text-anchor="end" fill="#000">0.8</text>
<text x="1503.3" y="151.7" font-size="26.0" text-anchor="start" fill="#c8003c">4</text>
<text x="94.6" y="45.7" font-size="26.0" text-anchor="end" fill="#000">1</text>
<text x="1503.3" y="46.9" font-size="26.0" text-anchor="start" fill="#c8003c">5</text>
<text x="1566.8" y="61.9" font-size="21.6" text-anchor="start" fill="#000" textLength="54.3" lengthAdjust="spacing">Laser</text>
<text x="1566.8" y="90.9" font-size="21.6" text-anchor="start" fill="#000" textLength="72.6" lengthAdjust="spacing">Images</text>
<text x="1566.8" y="119.8" font-size="21.6" text-anchor="start" fill="#000" textLength="47.0" lengthAdjust="spacing">ECG</text>
<text x="336.6" y="552.0" font-size="33" text-anchor="start" fill="#000" textLength="338.8" lengthAdjust="spacingAndGlyphs">Normalised from v to v</text>
<text x="530.3" y="333.3" font-size="33" text-anchor="start" fill="#000" textLength="44.7" lengthAdjust="spacingAndGlyphs">R-c</text>
<text x="421.5" y="436.4" font-size="33" text-anchor="start" fill="#000" textLength="45.2" lengthAdjust="spacingAndGlyphs">v-R</text>
<text x="508.0" y="365.6" font-size="33" text-anchor="start" fill="#000" textLength="18" lengthAdjust="spacingAndGlyphs" font-style="italic">R</text>
<text x="581.0" y="68.8" font-size="33" text-anchor="start" fill="#000" textLength="15" lengthAdjust="spacingAndGlyphs" font-style="italic">c</text>
<text x="338.0" y="419.0" font-size="33" text-anchor="start" fill="#000" textLength="14.5" lengthAdjust="spacingAndGlyphs" font-style="italic">v</text>
<text x="633.6" y="422.0" font-size="33" text-anchor="start" fill="#000" textLength="14.5" lengthAdjust="spacingAndGlyphs" font-style="italic">v</text>
</svg></body></html>
